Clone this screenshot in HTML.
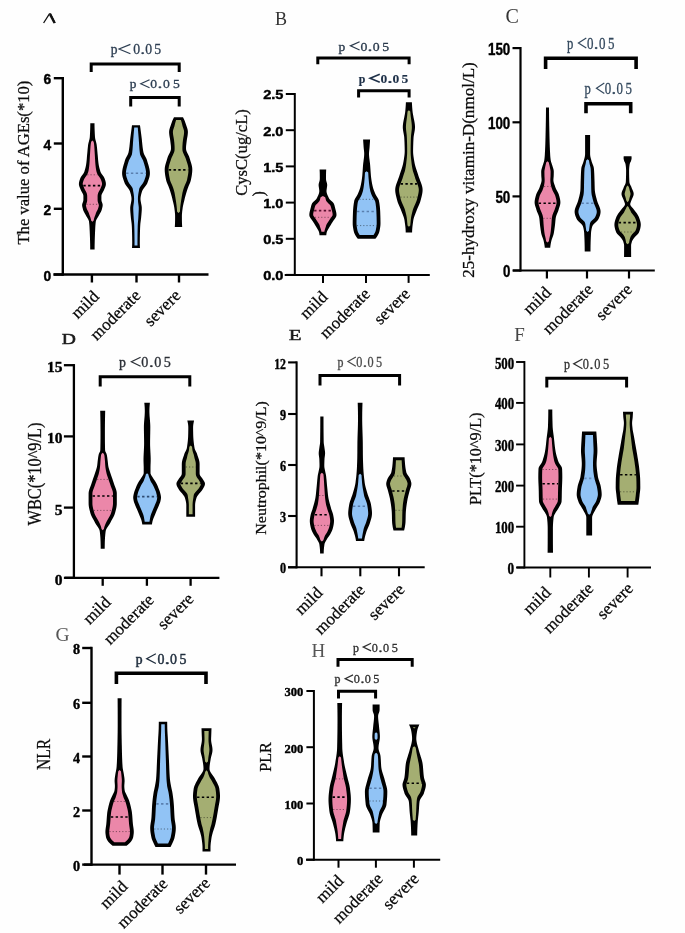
<!DOCTYPE html>
<html><head><meta charset="utf-8"><title>Violin plots</title>
<style>
html,body{margin:0;padding:0;background:#fff;}
body{width:685px;height:933px;overflow:hidden;font-family:"Liberation Serif",serif;}
svg{display:block;filter:blur(0.45px);}
</style></head><body>
<svg width="685" height="933" viewBox="0 0 685 933">
<rect width="685" height="933" fill="#fefefe"/>
<line x1="62.80" y1="77.00" x2="62.80" y2="275.70" stroke="#000" stroke-width="2.40"/>
<line x1="53.40" y1="274.50" x2="208.50" y2="274.50" stroke="#000" stroke-width="2.40"/>
<line x1="53.80" y1="78.20" x2="62.80" y2="78.20" stroke="#000" stroke-width="2.40"/>
<line x1="53.80" y1="143.50" x2="62.80" y2="143.50" stroke="#000" stroke-width="2.40"/>
<line x1="53.80" y1="208.80" x2="62.80" y2="208.80" stroke="#000" stroke-width="2.40"/>
<line x1="53.80" y1="274.50" x2="62.80" y2="274.50" stroke="#000" stroke-width="2.40"/>
<line x1="91.90" y1="274.50" x2="91.90" y2="282.50" stroke="#000" stroke-width="2.40"/>
<line x1="136.50" y1="274.50" x2="136.50" y2="282.50" stroke="#000" stroke-width="2.40"/>
<line x1="179.00" y1="274.50" x2="179.00" y2="282.50" stroke="#000" stroke-width="2.40"/>
<text x="51.20" y="84.47" font-family="Liberation Sans" font-size="13.80" font-weight="bold" fill="#000" stroke="#000" stroke-width="0.40" text-anchor="end">6</text>
<text x="51.20" y="149.77" font-family="Liberation Sans" font-size="13.80" font-weight="bold" fill="#000" stroke="#000" stroke-width="0.40" text-anchor="end">4</text>
<text x="51.20" y="215.07" font-family="Liberation Sans" font-size="13.80" font-weight="bold" fill="#000" stroke="#000" stroke-width="0.40" text-anchor="end">2</text>
<text x="51.20" y="280.77" font-family="Liberation Sans" font-size="13.80" font-weight="bold" fill="#000" stroke="#000" stroke-width="0.40" text-anchor="end">0</text>
<path d="M43.6,23 L49.4,13.8 L50.6,13.8 L55.1,23" fill="none" stroke="#111" stroke-width="1.3"/>
<path d="M50,14.2 L54.6,23" fill="none" stroke="#111" stroke-width="2.4"/>
<text transform="translate(28.60,162.60) rotate(-90) scale(1,1.000)" font-family="Liberation Serif" font-size="16.00" font-weight="normal" fill="#0a0a0a" stroke="#0a0a0a" stroke-width="0.25" text-anchor="middle" textLength="164.00" lengthAdjust="spacingAndGlyphs">The value of AGEs(*10)</text>
<path d="M91.20,72.00 L91.20,64.00 L179.20,64.00 L179.20,72.00" fill="none" stroke="#000" stroke-width="3.00" stroke-linejoin="miter"/>
<text x="110.70" y="54.40" font-family="Liberation Serif" font-size="14.55" font-weight="normal" fill="#2d3e52" stroke="#2d3e52" stroke-width="0.35" textLength="6.74" lengthAdjust="spacingAndGlyphs">p</text>
<path d="M130.41,44.40 L119.04,49.05 L130.41,53.70" fill="none" stroke="#2d3e52" stroke-width="1.20" stroke-linejoin="miter" stroke-miterlimit="10"/>
<text x="133.35" y="54.40" font-family="Liberation Serif" font-size="14.55" font-weight="normal" fill="#2d3e52" stroke="#2d3e52" stroke-width="0.30" textLength="6.89" lengthAdjust="spacingAndGlyphs">0</text>
<text x="140.31" y="54.40" font-family="Liberation Serif" font-size="14.55" font-weight="normal" fill="#2d3e52" stroke="#2d3e52" stroke-width="0.30" textLength="4.99" lengthAdjust="spacingAndGlyphs">.</text>
<text x="145.37" y="54.40" font-family="Liberation Serif" font-size="14.55" font-weight="normal" fill="#2d3e52" stroke="#2d3e52" stroke-width="0.30" textLength="6.89" lengthAdjust="spacingAndGlyphs">0</text>
<text x="154.26" y="54.40" font-family="Liberation Serif" font-size="14.55" font-weight="normal" fill="#2d3e52" stroke="#2d3e52" stroke-width="0.30" textLength="6.89" lengthAdjust="spacingAndGlyphs">5</text>
<path d="M130.70,106.50 L130.70,97.50 L179.20,97.50 L179.20,106.50" fill="none" stroke="#000" stroke-width="3.00" stroke-linejoin="miter"/>
<text x="129.80" y="88.40" font-family="Liberation Serif" font-size="12.58" font-weight="normal" fill="#2d3e52" stroke="#2d3e52" stroke-width="0.35" textLength="6.68" lengthAdjust="spacingAndGlyphs">p</text>
<path d="M149.55,79.70 L140.80,83.70 L149.55,87.70" fill="none" stroke="#2d3e52" stroke-width="1.20" stroke-linejoin="miter" stroke-miterlimit="10"/>
<text x="150.29" y="88.40" font-family="Liberation Serif" font-size="12.58" font-weight="normal" fill="#2d3e52" stroke="#2d3e52" stroke-width="0.30" textLength="6.84" lengthAdjust="spacingAndGlyphs">0</text>
<text x="157.64" y="88.40" font-family="Liberation Serif" font-size="12.58" font-weight="normal" fill="#2d3e52" stroke="#2d3e52" stroke-width="0.30" textLength="4.95" lengthAdjust="spacingAndGlyphs">.</text>
<text x="163.10" y="88.40" font-family="Liberation Serif" font-size="12.58" font-weight="normal" fill="#2d3e52" stroke="#2d3e52" stroke-width="0.30" textLength="6.84" lengthAdjust="spacingAndGlyphs">0</text>
<text x="173.01" y="88.40" font-family="Liberation Serif" font-size="12.58" font-weight="normal" fill="#2d3e52" stroke="#2d3e52" stroke-width="0.30" textLength="6.84" lengthAdjust="spacingAndGlyphs">5</text>
<path d="M94.50,123.20 L94.50,124.47 L94.52,125.75 L94.54,127.02 L94.58,128.30 L94.62,129.57 L94.67,130.85 L94.72,132.12 L94.79,133.40 L94.86,134.67 L94.93,135.95 L95.02,137.22 L95.19,138.50 L95.46,139.77 L95.79,141.05 L96.13,142.32 L96.44,143.60 L96.68,144.87 L96.85,146.15 L96.99,147.42 L97.12,148.69 L97.23,149.97 L97.35,151.24 L97.46,152.52 L97.58,153.79 L97.70,155.07 L97.82,156.34 L97.92,157.62 L98.03,158.89 L98.15,160.17 L98.28,161.44 L98.43,162.72 L98.60,163.99 L98.80,165.27 L99.05,166.54 L99.33,167.82 L99.67,169.09 L100.04,170.37 L100.47,171.64 L101.04,172.92 L101.89,174.19 L102.86,175.46 L103.76,176.74 L104.41,178.01 L104.86,179.29 L105.29,180.56 L105.63,181.84 L105.85,183.11 L105.89,184.39 L105.67,185.66 L105.25,186.94 L104.73,188.21 L104.20,189.49 L103.67,190.76 L102.98,192.04 L102.26,193.31 L101.67,194.59 L101.40,195.86 L101.40,197.14 L101.40,198.41 L101.40,199.68 L101.53,200.96 L101.95,202.23 L102.42,203.51 L102.69,204.78 L102.63,206.06 L102.39,207.33 L102.05,208.61 L101.68,209.88 L101.17,211.16 L100.53,212.43 L99.82,213.71 L99.12,214.98 L98.45,216.26 L97.69,217.53 L96.92,218.81 L96.26,220.08 L95.84,221.36 L95.66,222.63 L95.53,223.91 L95.42,225.18 L95.33,226.45 L95.26,227.73 L95.20,229.00 L95.14,230.28 L95.08,231.55 L95.03,232.83 L94.97,234.10 L94.92,235.38 L94.87,236.65 L94.82,237.93 L94.78,239.20 L94.74,240.48 L94.71,241.75 L94.68,243.03 L94.65,244.30 L94.63,245.58 L94.61,246.85 L94.60,248.13 L94.60,249.40 L90.20,249.40 L90.20,248.13 L90.19,246.85 L90.17,245.58 L90.15,244.30 L90.12,243.03 L90.09,241.75 L90.06,240.48 L90.02,239.20 L89.98,237.93 L89.93,236.65 L89.88,235.38 L89.83,234.10 L89.77,232.83 L89.72,231.55 L89.66,230.28 L89.60,229.00 L89.54,227.73 L89.47,226.45 L89.38,225.18 L89.27,223.91 L89.14,222.63 L88.96,221.36 L88.54,220.08 L87.88,218.81 L87.11,217.53 L86.35,216.26 L85.68,214.98 L84.98,213.71 L84.27,212.43 L83.63,211.16 L83.12,209.88 L82.75,208.61 L82.41,207.33 L82.17,206.06 L82.11,204.78 L82.38,203.51 L82.85,202.23 L83.27,200.96 L83.40,199.68 L83.40,198.41 L83.40,197.14 L83.40,195.86 L83.13,194.59 L82.54,193.31 L81.82,192.04 L81.13,190.76 L80.60,189.49 L80.07,188.21 L79.55,186.94 L79.13,185.66 L78.91,184.39 L78.95,183.11 L79.17,181.84 L79.51,180.56 L79.94,179.29 L80.39,178.01 L81.04,176.74 L81.94,175.46 L82.91,174.19 L83.76,172.92 L84.33,171.64 L84.76,170.37 L85.13,169.09 L85.47,167.82 L85.75,166.54 L86.00,165.27 L86.20,163.99 L86.37,162.72 L86.52,161.44 L86.65,160.17 L86.77,158.89 L86.88,157.62 L86.98,156.34 L87.10,155.07 L87.22,153.79 L87.34,152.52 L87.45,151.24 L87.57,149.97 L87.68,148.69 L87.81,147.42 L87.95,146.15 L88.12,144.87 L88.36,143.60 L88.67,142.32 L89.01,141.05 L89.34,139.77 L89.61,138.50 L89.78,137.22 L89.87,135.95 L89.94,134.67 L90.01,133.40 L90.08,132.12 L90.13,130.85 L90.18,129.57 L90.22,128.30 L90.26,127.02 L90.28,125.75 L90.30,124.47 L90.30,123.20 Z" fill="#000"/>
<path d="M92.40,125.35 L92.40,126.62 L92.40,127.89 L92.40,129.16 L92.40,130.43 L92.40,131.69 L92.40,132.96 L92.40,134.23 L92.40,135.50 L92.40,136.77 L92.40,138.04 L92.40,139.31 L92.40,140.58 L93.62,141.84 L93.88,143.11 L94.09,144.38 L94.23,145.65 L94.33,146.92 L94.42,148.19 L94.50,149.46 L94.57,150.73 L94.65,151.99 L94.72,153.26 L94.80,154.53 L94.88,155.80 L94.95,157.07 L95.02,158.34 L95.09,159.61 L95.17,160.88 L95.25,162.14 L95.35,163.41 L95.46,164.68 L95.59,165.95 L95.74,167.22 L95.91,168.49 L96.11,169.76 L96.33,171.03 L96.68,172.29 L97.14,173.56 L97.75,174.83 L98.58,176.10 L99.54,177.37 L100.47,178.64 L101.05,179.91 L101.49,181.18 L101.87,182.44 L102.09,183.71 L101.91,184.98 L101.43,186.25 L100.90,187.52 L100.40,188.79 L99.74,190.06 L99.01,191.33 L98.38,192.59 L97.92,193.86 L97.66,195.13 L97.60,196.40 L97.60,197.67 L97.60,198.94 L97.61,200.21 L97.75,201.48 L98.09,202.74 L98.56,204.01 L98.89,205.28 L98.67,206.55 L98.33,207.82 L97.93,209.09 L97.33,210.36 L96.63,211.62 L95.98,212.89 L95.60,214.16 L95.14,215.43 L94.64,216.70 L94.23,217.97 L93.91,219.24 L93.68,220.51 L92.40,221.78 L92.40,223.04 L92.40,224.31 L92.40,225.58 L92.40,226.85 L92.40,228.12 L92.40,229.39 L92.40,230.66 L92.40,231.93 L92.40,233.19 L92.40,234.46 L92.40,235.73 L92.40,237.00 L92.40,238.27 L92.40,239.54 L92.40,240.81 L92.40,242.08 L92.40,243.34 L92.40,244.61 L92.40,245.88 L92.40,247.15 L92.40,247.15 L92.40,245.88 L92.40,244.61 L92.40,243.34 L92.40,242.08 L92.40,240.81 L92.40,239.54 L92.40,238.27 L92.40,237.00 L92.40,235.73 L92.40,234.46 L92.40,233.19 L92.40,231.93 L92.40,230.66 L92.40,229.39 L92.40,228.12 L92.40,226.85 L92.40,225.58 L92.40,224.31 L92.40,223.04 L92.40,221.78 L91.12,220.51 L90.89,219.24 L90.57,217.97 L90.16,216.70 L89.66,215.43 L89.20,214.16 L88.82,212.89 L88.17,211.62 L87.47,210.36 L86.87,209.09 L86.47,207.82 L86.13,206.55 L85.91,205.28 L86.24,204.01 L86.71,202.74 L87.05,201.48 L87.19,200.21 L87.20,198.94 L87.20,197.67 L87.20,196.40 L87.14,195.13 L86.88,193.86 L86.42,192.59 L85.79,191.33 L85.06,190.06 L84.40,188.79 L83.90,187.52 L83.37,186.25 L82.89,184.98 L82.71,183.71 L82.93,182.44 L83.31,181.18 L83.75,179.91 L84.33,178.64 L85.26,177.37 L86.22,176.10 L87.05,174.83 L87.66,173.56 L88.12,172.29 L88.47,171.03 L88.69,169.76 L88.89,168.49 L89.06,167.22 L89.21,165.95 L89.34,164.68 L89.45,163.41 L89.55,162.14 L89.63,160.88 L89.71,159.61 L89.78,158.34 L89.85,157.07 L89.92,155.80 L90.00,154.53 L90.08,153.26 L90.15,151.99 L90.23,150.73 L90.30,149.46 L90.38,148.19 L90.47,146.92 L90.57,145.65 L90.71,144.38 L90.92,143.11 L91.18,141.84 L92.40,140.58 L92.40,139.31 L92.40,138.04 L92.40,136.77 L92.40,135.50 L92.40,134.23 L92.40,132.96 L92.40,131.69 L92.40,130.43 L92.40,129.16 L92.40,127.89 L92.40,126.62 L92.40,125.35 Z" fill="#eb87a9"/>
<line x1="83.32" y1="185.60" x2="101.48" y2="185.60" stroke="#000" stroke-width="1.6" stroke-dasharray="2.4 2.4"/>
<line x1="87.26" y1="174.80" x2="97.54" y2="174.80" stroke="rgba(0,0,0,0.45)" stroke-width="1" stroke-dasharray="1.2 2"/>
<line x1="86.36" y1="204.30" x2="98.44" y2="204.30" stroke="rgba(0,0,0,0.45)" stroke-width="1" stroke-dasharray="1.2 2"/>
<path d="M140.00,125.20 L140.17,126.46 L140.33,127.73 L140.50,128.99 L140.66,130.26 L140.83,131.52 L140.99,132.79 L141.16,134.05 L141.32,135.32 L141.48,136.58 L141.64,137.85 L141.79,139.11 L141.93,140.38 L142.06,141.64 L142.18,142.91 L142.31,144.17 L142.44,145.44 L142.58,146.70 L142.74,147.97 L142.92,149.23 L143.12,150.50 L143.35,151.76 L143.63,153.03 L144.11,154.29 L144.73,155.56 L145.42,156.82 L146.10,158.09 L146.67,159.35 L147.09,160.62 L147.49,161.88 L147.89,163.15 L148.28,164.41 L148.64,165.68 L148.98,166.94 L149.28,168.21 L149.53,169.47 L149.72,170.74 L149.85,172.00 L149.90,173.27 L149.85,174.53 L149.67,175.80 L149.40,177.06 L149.05,178.33 L148.64,179.59 L148.19,180.86 L147.74,182.12 L147.21,183.39 L146.46,184.65 L145.56,185.92 L144.59,187.18 L143.65,188.45 L142.81,189.71 L142.18,190.98 L141.78,192.24 L141.41,193.51 L141.08,194.77 L140.81,196.04 L140.61,197.30 L140.51,198.57 L140.53,199.83 L140.68,201.10 L140.91,202.36 L141.18,203.63 L141.44,204.89 L141.66,206.16 L141.78,207.42 L141.79,208.69 L141.76,209.95 L141.69,211.22 L141.60,212.48 L141.49,213.75 L141.38,215.01 L141.26,216.28 L141.15,217.54 L141.01,218.81 L140.85,220.07 L140.69,221.34 L140.52,222.60 L140.37,223.87 L140.26,225.13 L140.18,226.40 L140.12,227.66 L140.07,228.93 L140.02,230.19 L139.98,231.46 L139.95,232.72 L139.92,233.99 L139.90,235.25 L139.87,236.52 L139.85,237.78 L139.83,239.05 L139.82,240.31 L139.80,241.58 L139.80,242.84 L139.81,244.11 L139.86,245.37 L139.92,246.64 L140.00,247.90 L132.00,247.90 L132.08,246.64 L132.14,245.37 L132.19,244.11 L132.20,242.84 L132.20,241.58 L132.18,240.31 L132.17,239.05 L132.15,237.78 L132.13,236.52 L132.10,235.25 L132.08,233.99 L132.05,232.72 L132.02,231.46 L131.98,230.19 L131.93,228.93 L131.88,227.66 L131.82,226.40 L131.74,225.13 L131.63,223.87 L131.48,222.60 L131.31,221.34 L131.15,220.07 L130.99,218.81 L130.85,217.54 L130.74,216.28 L130.62,215.01 L130.51,213.75 L130.40,212.48 L130.31,211.22 L130.24,209.95 L130.21,208.69 L130.22,207.42 L130.34,206.16 L130.56,204.89 L130.82,203.63 L131.09,202.36 L131.32,201.10 L131.47,199.83 L131.49,198.57 L131.39,197.30 L131.19,196.04 L130.92,194.77 L130.59,193.51 L130.22,192.24 L129.82,190.98 L129.19,189.71 L128.35,188.45 L127.41,187.18 L126.44,185.92 L125.54,184.65 L124.79,183.39 L124.26,182.12 L123.81,180.86 L123.36,179.59 L122.95,178.33 L122.60,177.06 L122.33,175.80 L122.15,174.53 L122.10,173.27 L122.15,172.00 L122.28,170.74 L122.47,169.47 L122.72,168.21 L123.02,166.94 L123.36,165.68 L123.72,164.41 L124.11,163.15 L124.51,161.88 L124.91,160.62 L125.33,159.35 L125.90,158.09 L126.58,156.82 L127.27,155.56 L127.89,154.29 L128.37,153.03 L128.65,151.76 L128.88,150.50 L129.08,149.23 L129.26,147.97 L129.42,146.70 L129.56,145.44 L129.69,144.17 L129.82,142.91 L129.94,141.64 L130.07,140.38 L130.21,139.11 L130.36,137.85 L130.52,136.58 L130.68,135.32 L130.84,134.05 L131.01,132.79 L131.17,131.52 L131.34,130.26 L131.50,128.99 L131.67,127.73 L131.83,126.46 L132.00,125.20 Z" fill="#000"/>
<path d="M137.79,127.60 L137.89,128.87 L138.00,130.14 L138.11,131.40 L138.21,132.67 L138.32,133.94 L138.43,135.21 L138.53,136.47 L138.64,137.74 L138.74,139.01 L138.83,140.28 L138.92,141.55 L139.00,142.81 L139.08,144.08 L139.16,145.35 L139.25,146.62 L139.35,147.88 L139.45,149.15 L139.57,150.42 L139.71,151.69 L139.85,152.95 L140.03,154.22 L140.49,155.49 L141.08,156.76 L141.75,158.03 L142.44,159.29 L143.06,160.56 L143.49,161.83 L143.89,163.10 L144.29,164.36 L144.68,165.63 L145.04,166.90 L145.37,168.17 L145.66,169.44 L145.88,170.70 L146.03,171.97 L146.10,173.24 L146.03,174.51 L145.80,175.77 L145.47,177.04 L145.06,178.31 L144.62,179.58 L144.16,180.85 L143.57,182.11 L142.71,183.38 L141.75,184.65 L140.79,185.92 L139.92,187.18 L139.31,188.45 L139.05,189.72 L138.86,190.99 L138.63,192.25 L138.41,193.52 L138.23,194.79 L138.08,196.06 L137.98,197.33 L137.93,198.59 L137.94,199.86 L138.02,201.13 L138.14,202.40 L138.31,203.66 L138.49,204.93 L138.65,206.20 L138.76,207.47 L138.77,208.74 L138.74,210.00 L138.69,211.27 L138.62,212.54 L138.55,213.81 L138.48,215.07 L138.41,216.34 L138.33,217.61 L138.24,218.88 L138.13,220.15 L138.02,221.41 L137.91,222.68 L137.82,223.95 L137.76,225.22 L137.71,226.48 L137.68,227.75 L137.64,229.02 L137.61,230.29 L137.59,231.55 L137.57,232.82 L137.55,234.09 L137.53,235.36 L137.52,236.63 L137.50,237.89 L137.49,239.16 L137.48,240.43 L137.47,241.70 L137.47,242.96 L137.48,244.23 L137.51,245.50 L134.49,245.50 L134.52,244.23 L134.53,242.96 L134.53,241.70 L134.52,240.43 L134.51,239.16 L134.50,237.89 L134.48,236.63 L134.47,235.36 L134.45,234.09 L134.43,232.82 L134.41,231.55 L134.39,230.29 L134.36,229.02 L134.32,227.75 L134.29,226.48 L134.24,225.22 L134.18,223.95 L134.09,222.68 L133.98,221.41 L133.87,220.15 L133.76,218.88 L133.67,217.61 L133.59,216.34 L133.52,215.07 L133.45,213.81 L133.38,212.54 L133.31,211.27 L133.26,210.00 L133.23,208.74 L133.24,207.47 L133.35,206.20 L133.51,204.93 L133.69,203.66 L133.86,202.40 L133.98,201.13 L134.06,199.86 L134.07,198.59 L134.02,197.33 L133.92,196.06 L133.77,194.79 L133.59,193.52 L133.37,192.25 L133.14,190.99 L132.95,189.72 L132.69,188.45 L132.08,187.18 L131.21,185.92 L130.25,184.65 L129.29,183.38 L128.43,182.11 L127.84,180.85 L127.38,179.58 L126.94,178.31 L126.53,177.04 L126.20,175.77 L125.97,174.51 L125.90,173.24 L125.97,171.97 L126.12,170.70 L126.34,169.44 L126.63,168.17 L126.96,166.90 L127.32,165.63 L127.71,164.36 L128.11,163.10 L128.51,161.83 L128.94,160.56 L129.56,159.29 L130.25,158.03 L130.92,156.76 L131.51,155.49 L131.97,154.22 L132.15,152.95 L132.29,151.69 L132.43,150.42 L132.55,149.15 L132.65,147.88 L132.75,146.62 L132.84,145.35 L132.92,144.08 L133.00,142.81 L133.08,141.55 L133.17,140.28 L133.26,139.01 L133.36,137.74 L133.47,136.47 L133.57,135.21 L133.68,133.94 L133.79,132.67 L133.89,131.40 L134.00,130.14 L134.11,128.87 L134.21,127.60 Z" fill="#91c3f5"/>
<line x1="126.10" y1="173.30" x2="145.90" y2="173.30" stroke="#5a7fae" stroke-width="1.6" stroke-dasharray="2.4 2.4"/>
<path d="M183.00,117.30 L183.62,118.57 L184.21,119.85 L184.76,121.12 L185.27,122.40 L185.73,123.67 L186.14,124.95 L186.58,126.22 L187.01,127.50 L187.40,128.77 L187.70,130.04 L187.87,131.32 L187.89,132.59 L187.80,133.87 L187.64,135.14 L187.44,136.42 L187.21,137.69 L186.99,138.97 L186.79,140.24 L186.64,141.51 L186.49,142.79 L186.33,144.06 L186.18,145.34 L186.07,146.61 L186.01,147.89 L186.04,149.16 L186.31,150.43 L186.77,151.71 L187.36,152.98 L188.00,154.26 L188.63,155.53 L189.17,156.81 L189.58,158.08 L189.98,159.36 L190.39,160.63 L190.80,161.90 L191.19,163.18 L191.55,164.45 L191.85,165.73 L192.09,167.00 L192.24,168.28 L192.30,169.55 L192.27,170.83 L192.19,172.10 L192.06,173.37 L191.88,174.65 L191.68,175.92 L191.45,177.20 L191.21,178.47 L190.95,179.75 L190.65,181.02 L190.24,182.30 L189.74,183.57 L189.19,184.84 L188.63,186.12 L188.09,187.39 L187.61,188.67 L187.20,189.94 L186.80,191.22 L186.41,192.49 L186.04,193.77 L185.68,195.04 L185.33,196.31 L185.00,197.59 L184.68,198.86 L184.36,200.14 L184.04,201.41 L183.72,202.69 L183.43,203.96 L183.15,205.23 L182.91,206.51 L182.70,207.78 L182.53,209.06 L182.36,210.33 L182.20,211.61 L182.07,212.88 L181.96,214.16 L181.91,215.43 L181.90,216.70 L181.90,217.98 L181.91,219.25 L181.92,220.53 L181.95,221.80 L181.98,223.08 L182.03,224.35 L182.11,225.63 L182.20,226.90 L174.80,226.90 L174.89,225.63 L174.97,224.35 L175.02,223.08 L175.05,221.80 L175.08,220.53 L175.09,219.25 L175.10,217.98 L175.10,216.70 L175.09,215.43 L175.04,214.16 L174.93,212.88 L174.80,211.61 L174.64,210.33 L174.47,209.06 L174.30,207.78 L174.09,206.51 L173.85,205.23 L173.57,203.96 L173.28,202.69 L172.96,201.41 L172.64,200.14 L172.32,198.86 L172.00,197.59 L171.67,196.31 L171.32,195.04 L170.96,193.77 L170.59,192.49 L170.20,191.22 L169.80,189.94 L169.39,188.67 L168.91,187.39 L168.37,186.12 L167.81,184.84 L167.26,183.57 L166.76,182.30 L166.35,181.02 L166.05,179.75 L165.79,178.47 L165.55,177.20 L165.32,175.92 L165.12,174.65 L164.94,173.37 L164.81,172.10 L164.73,170.83 L164.70,169.55 L164.76,168.28 L164.91,167.00 L165.15,165.73 L165.45,164.45 L165.81,163.18 L166.20,161.90 L166.61,160.63 L167.02,159.36 L167.42,158.08 L167.83,156.81 L168.37,155.53 L169.00,154.26 L169.64,152.98 L170.23,151.71 L170.69,150.43 L170.96,149.16 L170.99,147.89 L170.93,146.61 L170.82,145.34 L170.67,144.06 L170.51,142.79 L170.36,141.51 L170.21,140.24 L170.01,138.97 L169.79,137.69 L169.56,136.42 L169.36,135.14 L169.20,133.87 L169.11,132.59 L169.13,131.32 L169.30,130.04 L169.60,128.77 L169.99,127.50 L170.42,126.22 L170.86,124.95 L171.27,123.67 L171.73,122.40 L172.24,121.12 L172.79,119.85 L173.38,118.57 L174.00,117.30 Z" fill="#000"/>
<path d="M180.91,119.88 L181.29,121.15 L181.65,122.43 L181.98,123.71 L182.29,124.98 L182.58,126.26 L183.01,127.54 L183.44,128.81 L183.82,130.09 L184.06,131.37 L184.08,132.65 L183.97,133.92 L183.79,135.20 L183.57,136.48 L183.34,137.75 L183.13,139.03 L182.96,140.31 L182.81,141.59 L182.66,142.86 L182.56,144.14 L182.47,145.42 L182.41,146.69 L182.38,147.97 L182.39,149.25 L182.48,150.53 L182.76,151.80 L183.23,153.08 L183.80,154.36 L184.44,155.63 L185.08,156.91 L185.63,158.19 L186.03,159.47 L186.43,160.74 L186.85,162.02 L187.26,163.30 L187.64,164.57 L187.98,165.85 L188.25,167.13 L188.44,168.41 L188.50,169.68 L188.46,170.96 L188.36,172.24 L188.21,173.51 L188.02,174.79 L187.79,176.07 L187.55,177.35 L187.30,178.62 L187.02,179.90 L186.60,181.18 L186.09,182.45 L185.53,183.73 L184.97,185.01 L184.45,186.29 L183.97,187.56 L183.56,188.84 L183.16,190.12 L182.77,191.39 L182.45,192.67 L182.23,193.95 L182.01,195.23 L181.80,196.50 L181.59,197.78 L181.39,199.06 L181.18,200.33 L180.98,201.61 L180.79,202.89 L180.61,204.17 L180.45,205.44 L180.30,206.72 L180.19,208.00 L180.08,209.27 L179.97,210.55 L179.86,211.83 L178.50,213.11 L178.50,214.38 L178.50,215.66 L178.50,216.94 L178.50,218.21 L178.50,219.49 L178.50,220.77 L178.50,222.05 L178.50,223.32 L178.50,224.60 L178.50,224.60 L178.50,223.32 L178.50,222.05 L178.50,220.77 L178.50,219.49 L178.50,218.21 L178.50,216.94 L178.50,215.66 L178.50,214.38 L178.50,213.11 L177.14,211.83 L177.03,210.55 L176.92,209.27 L176.81,208.00 L176.70,206.72 L176.55,205.44 L176.39,204.17 L176.21,202.89 L176.02,201.61 L175.82,200.33 L175.61,199.06 L175.41,197.78 L175.20,196.50 L174.99,195.23 L174.77,193.95 L174.55,192.67 L174.23,191.39 L173.84,190.12 L173.44,188.84 L173.03,187.56 L172.55,186.29 L172.03,185.01 L171.47,183.73 L170.91,182.45 L170.40,181.18 L169.98,179.90 L169.70,178.62 L169.45,177.35 L169.21,176.07 L168.98,174.79 L168.79,173.51 L168.64,172.24 L168.54,170.96 L168.50,169.68 L168.56,168.41 L168.75,167.13 L169.02,165.85 L169.36,164.57 L169.74,163.30 L170.15,162.02 L170.57,160.74 L170.97,159.47 L171.37,158.19 L171.92,156.91 L172.56,155.63 L173.20,154.36 L173.77,153.08 L174.24,151.80 L174.52,150.53 L174.61,149.25 L174.62,147.97 L174.59,146.69 L174.53,145.42 L174.44,144.14 L174.34,142.86 L174.19,141.59 L174.04,140.31 L173.87,139.03 L173.66,137.75 L173.43,136.48 L173.21,135.20 L173.03,133.92 L172.92,132.65 L172.94,131.37 L173.18,130.09 L173.56,128.81 L173.99,127.54 L174.42,126.26 L174.71,124.98 L175.02,123.71 L175.35,122.43 L175.71,121.15 L176.09,119.88 Z" fill="#a4ae72"/>
<line x1="168.71" y1="169.90" x2="188.29" y2="169.90" stroke="#000" stroke-width="1.6" stroke-dasharray="2.4 2.4"/>
<text transform="translate(99.90,297.50) rotate(-45)" font-family="Liberation Serif" font-size="17.00" fill="#050505" stroke="#050505" stroke-width="0.25" text-anchor="end">mild</text>
<text transform="translate(141.50,296.50) rotate(-45)" font-family="Liberation Serif" font-size="17.00" fill="#050505" stroke="#050505" stroke-width="0.25" text-anchor="end">moderate</text>
<text transform="translate(181.50,296.50) rotate(-45)" font-family="Liberation Serif" font-size="17.00" fill="#050505" stroke="#050505" stroke-width="0.25" text-anchor="end">severe</text>
<line x1="294.80" y1="93.00" x2="294.80" y2="275.90" stroke="#000" stroke-width="2.00"/>
<line x1="284.70" y1="274.90" x2="429.80" y2="274.90" stroke="#000" stroke-width="2.00"/>
<line x1="285.80" y1="94.00" x2="294.80" y2="94.00" stroke="#000" stroke-width="2.00"/>
<line x1="285.80" y1="130.20" x2="294.80" y2="130.20" stroke="#000" stroke-width="2.00"/>
<line x1="285.80" y1="166.40" x2="294.80" y2="166.40" stroke="#000" stroke-width="2.00"/>
<line x1="285.80" y1="202.60" x2="294.80" y2="202.60" stroke="#000" stroke-width="2.00"/>
<line x1="285.80" y1="238.80" x2="294.80" y2="238.80" stroke="#000" stroke-width="2.00"/>
<line x1="285.80" y1="274.90" x2="294.80" y2="274.90" stroke="#000" stroke-width="2.00"/>
<line x1="323.00" y1="274.90" x2="323.00" y2="282.90" stroke="#000" stroke-width="2.00"/>
<line x1="366.00" y1="274.90" x2="366.00" y2="282.90" stroke="#000" stroke-width="2.00"/>
<line x1="408.60" y1="274.90" x2="408.60" y2="282.90" stroke="#000" stroke-width="2.00"/>
<text x="263.20" y="99.33" font-family="Liberation Sans" font-size="12.30" font-weight="bold" fill="#000" stroke="#000" stroke-width="0.40" textLength="20.30" lengthAdjust="spacingAndGlyphs">2.5</text>
<text x="263.20" y="135.53" font-family="Liberation Sans" font-size="12.30" font-weight="bold" fill="#000" stroke="#000" stroke-width="0.40" textLength="20.30" lengthAdjust="spacingAndGlyphs">2.0</text>
<text x="263.20" y="171.73" font-family="Liberation Sans" font-size="12.30" font-weight="bold" fill="#000" stroke="#000" stroke-width="0.40" textLength="20.30" lengthAdjust="spacingAndGlyphs">1.5</text>
<text x="263.20" y="207.93" font-family="Liberation Sans" font-size="12.30" font-weight="bold" fill="#000" stroke="#000" stroke-width="0.40" textLength="20.30" lengthAdjust="spacingAndGlyphs">1.0</text>
<text x="263.20" y="244.13" font-family="Liberation Sans" font-size="12.30" font-weight="bold" fill="#000" stroke="#000" stroke-width="0.40" textLength="20.30" lengthAdjust="spacingAndGlyphs">0.5</text>
<text x="263.20" y="280.23" font-family="Liberation Sans" font-size="12.30" font-weight="bold" fill="#000" stroke="#000" stroke-width="0.40" textLength="20.30" lengthAdjust="spacingAndGlyphs">0.0</text>
<text transform="translate(275.00,24.60) scale(0.950,1.000)" font-family="Liberation Serif" font-size="19.00" font-weight="normal" fill="#333" stroke="#333" stroke-width="0.00">B</text>
<text transform="translate(246.50,152.50) rotate(-90) scale(1,1.000)" font-family="Liberation Serif" font-size="16.00" font-weight="normal" fill="#0a0a0a" stroke="#0a0a0a" stroke-width="0.25" text-anchor="middle" textLength="86.50" lengthAdjust="spacingAndGlyphs">CysC(ug/cL)</text>
<text transform="translate(263.80,193.80) rotate(-90) scale(1,1.000)" font-family="Liberation Serif" font-size="16.00" font-weight="normal" fill="#0a0a0a" stroke="#0a0a0a" stroke-width="0.25" text-anchor="middle">)</text>
<path d="M317.80,64.20 L317.80,58.00 L409.10,58.00 L409.10,64.20" fill="none" stroke="#000" stroke-width="3.00" stroke-linejoin="miter"/>
<text x="338.60" y="50.70" font-family="Liberation Serif" font-size="13.03" font-weight="normal" fill="#2a3a4c" stroke="#2a3a4c" stroke-width="0.35" textLength="6.74" lengthAdjust="spacingAndGlyphs">p</text>
<path d="M359.61,41.70 L350.43,45.85 L359.61,50.00" fill="none" stroke="#2a3a4c" stroke-width="1.20" stroke-linejoin="miter" stroke-miterlimit="10"/>
<text x="360.40" y="50.70" font-family="Liberation Serif" font-size="13.03" font-weight="normal" fill="#2a3a4c" stroke="#2a3a4c" stroke-width="0.30" textLength="6.89" lengthAdjust="spacingAndGlyphs">0</text>
<text x="367.55" y="50.70" font-family="Liberation Serif" font-size="13.03" font-weight="normal" fill="#2a3a4c" stroke="#2a3a4c" stroke-width="0.30" textLength="4.99" lengthAdjust="spacingAndGlyphs">.</text>
<text x="372.80" y="50.70" font-family="Liberation Serif" font-size="13.03" font-weight="normal" fill="#2a3a4c" stroke="#2a3a4c" stroke-width="0.30" textLength="6.89" lengthAdjust="spacingAndGlyphs">0</text>
<text x="382.16" y="50.70" font-family="Liberation Serif" font-size="13.03" font-weight="normal" fill="#2a3a4c" stroke="#2a3a4c" stroke-width="0.30" textLength="6.89" lengthAdjust="spacingAndGlyphs">5</text>
<path d="M358.60,97.40 L358.60,90.80 L409.10,90.80 L409.10,97.40" fill="none" stroke="#000" stroke-width="3.00" stroke-linejoin="miter"/>
<text x="358.70" y="82.90" font-family="Liberation Serif" font-size="12.58" font-weight="bold" fill="#1e3048" stroke="#1e3048" stroke-width="0.20" textLength="6.62" lengthAdjust="spacingAndGlyphs">p</text>
<path d="M379.76,74.20 L370.09,78.20 L379.76,82.20" fill="none" stroke="#1e3048" stroke-width="1.60" stroke-linejoin="miter" stroke-miterlimit="10"/>
<text x="380.45" y="82.90" font-family="Liberation Serif" font-size="12.58" font-weight="bold" fill="#1e3048" stroke="#1e3048" stroke-width="0.10" textLength="6.77" lengthAdjust="spacingAndGlyphs">0</text>
<text x="387.40" y="82.90" font-family="Liberation Serif" font-size="12.58" font-weight="bold" fill="#1e3048" stroke="#1e3048" stroke-width="0.10" textLength="4.90" lengthAdjust="spacingAndGlyphs">.</text>
<text x="392.47" y="82.90" font-family="Liberation Serif" font-size="12.58" font-weight="bold" fill="#1e3048" stroke="#1e3048" stroke-width="0.10" textLength="6.77" lengthAdjust="spacingAndGlyphs">0</text>
<text x="401.47" y="82.90" font-family="Liberation Serif" font-size="12.58" font-weight="bold" fill="#1e3048" stroke="#1e3048" stroke-width="0.10" textLength="6.77" lengthAdjust="spacingAndGlyphs">5</text>
<path d="M326.20,169.60 L326.13,170.89 L326.08,172.17 L326.04,173.46 L326.02,174.75 L326.01,176.03 L326.00,177.32 L326.00,178.60 L326.07,179.89 L326.36,181.18 L326.74,182.46 L327.07,183.75 L327.20,185.04 L327.11,186.32 L326.92,187.61 L326.70,188.89 L326.54,190.18 L326.51,191.47 L326.70,192.75 L327.06,194.04 L327.56,195.33 L328.16,196.61 L328.83,197.90 L329.59,199.18 L330.88,200.47 L332.34,201.76 L333.50,203.04 L334.10,204.33 L334.53,205.62 L334.88,206.90 L335.20,208.19 L335.52,209.47 L335.85,210.76 L336.15,212.05 L336.38,213.33 L336.49,214.62 L336.38,215.91 L335.85,217.19 L335.05,218.48 L334.12,219.76 L333.21,221.05 L332.42,222.34 L331.60,223.62 L330.76,224.91 L329.95,226.20 L329.21,227.48 L328.48,228.77 L327.74,230.05 L327.08,231.34 L326.62,232.63 L326.40,233.91 L326.30,235.20 L319.50,235.20 L319.40,233.91 L319.18,232.63 L318.72,231.34 L318.06,230.05 L317.32,228.77 L316.59,227.48 L315.85,226.20 L315.04,224.91 L314.20,223.62 L313.38,222.34 L312.59,221.05 L311.68,219.76 L310.75,218.48 L309.95,217.19 L309.42,215.91 L309.31,214.62 L309.42,213.33 L309.65,212.05 L309.95,210.76 L310.28,209.47 L310.60,208.19 L310.92,206.90 L311.27,205.62 L311.70,204.33 L312.30,203.04 L313.46,201.76 L314.92,200.47 L316.21,199.18 L316.97,197.90 L317.64,196.61 L318.24,195.33 L318.74,194.04 L319.10,192.75 L319.29,191.47 L319.26,190.18 L319.10,188.89 L318.88,187.61 L318.69,186.32 L318.60,185.04 L318.73,183.75 L319.06,182.46 L319.44,181.18 L319.73,179.89 L319.80,178.60 L319.80,177.32 L319.79,176.03 L319.78,174.75 L319.76,173.46 L319.72,172.17 L319.67,170.89 L319.60,169.60 Z" fill="#000"/>
<path d="M322.90,172.95 L322.90,174.23 L322.90,175.51 L322.90,176.78 L322.90,178.06 L322.90,179.34 L322.90,180.62 L322.90,181.90 L322.90,183.18 L322.90,184.45 L322.90,185.73 L322.90,187.01 L322.90,188.29 L322.90,189.57 L322.90,190.85 L322.90,192.12 L322.90,193.40 L322.90,194.68 L322.90,195.96 L325.19,197.24 L325.56,198.52 L325.83,199.79 L326.27,201.07 L327.34,202.35 L328.72,203.63 L330.13,204.91 L330.73,206.18 L331.10,207.46 L331.42,208.74 L331.74,210.02 L332.07,211.30 L332.38,212.58 L332.62,213.85 L332.63,215.13 L331.86,216.41 L330.93,217.69 L330.03,218.97 L329.24,220.25 L328.44,221.52 L327.61,222.80 L326.79,224.08 L326.21,225.36 L325.81,226.64 L325.36,227.92 L324.95,229.19 L324.61,230.47 L324.37,231.75 L321.43,231.75 L321.19,230.47 L320.85,229.19 L320.44,227.92 L319.99,226.64 L319.59,225.36 L319.01,224.08 L318.19,222.80 L317.36,221.52 L316.56,220.25 L315.77,218.97 L314.87,217.69 L313.94,216.41 L313.17,215.13 L313.18,213.85 L313.42,212.58 L313.73,211.30 L314.06,210.02 L314.38,208.74 L314.70,207.46 L315.07,206.18 L315.67,204.91 L317.08,203.63 L318.46,202.35 L319.53,201.07 L319.97,199.79 L320.24,198.52 L320.61,197.24 L322.90,195.96 L322.90,194.68 L322.90,193.40 L322.90,192.12 L322.90,190.85 L322.90,189.57 L322.90,188.29 L322.90,187.01 L322.90,185.73 L322.90,184.45 L322.90,183.18 L322.90,181.90 L322.90,180.62 L322.90,179.34 L322.90,178.06 L322.90,176.78 L322.90,175.51 L322.90,174.23 L322.90,172.95 Z" fill="#eb87a9"/>
<line x1="314.11" y1="210.60" x2="331.69" y2="210.60" stroke="#5a1030" stroke-width="1.6" stroke-dasharray="2.4 2.4"/>
<line x1="314.79" y1="217.30" x2="331.01" y2="217.30" stroke="rgba(0,0,0,0.45)" stroke-width="1" stroke-dasharray="1.2 2"/>
<path d="M370.10,139.50 L370.02,140.77 L369.94,142.05 L369.85,143.32 L369.76,144.59 L369.67,145.87 L369.57,147.14 L369.45,148.41 L369.31,149.68 L369.17,150.96 L369.06,152.23 L369.00,153.50 L369.02,154.78 L369.09,156.05 L369.20,157.32 L369.35,158.60 L369.52,159.87 L369.70,161.14 L369.87,162.42 L370.02,163.69 L370.14,164.96 L370.24,166.23 L370.33,167.51 L370.42,168.78 L370.50,170.05 L370.59,171.33 L370.68,172.60 L370.78,173.87 L370.89,175.15 L371.01,176.42 L371.16,177.69 L371.32,178.97 L371.50,180.24 L371.70,181.51 L371.92,182.78 L372.16,184.06 L372.42,185.33 L372.72,186.60 L373.08,187.88 L373.50,189.15 L373.96,190.42 L374.45,191.70 L374.97,192.97 L375.51,194.24 L376.17,195.52 L376.95,196.79 L377.74,198.06 L378.43,199.33 L378.91,200.61 L379.16,201.88 L379.38,203.15 L379.56,204.43 L379.73,205.70 L379.87,206.97 L379.98,208.25 L380.08,209.52 L380.16,210.79 L380.22,212.07 L380.27,213.34 L380.31,214.61 L380.36,215.88 L380.40,217.16 L380.43,218.43 L380.46,219.70 L380.48,220.98 L380.50,222.25 L380.50,223.52 L380.46,224.80 L380.35,226.07 L380.19,227.34 L379.98,228.62 L379.72,229.89 L379.45,231.16 L379.12,232.43 L378.62,233.71 L377.97,234.98 L377.24,236.25 L376.41,237.53 L375.40,238.80 L357.80,238.80 L356.79,237.53 L355.96,236.25 L355.23,234.98 L354.58,233.71 L354.08,232.43 L353.75,231.16 L353.48,229.89 L353.22,228.62 L353.01,227.34 L352.85,226.07 L352.74,224.80 L352.70,223.52 L352.70,222.25 L352.72,220.98 L352.74,219.70 L352.77,218.43 L352.80,217.16 L352.84,215.88 L352.89,214.61 L352.93,213.34 L352.98,212.07 L353.04,210.79 L353.12,209.52 L353.22,208.25 L353.33,206.97 L353.47,205.70 L353.64,204.43 L353.82,203.15 L354.04,201.88 L354.29,200.61 L354.77,199.33 L355.46,198.06 L356.25,196.79 L357.03,195.52 L357.69,194.24 L358.23,192.97 L358.75,191.70 L359.24,190.42 L359.70,189.15 L360.12,187.88 L360.48,186.60 L360.78,185.33 L361.04,184.06 L361.28,182.78 L361.50,181.51 L361.70,180.24 L361.88,178.97 L362.04,177.69 L362.19,176.42 L362.31,175.15 L362.42,173.87 L362.52,172.60 L362.61,171.33 L362.70,170.05 L362.78,168.78 L362.87,167.51 L362.96,166.23 L363.06,164.96 L363.18,163.69 L363.33,162.42 L363.50,161.14 L363.68,159.87 L363.85,158.60 L364.00,157.32 L364.11,156.05 L364.18,154.78 L364.20,153.50 L364.14,152.23 L364.03,150.96 L363.89,149.68 L363.75,148.41 L363.63,147.14 L363.53,145.87 L363.44,144.59 L363.35,143.32 L363.26,142.05 L363.18,140.77 L363.10,139.50 Z" fill="#000"/>
<path d="M366.60,143.05 L366.60,144.33 L366.60,145.60 L366.60,146.88 L366.60,148.16 L366.60,149.44 L366.60,150.71 L366.60,151.99 L366.60,153.27 L366.60,154.54 L366.60,155.82 L366.60,157.10 L366.60,158.38 L366.60,159.65 L366.60,160.93 L366.60,162.21 L366.60,163.48 L366.60,164.76 L366.60,166.04 L366.60,167.31 L366.60,168.59 L366.60,169.87 L366.60,171.15 L368.24,172.42 L368.30,173.70 L368.37,174.98 L368.44,176.25 L368.53,177.53 L368.63,178.81 L368.74,180.09 L368.86,181.36 L368.99,182.64 L369.14,183.92 L369.30,185.19 L369.47,186.47 L369.65,187.75 L369.88,189.03 L370.13,190.30 L370.41,191.58 L370.83,192.86 L371.34,194.13 L371.87,195.41 L372.48,196.69 L373.21,197.96 L374.01,199.24 L374.77,200.52 L375.28,201.80 L375.51,203.07 L375.72,204.35 L375.89,205.63 L376.04,206.90 L376.17,208.18 L376.27,209.46 L376.35,210.74 L376.41,212.01 L376.46,213.29 L376.51,214.57 L376.56,215.84 L376.60,217.12 L376.63,218.40 L376.66,219.68 L376.68,220.95 L376.70,222.23 L376.70,223.51 L376.65,224.78 L376.53,226.06 L376.34,227.34 L376.11,228.61 L375.84,229.89 L375.54,231.17 L375.01,232.45 L374.32,233.72 L373.55,235.00 L359.65,235.00 L358.88,233.72 L358.19,232.45 L357.66,231.17 L357.36,229.89 L357.09,228.61 L356.86,227.34 L356.67,226.06 L356.55,224.78 L356.50,223.51 L356.50,222.23 L356.52,220.95 L356.54,219.68 L356.57,218.40 L356.60,217.12 L356.64,215.84 L356.69,214.57 L356.74,213.29 L356.79,212.01 L356.85,210.74 L356.93,209.46 L357.03,208.18 L357.16,206.90 L357.31,205.63 L357.48,204.35 L357.69,203.07 L357.92,201.80 L358.43,200.52 L359.19,199.24 L359.99,197.96 L360.72,196.69 L361.33,195.41 L361.86,194.13 L362.37,192.86 L362.79,191.58 L363.07,190.30 L363.32,189.03 L363.55,187.75 L363.73,186.47 L363.90,185.19 L364.06,183.92 L364.21,182.64 L364.34,181.36 L364.46,180.09 L364.57,178.81 L364.67,177.53 L364.76,176.25 L364.83,174.98 L364.90,173.70 L364.96,172.42 L366.60,171.15 L366.60,169.87 L366.60,168.59 L366.60,167.31 L366.60,166.04 L366.60,164.76 L366.60,163.48 L366.60,162.21 L366.60,160.93 L366.60,159.65 L366.60,158.38 L366.60,157.10 L366.60,155.82 L366.60,154.54 L366.60,153.27 L366.60,151.99 L366.60,150.71 L366.60,149.44 L366.60,148.16 L366.60,146.88 L366.60,145.60 L366.60,144.33 L366.60,143.05 Z" fill="#91c3f5"/>
<line x1="357.01" y1="211.50" x2="376.19" y2="211.50" stroke="#5a7fae" stroke-width="1.6" stroke-dasharray="2.4 2.4"/>
<line x1="359.36" y1="199.30" x2="373.84" y2="199.30" stroke="rgba(0,0,0,0.45)" stroke-width="1" stroke-dasharray="1.2 2"/>
<line x1="356.82" y1="225.60" x2="376.38" y2="225.60" stroke="rgba(0,0,0,0.45)" stroke-width="1" stroke-dasharray="1.2 2"/>
<path d="M411.90,102.20 L411.95,103.47 L412.02,104.73 L412.10,106.00 L412.19,107.26 L412.29,108.53 L412.39,109.79 L412.51,111.06 L412.65,112.32 L412.84,113.59 L413.06,114.85 L413.31,116.12 L413.57,117.38 L413.84,118.65 L414.10,119.91 L414.35,121.18 L414.57,122.44 L414.76,123.71 L414.90,124.97 L414.98,126.24 L415.00,127.50 L414.93,128.77 L414.79,130.03 L414.59,131.30 L414.37,132.56 L414.13,133.83 L413.90,135.09 L413.70,136.36 L413.56,137.62 L413.48,138.89 L413.41,140.15 L413.35,141.42 L413.30,142.68 L413.25,143.95 L413.21,145.21 L413.17,146.48 L413.14,147.74 L413.12,149.01 L413.10,150.27 L413.10,151.54 L413.14,152.80 L413.22,154.07 L413.35,155.33 L413.51,156.60 L413.70,157.86 L413.91,159.13 L414.13,160.39 L414.35,161.66 L414.58,162.92 L414.84,164.19 L415.16,165.45 L415.51,166.72 L415.89,167.98 L416.30,169.25 L416.72,170.51 L417.14,171.78 L417.56,173.04 L417.97,174.31 L418.35,175.57 L418.76,176.84 L419.22,178.10 L419.71,179.37 L420.21,180.63 L420.70,181.90 L421.17,183.16 L421.61,184.43 L421.98,185.69 L422.28,186.96 L422.49,188.22 L422.59,189.49 L422.58,190.75 L422.48,192.02 L422.30,193.28 L422.07,194.55 L421.80,195.81 L421.50,197.08 L421.18,198.34 L420.87,199.61 L420.52,200.87 L420.09,202.14 L419.60,203.40 L419.07,204.67 L418.52,205.93 L417.97,207.20 L417.42,208.46 L416.90,209.73 L416.43,210.99 L415.95,212.26 L415.46,213.52 L414.96,214.79 L414.49,216.05 L414.06,217.32 L413.69,218.58 L413.40,219.85 L413.19,221.11 L413.00,222.38 L412.82,223.64 L412.65,224.91 L412.49,226.17 L412.36,227.44 L412.25,228.70 L412.17,229.97 L412.12,231.23 L412.10,232.50 L405.70,232.50 L405.68,231.23 L405.63,229.97 L405.55,228.70 L405.44,227.44 L405.31,226.17 L405.15,224.91 L404.98,223.64 L404.80,222.38 L404.61,221.11 L404.40,219.85 L404.11,218.58 L403.74,217.32 L403.31,216.05 L402.84,214.79 L402.34,213.52 L401.85,212.26 L401.37,210.99 L400.90,209.73 L400.38,208.46 L399.83,207.20 L399.28,205.93 L398.73,204.67 L398.20,203.40 L397.71,202.14 L397.28,200.87 L396.93,199.61 L396.62,198.34 L396.30,197.08 L396.00,195.81 L395.73,194.55 L395.50,193.28 L395.32,192.02 L395.22,190.75 L395.21,189.49 L395.31,188.22 L395.52,186.96 L395.82,185.69 L396.19,184.43 L396.63,183.16 L397.10,181.90 L397.59,180.63 L398.09,179.37 L398.58,178.10 L399.04,176.84 L399.45,175.57 L399.83,174.31 L400.24,173.04 L400.66,171.78 L401.08,170.51 L401.50,169.25 L401.91,167.98 L402.29,166.72 L402.64,165.45 L402.96,164.19 L403.22,162.92 L403.45,161.66 L403.67,160.39 L403.89,159.13 L404.10,157.86 L404.29,156.60 L404.45,155.33 L404.58,154.07 L404.66,152.80 L404.70,151.54 L404.70,150.27 L404.68,149.01 L404.66,147.74 L404.63,146.48 L404.59,145.21 L404.55,143.95 L404.50,142.68 L404.45,141.42 L404.39,140.15 L404.32,138.89 L404.24,137.62 L404.10,136.36 L403.90,135.09 L403.67,133.83 L403.43,132.56 L403.21,131.30 L403.01,130.03 L402.87,128.77 L402.80,127.50 L402.82,126.24 L402.90,124.97 L403.04,123.71 L403.23,122.44 L403.45,121.18 L403.70,119.91 L403.96,118.65 L404.23,117.38 L404.49,116.12 L404.74,114.85 L404.96,113.59 L405.15,112.32 L405.29,111.06 L405.41,109.79 L405.51,108.53 L405.61,107.26 L405.70,106.00 L405.78,104.73 L405.85,103.47 L405.90,102.20 Z" fill="#000"/>
<path d="M408.90,105.25 L408.90,106.52 L408.90,107.78 L408.90,109.05 L408.90,110.31 L410.25,111.58 L410.36,112.84 L410.48,114.11 L410.62,115.37 L410.78,116.64 L410.95,117.90 L411.12,119.17 L411.29,120.43 L411.46,121.70 L411.60,122.96 L411.73,124.23 L411.82,125.49 L411.86,126.76 L411.85,128.03 L411.77,129.29 L411.64,130.56 L411.49,131.82 L411.34,133.09 L411.19,134.35 L411.06,135.62 L410.96,136.88 L410.90,138.15 L410.86,139.41 L410.82,140.68 L410.78,141.94 L410.75,143.21 L410.71,144.47 L410.69,145.74 L410.67,147.01 L410.65,148.27 L410.64,149.54 L410.63,150.80 L410.64,152.07 L410.67,153.33 L410.73,154.60 L410.82,155.86 L410.92,157.13 L411.04,158.39 L411.17,159.66 L411.32,160.92 L411.46,162.19 L411.60,163.45 L411.76,164.72 L411.95,165.98 L412.16,167.25 L412.39,168.52 L412.64,169.78 L412.89,171.05 L413.31,172.31 L413.74,173.58 L414.15,174.84 L414.55,176.11 L414.94,177.37 L415.37,178.64 L415.84,179.90 L416.34,181.17 L416.84,182.43 L417.32,183.70 L417.78,184.96 L418.19,186.23 L418.51,187.49 L418.73,188.76 L418.80,190.03 L418.73,191.29 L418.57,192.56 L418.34,193.82 L418.07,195.09 L417.76,196.35 L417.45,197.62 L417.14,198.88 L416.76,200.15 L416.30,201.41 L415.79,202.68 L415.25,203.94 L414.69,205.21 L414.14,206.47 L413.61,207.74 L413.11,209.01 L412.72,210.27 L412.41,211.54 L412.10,212.80 L411.79,214.07 L411.51,215.33 L411.26,216.60 L411.04,217.86 L410.86,219.13 L410.73,220.39 L410.61,221.66 L410.49,222.92 L410.38,224.19 L410.26,225.45 L408.90,226.72 L408.90,227.98 L408.90,229.25 L408.90,229.25 L408.90,227.98 L408.90,226.72 L407.54,225.45 L407.42,224.19 L407.31,222.92 L407.19,221.66 L407.07,220.39 L406.94,219.13 L406.76,217.86 L406.54,216.60 L406.29,215.33 L406.01,214.07 L405.70,212.80 L405.39,211.54 L405.08,210.27 L404.69,209.01 L404.19,207.74 L403.66,206.47 L403.11,205.21 L402.55,203.94 L402.01,202.68 L401.50,201.41 L401.04,200.15 L400.66,198.88 L400.35,197.62 L400.04,196.35 L399.73,195.09 L399.46,193.82 L399.23,192.56 L399.07,191.29 L399.00,190.03 L399.07,188.76 L399.29,187.49 L399.61,186.23 L400.02,184.96 L400.48,183.70 L400.96,182.43 L401.46,181.17 L401.96,179.90 L402.43,178.64 L402.86,177.37 L403.25,176.11 L403.65,174.84 L404.06,173.58 L404.49,172.31 L404.91,171.05 L405.16,169.78 L405.41,168.52 L405.64,167.25 L405.85,165.98 L406.04,164.72 L406.20,163.45 L406.34,162.19 L406.48,160.92 L406.63,159.66 L406.76,158.39 L406.88,157.13 L406.98,155.86 L407.07,154.60 L407.13,153.33 L407.16,152.07 L407.17,150.80 L407.16,149.54 L407.15,148.27 L407.13,147.01 L407.11,145.74 L407.09,144.47 L407.05,143.21 L407.02,141.94 L406.98,140.68 L406.94,139.41 L406.90,138.15 L406.84,136.88 L406.74,135.62 L406.61,134.35 L406.46,133.09 L406.31,131.82 L406.16,130.56 L406.03,129.29 L405.95,128.03 L405.94,126.76 L405.98,125.49 L406.07,124.23 L406.20,122.96 L406.34,121.70 L406.51,120.43 L406.68,119.17 L406.85,117.90 L407.02,116.64 L407.18,115.37 L407.32,114.11 L407.44,112.84 L407.55,111.58 L408.90,110.31 L408.90,109.05 L408.90,107.78 L408.90,106.52 L408.90,105.25 Z" fill="#a4ae72"/>
<line x1="400.61" y1="183.90" x2="417.19" y2="183.90" stroke="#000" stroke-width="1.6" stroke-dasharray="2.4 2.4"/>
<line x1="400.42" y1="197.10" x2="417.38" y2="197.10" stroke="rgba(0,0,0,0.45)" stroke-width="1" stroke-dasharray="1.2 2"/>
<text transform="translate(328.50,297.90) rotate(-45)" font-family="Liberation Serif" font-size="17.00" fill="#050505" stroke="#050505" stroke-width="0.25" text-anchor="end">mild</text>
<text transform="translate(371.00,294.90) rotate(-45)" font-family="Liberation Serif" font-size="17.00" fill="#050505" stroke="#050505" stroke-width="0.25" text-anchor="end">moderate</text>
<text transform="translate(411.10,294.90) rotate(-45)" font-family="Liberation Serif" font-size="17.00" fill="#050505" stroke="#050505" stroke-width="0.25" text-anchor="end">severe</text>
<line x1="520.50" y1="47.00" x2="520.50" y2="271.60" stroke="#000" stroke-width="2.20"/>
<line x1="513.00" y1="270.50" x2="654.80" y2="270.50" stroke="#000" stroke-width="2.20"/>
<line x1="512.50" y1="48.10" x2="520.50" y2="48.10" stroke="#000" stroke-width="2.20"/>
<line x1="512.50" y1="122.30" x2="520.50" y2="122.30" stroke="#000" stroke-width="2.20"/>
<line x1="512.50" y1="196.40" x2="520.50" y2="196.40" stroke="#000" stroke-width="2.20"/>
<line x1="512.50" y1="270.50" x2="520.50" y2="270.50" stroke="#000" stroke-width="2.20"/>
<line x1="546.90" y1="270.50" x2="546.90" y2="278.50" stroke="#000" stroke-width="2.20"/>
<line x1="587.00" y1="270.50" x2="587.00" y2="278.50" stroke="#000" stroke-width="2.20"/>
<line x1="629.00" y1="270.50" x2="629.00" y2="278.50" stroke="#000" stroke-width="2.20"/>
<text x="488.00" y="54.69" font-family="Liberation Sans" font-size="15.80" font-weight="bold" fill="#000" stroke="#000" stroke-width="0.40" textLength="22.30" lengthAdjust="spacingAndGlyphs">150</text>
<text x="488.00" y="128.89" font-family="Liberation Sans" font-size="15.80" font-weight="bold" fill="#000" stroke="#000" stroke-width="0.40" textLength="22.30" lengthAdjust="spacingAndGlyphs">100</text>
<text x="495.40" y="202.99" font-family="Liberation Sans" font-size="15.80" font-weight="bold" fill="#000" stroke="#000" stroke-width="0.40" textLength="14.90" lengthAdjust="spacingAndGlyphs">50</text>
<text x="502.90" y="277.09" font-family="Liberation Sans" font-size="15.80" font-weight="bold" fill="#000" stroke="#000" stroke-width="0.40" textLength="7.40" lengthAdjust="spacingAndGlyphs">0</text>
<text transform="translate(505.60,23.00) scale(1.000,1.000)" font-family="Liberation Serif" font-size="20.00" font-weight="normal" fill="#333" stroke="#333" stroke-width="0.00">C</text>
<text transform="translate(474.00,170.00) rotate(-90) scale(1,1.000)" font-family="Liberation Serif" font-size="16.00" font-weight="normal" fill="#0a0a0a" stroke="#0a0a0a" stroke-width="0.25" text-anchor="middle" textLength="215.50" lengthAdjust="spacingAndGlyphs">25-hydroxy vitamin-D(nmol/L)</text>
<path d="M545.60,69.00 L545.60,58.20 L636.10,58.20 L636.10,69.00" fill="none" stroke="#000" stroke-width="3.60" stroke-linejoin="miter"/>
<text x="567.00" y="48.80" font-family="Liberation Serif" font-size="15.91" font-weight="normal" fill="#34495e" stroke="#34495e" stroke-width="0.35" textLength="6.33" lengthAdjust="spacingAndGlyphs">p</text>
<path d="M586.30,37.90 L578.41,43.00 L586.30,48.10" fill="none" stroke="#34495e" stroke-width="1.20" stroke-linejoin="miter" stroke-miterlimit="10"/>
<text x="587.07" y="48.80" font-family="Liberation Serif" font-size="15.91" font-weight="normal" fill="#34495e" stroke="#34495e" stroke-width="0.30" textLength="6.48" lengthAdjust="spacingAndGlyphs">0</text>
<text x="593.88" y="48.80" font-family="Liberation Serif" font-size="15.91" font-weight="normal" fill="#34495e" stroke="#34495e" stroke-width="0.30" textLength="4.69" lengthAdjust="spacingAndGlyphs">.</text>
<text x="598.91" y="48.80" font-family="Liberation Serif" font-size="15.91" font-weight="normal" fill="#34495e" stroke="#34495e" stroke-width="0.30" textLength="6.48" lengthAdjust="spacingAndGlyphs">0</text>
<text x="607.94" y="48.80" font-family="Liberation Serif" font-size="15.91" font-weight="normal" fill="#34495e" stroke="#34495e" stroke-width="0.30" textLength="6.48" lengthAdjust="spacingAndGlyphs">5</text>
<path d="M586.00,113.20 L586.00,103.80 L630.70,103.80 L630.70,113.20" fill="none" stroke="#000" stroke-width="3.60" stroke-linejoin="miter"/>
<text x="584.60" y="94.20" font-family="Liberation Serif" font-size="16.52" font-weight="normal" fill="#34495e" stroke="#34495e" stroke-width="0.35" textLength="6.32" lengthAdjust="spacingAndGlyphs">p</text>
<path d="M604.32,82.90 L596.45,88.20 L604.32,93.50" fill="none" stroke="#34495e" stroke-width="1.20" stroke-linejoin="miter" stroke-miterlimit="10"/>
<text x="604.67" y="94.20" font-family="Liberation Serif" font-size="16.52" font-weight="normal" fill="#34495e" stroke="#34495e" stroke-width="0.30" textLength="6.46" lengthAdjust="spacingAndGlyphs">0</text>
<text x="611.46" y="94.20" font-family="Liberation Serif" font-size="16.52" font-weight="normal" fill="#34495e" stroke="#34495e" stroke-width="0.30" textLength="4.68" lengthAdjust="spacingAndGlyphs">.</text>
<text x="616.47" y="94.20" font-family="Liberation Serif" font-size="16.52" font-weight="normal" fill="#34495e" stroke="#34495e" stroke-width="0.30" textLength="6.46" lengthAdjust="spacingAndGlyphs">0</text>
<text x="625.45" y="94.20" font-family="Liberation Serif" font-size="16.52" font-weight="normal" fill="#34495e" stroke="#34495e" stroke-width="0.30" textLength="6.46" lengthAdjust="spacingAndGlyphs">5</text>
<path d="M549.00,107.50 L549.01,108.76 L549.02,110.03 L549.03,111.29 L549.04,112.56 L549.05,113.82 L549.07,115.08 L549.08,116.35 L549.10,117.61 L549.12,118.88 L549.14,120.14 L549.16,121.40 L549.19,122.67 L549.21,123.93 L549.23,125.20 L549.26,126.46 L549.29,127.72 L549.31,128.99 L549.34,130.25 L549.37,131.52 L549.40,132.78 L549.42,134.04 L549.45,135.31 L549.48,136.57 L549.51,137.84 L549.55,139.10 L549.58,140.36 L549.62,141.63 L549.66,142.89 L549.70,144.15 L549.75,145.42 L549.79,146.68 L549.85,147.95 L549.90,149.21 L549.96,150.47 L550.02,151.74 L550.09,153.00 L550.16,154.27 L550.23,155.53 L550.33,156.79 L550.45,158.06 L550.60,159.32 L550.78,160.59 L551.06,161.85 L551.49,163.11 L551.96,164.38 L552.40,165.64 L552.77,166.91 L553.17,168.17 L553.53,169.43 L553.76,170.70 L553.80,171.96 L553.78,173.23 L553.75,174.49 L553.71,175.75 L553.63,177.02 L553.50,178.28 L553.41,179.55 L553.44,180.81 L553.65,182.07 L553.99,183.34 L554.42,184.60 L554.89,185.87 L555.37,187.13 L555.85,188.39 L556.47,189.66 L557.15,190.92 L557.83,192.19 L558.44,193.45 L558.92,194.71 L559.26,195.98 L559.59,197.24 L559.90,198.51 L560.15,199.77 L560.32,201.03 L560.40,202.30 L560.33,203.56 L560.11,204.83 L559.78,206.09 L559.37,207.35 L558.94,208.62 L558.54,209.88 L558.11,211.15 L557.60,212.41 L557.06,213.67 L556.54,214.94 L556.11,216.20 L555.81,217.46 L555.62,218.73 L555.48,219.99 L555.36,221.26 L555.25,222.52 L555.14,223.78 L554.99,225.05 L554.84,226.31 L554.67,227.58 L554.50,228.84 L554.32,230.10 L554.12,231.37 L553.89,232.63 L553.63,233.90 L553.28,235.16 L552.85,236.42 L552.38,237.69 L551.92,238.95 L551.52,240.22 L551.22,241.48 L550.96,242.74 L550.72,244.01 L550.51,245.27 L550.34,246.54 L550.20,247.80 L544.80,247.80 L544.66,246.54 L544.49,245.27 L544.28,244.01 L544.04,242.74 L543.78,241.48 L543.48,240.22 L543.08,238.95 L542.62,237.69 L542.15,236.42 L541.72,235.16 L541.37,233.90 L541.11,232.63 L540.88,231.37 L540.68,230.10 L540.50,228.84 L540.33,227.58 L540.16,226.31 L540.01,225.05 L539.86,223.78 L539.75,222.52 L539.64,221.26 L539.52,219.99 L539.38,218.73 L539.19,217.46 L538.89,216.20 L538.46,214.94 L537.94,213.67 L537.40,212.41 L536.89,211.15 L536.46,209.88 L536.06,208.62 L535.63,207.35 L535.22,206.09 L534.89,204.83 L534.67,203.56 L534.60,202.30 L534.68,201.03 L534.85,199.77 L535.10,198.51 L535.41,197.24 L535.74,195.98 L536.08,194.71 L536.56,193.45 L537.17,192.19 L537.85,190.92 L538.53,189.66 L539.15,188.39 L539.63,187.13 L540.11,185.87 L540.58,184.60 L541.01,183.34 L541.35,182.07 L541.56,180.81 L541.59,179.55 L541.50,178.28 L541.37,177.02 L541.29,175.75 L541.25,174.49 L541.22,173.23 L541.20,171.96 L541.24,170.70 L541.47,169.43 L541.83,168.17 L542.23,166.91 L542.60,165.64 L543.04,164.38 L543.51,163.11 L543.94,161.85 L544.22,160.59 L544.40,159.32 L544.55,158.06 L544.67,156.79 L544.77,155.53 L544.84,154.27 L544.91,153.00 L544.98,151.74 L545.04,150.47 L545.10,149.21 L545.15,147.95 L545.21,146.68 L545.25,145.42 L545.30,144.15 L545.34,142.89 L545.38,141.63 L545.42,140.36 L545.45,139.10 L545.49,137.84 L545.52,136.57 L545.55,135.31 L545.58,134.04 L545.60,132.78 L545.63,131.52 L545.66,130.25 L545.69,128.99 L545.71,127.72 L545.74,126.46 L545.77,125.20 L545.79,123.93 L545.81,122.67 L545.84,121.40 L545.86,120.14 L545.88,118.88 L545.90,117.61 L545.92,116.35 L545.93,115.08 L545.95,113.82 L545.96,112.56 L545.97,111.29 L545.98,110.03 L545.99,108.76 L546.00,107.50 Z" fill="#000"/>
<path d="M547.50,109.05 L547.50,110.32 L547.50,111.59 L547.50,112.86 L547.50,114.13 L547.50,115.41 L547.50,116.68 L547.50,117.95 L547.50,119.22 L547.50,120.49 L547.50,121.76 L547.50,123.03 L547.50,124.30 L547.50,125.57 L547.50,126.84 L547.50,128.12 L547.50,129.39 L547.50,130.66 L547.50,131.93 L547.50,133.20 L547.50,134.47 L547.50,135.74 L547.50,137.01 L547.50,138.28 L547.50,139.55 L547.50,140.83 L547.50,142.10 L547.50,143.37 L547.50,144.64 L547.50,145.91 L547.50,147.18 L547.50,148.45 L547.50,149.72 L547.50,150.99 L547.50,152.26 L547.50,153.54 L547.50,154.81 L547.50,156.08 L547.50,157.35 L547.50,158.62 L547.50,159.89 L547.50,161.16 L548.83,162.43 L549.07,163.70 L549.37,164.98 L549.68,166.25 L549.91,167.52 L550.17,168.79 L550.43,170.06 L550.59,171.33 L550.59,172.60 L550.57,173.87 L550.55,175.14 L550.51,176.41 L550.43,177.69 L550.36,178.96 L550.34,180.23 L550.39,181.50 L550.51,182.77 L550.70,184.04 L550.94,185.31 L551.23,186.58 L551.59,187.85 L552.05,189.12 L552.59,190.40 L553.23,191.67 L553.92,192.94 L554.60,194.21 L555.17,195.48 L555.54,196.75 L555.87,198.02 L556.18,199.29 L556.43,200.56 L556.58,201.84 L556.56,203.11 L556.31,204.38 L555.94,205.65 L555.51,206.92 L555.08,208.19 L554.68,209.46 L554.18,210.73 L553.64,212.00 L553.11,213.27 L552.65,214.55 L552.27,215.82 L552.02,217.09 L551.84,218.36 L551.70,219.63 L551.62,220.90 L551.54,222.17 L551.47,223.44 L551.37,224.71 L551.27,225.98 L551.16,227.26 L551.05,228.53 L550.92,229.80 L550.79,231.07 L550.63,232.34 L550.44,233.61 L550.16,234.88 L549.85,236.15 L549.56,237.42 L549.29,238.69 L549.07,239.97 L548.90,241.24 L547.50,242.51 L547.50,243.78 L547.50,245.05 L547.50,245.05 L547.50,243.78 L547.50,242.51 L546.10,241.24 L545.93,239.97 L545.71,238.69 L545.44,237.42 L545.15,236.15 L544.84,234.88 L544.56,233.61 L544.37,232.34 L544.21,231.07 L544.08,229.80 L543.95,228.53 L543.84,227.26 L543.73,225.98 L543.63,224.71 L543.53,223.44 L543.46,222.17 L543.38,220.90 L543.30,219.63 L543.16,218.36 L542.98,217.09 L542.73,215.82 L542.35,214.55 L541.89,213.27 L541.36,212.00 L540.82,210.73 L540.32,209.46 L539.92,208.19 L539.49,206.92 L539.06,205.65 L538.69,204.38 L538.44,203.11 L538.42,201.84 L538.57,200.56 L538.82,199.29 L539.13,198.02 L539.46,196.75 L539.83,195.48 L540.40,194.21 L541.08,192.94 L541.77,191.67 L542.41,190.40 L542.95,189.12 L543.41,187.85 L543.77,186.58 L544.06,185.31 L544.30,184.04 L544.49,182.77 L544.61,181.50 L544.66,180.23 L544.64,178.96 L544.57,177.69 L544.49,176.41 L544.45,175.14 L544.43,173.87 L544.41,172.60 L544.41,171.33 L544.57,170.06 L544.83,168.79 L545.09,167.52 L545.32,166.25 L545.63,164.98 L545.93,163.70 L546.17,162.43 L547.50,161.16 L547.50,159.89 L547.50,158.62 L547.50,157.35 L547.50,156.08 L547.50,154.81 L547.50,153.54 L547.50,152.26 L547.50,150.99 L547.50,149.72 L547.50,148.45 L547.50,147.18 L547.50,145.91 L547.50,144.64 L547.50,143.37 L547.50,142.10 L547.50,140.83 L547.50,139.55 L547.50,138.28 L547.50,137.01 L547.50,135.74 L547.50,134.47 L547.50,133.20 L547.50,131.93 L547.50,130.66 L547.50,129.39 L547.50,128.12 L547.50,126.84 L547.50,125.57 L547.50,124.30 L547.50,123.03 L547.50,121.76 L547.50,120.49 L547.50,119.22 L547.50,117.95 L547.50,116.68 L547.50,115.41 L547.50,114.13 L547.50,112.86 L547.50,111.59 L547.50,110.32 L547.50,109.05 Z" fill="#eb87a9"/>
<line x1="538.67" y1="203.30" x2="556.33" y2="203.30" stroke="#000" stroke-width="1.6" stroke-dasharray="2.4 2.4"/>
<line x1="544.01" y1="186.40" x2="550.99" y2="186.40" stroke="rgba(0,0,0,0.45)" stroke-width="1" stroke-dasharray="1.2 2"/>
<line x1="543.35" y1="218.30" x2="551.65" y2="218.30" stroke="rgba(0,0,0,0.45)" stroke-width="1" stroke-dasharray="1.2 2"/>
<path d="M590.10,135.10 L590.10,136.37 L590.10,137.63 L590.10,138.90 L590.10,140.17 L590.10,141.43 L590.10,142.70 L590.10,143.96 L590.10,145.23 L590.10,146.50 L590.10,147.76 L590.10,149.03 L590.10,150.30 L590.10,151.56 L590.10,152.83 L590.10,154.09 L590.19,155.36 L590.40,156.63 L590.70,157.89 L591.04,159.16 L591.40,160.43 L591.74,161.69 L592.17,162.96 L592.66,164.22 L593.16,165.49 L593.58,166.76 L593.85,168.02 L593.98,169.29 L594.08,170.56 L594.16,171.82 L594.23,173.09 L594.29,174.36 L594.34,175.62 L594.39,176.89 L594.43,178.15 L594.48,179.42 L594.52,180.69 L594.56,181.95 L594.59,183.22 L594.62,184.49 L594.65,185.75 L594.68,187.02 L594.72,188.28 L594.78,189.55 L594.86,190.82 L595.02,192.08 L595.24,193.35 L595.51,194.62 L595.83,195.88 L596.16,197.15 L596.50,198.42 L596.84,199.68 L597.18,200.95 L597.60,202.21 L598.09,203.48 L598.62,204.75 L599.15,206.01 L599.64,207.28 L600.07,208.55 L600.39,209.81 L600.57,211.08 L600.58,212.34 L600.42,213.61 L600.10,214.88 L599.68,216.14 L599.18,217.41 L598.64,218.68 L597.94,219.94 L596.81,221.21 L595.47,222.47 L594.12,223.74 L592.99,225.01 L592.31,226.27 L591.95,227.54 L591.65,228.81 L591.40,230.07 L591.20,231.34 L591.06,232.61 L590.98,233.87 L590.92,235.14 L590.86,236.40 L590.80,237.67 L590.75,238.94 L590.70,240.20 L590.66,241.47 L590.62,242.74 L590.59,244.00 L590.56,245.27 L590.54,246.53 L590.52,247.80 L590.51,249.07 L590.50,250.33 L590.50,251.60 L584.70,251.60 L584.70,250.33 L584.69,249.07 L584.68,247.80 L584.66,246.53 L584.64,245.27 L584.61,244.00 L584.58,242.74 L584.54,241.47 L584.50,240.20 L584.45,238.94 L584.40,237.67 L584.34,236.40 L584.28,235.14 L584.22,233.87 L584.14,232.61 L584.00,231.34 L583.80,230.07 L583.55,228.81 L583.25,227.54 L582.89,226.27 L582.21,225.01 L581.08,223.74 L579.73,222.47 L578.39,221.21 L577.26,219.94 L576.56,218.68 L576.02,217.41 L575.52,216.14 L575.10,214.88 L574.78,213.61 L574.62,212.34 L574.63,211.08 L574.81,209.81 L575.13,208.55 L575.56,207.28 L576.05,206.01 L576.58,204.75 L577.11,203.48 L577.60,202.21 L578.02,200.95 L578.36,199.68 L578.70,198.42 L579.04,197.15 L579.37,195.88 L579.69,194.62 L579.96,193.35 L580.18,192.08 L580.34,190.82 L580.42,189.55 L580.48,188.28 L580.52,187.02 L580.55,185.75 L580.58,184.49 L580.61,183.22 L580.64,181.95 L580.68,180.69 L580.72,179.42 L580.77,178.15 L580.81,176.89 L580.86,175.62 L580.91,174.36 L580.97,173.09 L581.04,171.82 L581.12,170.56 L581.22,169.29 L581.35,168.02 L581.62,166.76 L582.04,165.49 L582.54,164.22 L583.03,162.96 L583.46,161.69 L583.80,160.43 L584.16,159.16 L584.50,157.89 L584.80,156.63 L585.01,155.36 L585.10,154.09 L585.10,152.83 L585.10,151.56 L585.10,150.30 L585.10,149.03 L585.10,147.76 L585.10,146.50 L585.10,145.23 L585.10,143.96 L585.10,142.70 L585.10,141.43 L585.10,140.17 L585.10,138.90 L585.10,137.63 L585.10,136.37 L585.10,135.10 Z" fill="#000"/>
<path d="M587.60,137.65 L587.60,138.93 L587.60,140.20 L587.60,141.48 L587.60,142.75 L587.60,144.03 L587.60,145.31 L587.60,146.58 L587.60,147.86 L587.60,149.13 L587.60,150.41 L587.60,151.68 L587.60,152.96 L587.60,154.24 L587.60,155.51 L587.60,156.79 L587.60,158.06 L587.60,159.34 L589.01,160.62 L589.23,161.89 L589.45,163.17 L589.74,164.44 L590.06,165.72 L590.39,166.99 L590.65,168.27 L590.75,169.55 L590.81,170.82 L590.87,172.10 L590.92,173.37 L590.96,174.65 L590.99,175.93 L591.02,177.20 L591.05,178.48 L591.08,179.75 L591.11,181.03 L591.13,182.31 L591.15,183.58 L591.17,184.86 L591.19,186.13 L591.21,187.41 L591.24,188.68 L591.28,189.96 L591.33,191.24 L591.42,192.51 L591.55,193.79 L591.72,195.06 L592.02,196.34 L592.35,197.62 L592.69,198.89 L593.04,200.17 L593.37,201.44 L593.75,202.72 L594.21,203.99 L594.73,205.27 L595.26,206.55 L595.78,207.82 L596.25,209.10 L596.62,210.37 L596.80,211.65 L596.68,212.93 L596.34,214.20 L595.87,215.48 L595.33,216.75 L594.60,218.03 L593.30,219.31 L591.92,220.58 L590.67,221.86 L590.03,223.13 L589.78,224.41 L589.63,225.68 L589.44,226.96 L589.26,228.24 L589.10,229.51 L588.96,230.79 L587.60,232.06 L587.60,233.34 L587.60,234.62 L587.60,235.89 L587.60,237.17 L587.60,238.44 L587.60,239.72 L587.60,240.99 L587.60,242.27 L587.60,243.55 L587.60,244.82 L587.60,246.10 L587.60,247.37 L587.60,248.65 L587.60,248.65 L587.60,247.37 L587.60,246.10 L587.60,244.82 L587.60,243.55 L587.60,242.27 L587.60,240.99 L587.60,239.72 L587.60,238.44 L587.60,237.17 L587.60,235.89 L587.60,234.62 L587.60,233.34 L587.60,232.06 L586.24,230.79 L586.10,229.51 L585.94,228.24 L585.76,226.96 L585.57,225.68 L585.42,224.41 L585.17,223.13 L584.53,221.86 L583.28,220.58 L581.90,219.31 L580.60,218.03 L579.87,216.75 L579.33,215.48 L578.86,214.20 L578.52,212.93 L578.40,211.65 L578.58,210.37 L578.95,209.10 L579.42,207.82 L579.94,206.55 L580.47,205.27 L580.99,203.99 L581.45,202.72 L581.83,201.44 L582.16,200.17 L582.51,198.89 L582.85,197.62 L583.18,196.34 L583.48,195.06 L583.65,193.79 L583.78,192.51 L583.87,191.24 L583.92,189.96 L583.96,188.68 L583.99,187.41 L584.01,186.13 L584.03,184.86 L584.05,183.58 L584.07,182.31 L584.09,181.03 L584.12,179.75 L584.15,178.48 L584.18,177.20 L584.21,175.93 L584.24,174.65 L584.28,173.37 L584.33,172.10 L584.39,170.82 L584.45,169.55 L584.55,168.27 L584.81,166.99 L585.14,165.72 L585.46,164.44 L585.75,163.17 L585.97,161.89 L586.19,160.62 L587.60,159.34 L587.60,158.06 L587.60,156.79 L587.60,155.51 L587.60,154.24 L587.60,152.96 L587.60,151.68 L587.60,150.41 L587.60,149.13 L587.60,147.86 L587.60,146.58 L587.60,145.31 L587.60,144.03 L587.60,142.75 L587.60,141.48 L587.60,140.20 L587.60,138.93 L587.60,137.65 Z" fill="#91c3f5"/>
<line x1="581.47" y1="203.20" x2="593.73" y2="203.20" stroke="#5a7fae" stroke-width="1.6" stroke-dasharray="2.4 2.4"/>
<path d="M631.50,156.30 L631.59,157.57 L631.58,158.85 L631.29,160.12 L630.84,161.39 L630.12,162.67 L629.72,163.94 L629.52,165.21 L629.35,166.49 L629.23,167.76 L629.14,169.03 L629.10,170.31 L629.10,171.58 L629.11,172.85 L629.12,174.13 L629.15,175.40 L629.17,176.67 L629.21,177.95 L629.26,179.22 L629.31,180.49 L629.37,181.77 L629.52,183.04 L629.99,184.32 L630.64,185.59 L631.28,186.86 L631.79,188.14 L632.36,189.41 L632.92,190.68 L633.38,191.96 L633.66,193.23 L633.66,194.50 L633.38,195.78 L632.89,197.05 L632.32,198.32 L631.76,199.60 L631.28,200.87 L630.73,202.14 L630.29,203.42 L630.26,204.69 L630.89,205.96 L631.95,207.24 L633.09,208.51 L634.04,209.78 L634.99,211.06 L635.98,212.33 L636.94,213.60 L637.82,214.88 L638.54,216.15 L639.05,217.42 L639.51,218.70 L639.94,219.97 L640.30,221.24 L640.59,222.52 L640.76,223.79 L640.79,225.06 L640.69,226.34 L640.47,227.61 L640.16,228.88 L639.77,230.16 L639.31,231.43 L638.81,232.71 L637.91,233.98 L636.64,235.25 L635.33,236.53 L634.26,237.80 L633.34,239.07 L632.53,240.35 L631.96,241.62 L631.54,242.89 L631.21,244.17 L631.10,245.44 L631.10,246.71 L631.10,247.99 L631.10,249.26 L631.10,250.53 L631.11,251.81 L631.12,253.08 L631.12,254.35 L631.14,255.63 L631.15,256.90 L624.05,256.90 L624.06,255.63 L624.08,254.35 L624.08,253.08 L624.09,251.81 L624.10,250.53 L624.10,249.26 L624.10,247.99 L624.10,246.71 L624.10,245.44 L623.99,244.17 L623.66,242.89 L623.24,241.62 L622.67,240.35 L621.86,239.07 L620.94,237.80 L619.87,236.53 L618.56,235.25 L617.29,233.98 L616.39,232.71 L615.89,231.43 L615.43,230.16 L615.04,228.88 L614.73,227.61 L614.51,226.34 L614.41,225.06 L614.44,223.79 L614.61,222.52 L614.90,221.24 L615.26,219.97 L615.69,218.70 L616.15,217.42 L616.66,216.15 L617.38,214.88 L618.26,213.60 L619.22,212.33 L620.21,211.06 L621.16,209.78 L622.11,208.51 L623.25,207.24 L624.31,205.96 L624.94,204.69 L624.91,203.42 L624.47,202.14 L623.92,200.87 L623.44,199.60 L622.88,198.32 L622.31,197.05 L621.82,195.78 L621.54,194.50 L621.54,193.23 L621.82,191.96 L622.28,190.68 L622.84,189.41 L623.41,188.14 L623.92,186.86 L624.56,185.59 L625.21,184.32 L625.68,183.04 L625.83,181.77 L625.89,180.49 L625.94,179.22 L625.99,177.95 L626.03,176.67 L626.05,175.40 L626.08,174.13 L626.09,172.85 L626.10,171.58 L626.10,170.31 L626.06,169.03 L625.97,167.76 L625.85,166.49 L625.68,165.21 L625.48,163.94 L625.08,162.67 L624.36,161.39 L623.91,160.12 L623.62,158.85 L623.61,157.57 L623.70,156.30 Z" fill="#000"/>
<path d="M627.60,158.67 L627.60,159.94 L627.60,161.22 L627.60,162.50 L627.60,163.78 L627.60,165.06 L627.60,166.34 L627.60,167.62 L627.60,168.90 L627.60,170.17 L627.60,171.45 L627.60,172.73 L627.60,174.01 L627.60,175.29 L627.60,176.57 L627.60,177.85 L627.60,179.13 L627.60,180.41 L627.60,181.68 L627.60,182.96 L627.60,184.24 L627.60,185.52 L628.68,186.80 L629.13,188.08 L629.43,189.36 L629.78,190.64 L630.16,191.92 L630.49,193.19 L630.50,194.47 L630.16,195.75 L629.77,197.03 L629.42,198.31 L629.15,199.59 L628.78,200.87 L627.60,202.15 L627.60,203.42 L627.60,204.70 L627.60,205.98 L628.72,207.26 L629.19,208.54 L629.89,209.82 L630.56,211.10 L631.23,212.38 L632.20,213.66 L633.19,214.93 L634.14,216.21 L634.95,217.49 L635.50,218.77 L635.96,220.05 L636.38,221.33 L636.73,222.61 L636.95,223.89 L636.99,225.17 L636.83,226.44 L636.54,227.72 L636.15,229.00 L635.69,230.28 L634.97,231.56 L633.67,232.84 L632.37,234.12 L631.30,235.40 L630.56,236.67 L630.13,237.95 L629.76,239.23 L629.49,240.51 L629.26,241.79 L629.04,243.07 L627.60,244.35 L627.60,245.63 L627.60,246.91 L627.60,248.18 L627.60,249.46 L627.60,250.74 L627.60,252.02 L627.60,253.30 L627.60,253.30 L627.60,252.02 L627.60,250.74 L627.60,249.46 L627.60,248.18 L627.60,246.91 L627.60,245.63 L627.60,244.35 L626.16,243.07 L625.94,241.79 L625.71,240.51 L625.44,239.23 L625.07,237.95 L624.64,236.67 L623.90,235.40 L622.83,234.12 L621.53,232.84 L620.23,231.56 L619.51,230.28 L619.05,229.00 L618.66,227.72 L618.37,226.44 L618.21,225.17 L618.25,223.89 L618.47,222.61 L618.82,221.33 L619.24,220.05 L619.70,218.77 L620.25,217.49 L621.06,216.21 L622.01,214.93 L623.00,213.66 L623.97,212.38 L624.64,211.10 L625.31,209.82 L626.01,208.54 L626.48,207.26 L627.60,205.98 L627.60,204.70 L627.60,203.42 L627.60,202.15 L626.42,200.87 L626.05,199.59 L625.78,198.31 L625.43,197.03 L625.04,195.75 L624.70,194.47 L624.71,193.19 L625.04,191.92 L625.42,190.64 L625.77,189.36 L626.07,188.08 L626.52,186.80 L627.60,185.52 L627.60,184.24 L627.60,182.96 L627.60,181.68 L627.60,180.41 L627.60,179.13 L627.60,177.85 L627.60,176.57 L627.60,175.29 L627.60,174.01 L627.60,172.73 L627.60,171.45 L627.60,170.17 L627.60,168.90 L627.60,167.62 L627.60,166.34 L627.60,165.06 L627.60,163.78 L627.60,162.50 L627.60,161.22 L627.60,159.94 L627.60,158.67 Z" fill="#a4ae72"/>
<line x1="618.67" y1="222.60" x2="636.53" y2="222.60" stroke="#000" stroke-width="1.6" stroke-dasharray="2.4 2.4"/>
<line x1="620.88" y1="232.00" x2="634.32" y2="232.00" stroke="rgba(0,0,0,0.45)" stroke-width="1" stroke-dasharray="1.2 2"/>
<text transform="translate(551.90,293.50) rotate(-45)" font-family="Liberation Serif" font-size="17.00" fill="#050505" stroke="#050505" stroke-width="0.25" text-anchor="end">mild</text>
<text transform="translate(594.00,290.50) rotate(-45)" font-family="Liberation Serif" font-size="17.00" fill="#050505" stroke="#050505" stroke-width="0.25" text-anchor="end">moderate</text>
<text transform="translate(633.00,290.50) rotate(-45)" font-family="Liberation Serif" font-size="17.00" fill="#050505" stroke="#050505" stroke-width="0.25" text-anchor="end">severe</text>
<line x1="73.90" y1="364.05" x2="73.90" y2="578.95" stroke="#000" stroke-width="2.30"/>
<line x1="65.00" y1="577.80" x2="219.40" y2="577.80" stroke="#000" stroke-width="2.30"/>
<line x1="63.90" y1="365.20" x2="73.90" y2="365.20" stroke="#000" stroke-width="2.30"/>
<line x1="63.90" y1="436.40" x2="73.90" y2="436.40" stroke="#000" stroke-width="2.30"/>
<line x1="63.90" y1="507.60" x2="73.90" y2="507.60" stroke="#000" stroke-width="2.30"/>
<line x1="63.90" y1="577.80" x2="73.90" y2="577.80" stroke="#000" stroke-width="2.30"/>
<line x1="102.70" y1="577.80" x2="102.70" y2="585.80" stroke="#000" stroke-width="2.30"/>
<line x1="146.90" y1="577.80" x2="146.90" y2="585.80" stroke="#000" stroke-width="2.30"/>
<line x1="190.60" y1="577.80" x2="190.60" y2="585.80" stroke="#000" stroke-width="2.30"/>
<text x="62.40" y="372.18" font-family="Liberation Serif" font-size="15.50" font-weight="bold" fill="#000" stroke="#000" stroke-width="0.40" text-anchor="end">15</text>
<text x="62.40" y="443.38" font-family="Liberation Serif" font-size="15.50" font-weight="bold" fill="#000" stroke="#000" stroke-width="0.40" text-anchor="end">10</text>
<text x="62.40" y="514.58" font-family="Liberation Serif" font-size="15.50" font-weight="bold" fill="#000" stroke="#000" stroke-width="0.40" text-anchor="end">5</text>
<text x="62.40" y="584.78" font-family="Liberation Serif" font-size="15.50" font-weight="bold" fill="#000" stroke="#000" stroke-width="0.40" text-anchor="end">0</text>
<text transform="translate(61.80,343.90) scale(1.400,1.000)" font-family="Liberation Serif" font-size="14.00" font-weight="normal" fill="#1a1a1a" stroke="#1a1a1a" stroke-width="0.50">D</text>
<text transform="translate(40.50,474.00) rotate(-90) scale(1,1.200)" font-family="Liberation Serif" font-size="16.40" font-weight="normal" fill="#0a0a0a" stroke="#0a0a0a" stroke-width="0.25" text-anchor="middle" textLength="103.00" lengthAdjust="spacingAndGlyphs">WBC(*10^9/L)</text>
<path d="M100.20,386.60 L100.20,376.70 L189.80,376.70 L189.80,386.60" fill="none" stroke="#000" stroke-width="3.00" stroke-linejoin="miter"/>
<text x="119.10" y="366.90" font-family="Liberation Serif" font-size="13.94" font-weight="normal" fill="#2b2f36" stroke="#2b2f36" stroke-width="0.35" textLength="6.93" lengthAdjust="spacingAndGlyphs">p</text>
<path d="M140.61,357.30 L131.39,361.75 L140.61,366.20" fill="none" stroke="#2b2f36" stroke-width="1.20" stroke-linejoin="miter" stroke-miterlimit="10"/>
<text x="141.31" y="366.90" font-family="Liberation Serif" font-size="13.94" font-weight="normal" fill="#2b2f36" stroke="#2b2f36" stroke-width="0.30" textLength="7.08" lengthAdjust="spacingAndGlyphs">0</text>
<text x="148.71" y="366.90" font-family="Liberation Serif" font-size="13.94" font-weight="normal" fill="#2b2f36" stroke="#2b2f36" stroke-width="0.30" textLength="5.13" lengthAdjust="spacingAndGlyphs">.</text>
<text x="154.15" y="366.90" font-family="Liberation Serif" font-size="13.94" font-weight="normal" fill="#2b2f36" stroke="#2b2f36" stroke-width="0.30" textLength="7.08" lengthAdjust="spacingAndGlyphs">0</text>
<text x="163.88" y="366.90" font-family="Liberation Serif" font-size="13.94" font-weight="normal" fill="#2b2f36" stroke="#2b2f36" stroke-width="0.30" textLength="7.08" lengthAdjust="spacingAndGlyphs">5</text>
<path d="M105.20,410.80 L105.17,412.07 L105.13,413.33 L105.11,414.60 L105.08,415.86 L105.05,417.13 L105.03,418.39 L105.01,419.66 L104.99,420.92 L104.97,422.19 L104.96,423.45 L104.94,424.72 L104.93,425.98 L104.92,427.25 L104.91,428.51 L104.91,429.78 L104.90,431.04 L104.90,432.31 L104.90,433.57 L104.90,434.84 L104.90,436.10 L104.91,437.37 L104.91,438.63 L104.92,439.90 L104.93,441.16 L104.94,442.43 L104.96,443.69 L104.98,444.96 L105.00,446.22 L105.03,447.49 L105.05,448.75 L105.09,450.02 L105.26,451.28 L105.89,452.55 L106.51,453.81 L106.82,455.08 L107.07,456.34 L107.27,457.61 L107.45,458.88 L107.62,460.14 L107.77,461.41 L107.90,462.67 L108.03,463.94 L108.18,465.20 L108.38,466.47 L108.67,467.73 L109.02,469.00 L109.42,470.26 L109.84,471.53 L110.27,472.79 L110.68,474.06 L111.10,475.32 L111.54,476.59 L111.98,477.85 L112.44,479.12 L112.89,480.38 L113.33,481.65 L113.75,482.91 L114.15,484.18 L114.60,485.44 L115.08,486.71 L115.56,487.97 L116.00,489.24 L116.37,490.50 L116.65,491.77 L116.79,493.03 L116.80,494.30 L116.80,495.56 L116.80,496.83 L116.80,498.09 L116.80,499.36 L116.80,500.62 L116.80,501.89 L116.80,503.16 L116.77,504.42 L116.66,505.69 L116.48,506.95 L116.25,508.22 L115.96,509.48 L115.65,510.75 L115.32,512.01 L114.98,513.28 L114.57,514.54 L114.05,515.81 L113.44,517.07 L112.77,518.34 L112.06,519.60 L111.33,520.87 L110.62,522.13 L109.94,523.40 L109.16,524.66 L108.29,525.93 L107.43,527.19 L106.65,528.46 L106.04,529.72 L105.70,530.99 L105.53,532.25 L105.39,533.52 L105.26,534.78 L105.15,536.05 L105.05,537.31 L104.97,538.58 L104.91,539.84 L104.85,541.11 L104.81,542.37 L104.78,543.64 L104.75,544.90 L104.72,546.17 L104.71,547.43 L104.70,548.70 L100.70,548.70 L100.69,547.43 L100.68,546.17 L100.65,544.90 L100.62,543.64 L100.59,542.37 L100.55,541.11 L100.49,539.84 L100.43,538.58 L100.35,537.31 L100.25,536.05 L100.14,534.78 L100.01,533.52 L99.87,532.25 L99.70,530.99 L99.36,529.72 L98.75,528.46 L97.97,527.19 L97.11,525.93 L96.24,524.66 L95.46,523.40 L94.78,522.13 L94.07,520.87 L93.34,519.60 L92.63,518.34 L91.96,517.07 L91.35,515.81 L90.83,514.54 L90.42,513.28 L90.08,512.01 L89.75,510.75 L89.44,509.48 L89.15,508.22 L88.92,506.95 L88.74,505.69 L88.63,504.42 L88.60,503.16 L88.60,501.89 L88.60,500.62 L88.60,499.36 L88.60,498.09 L88.60,496.83 L88.60,495.56 L88.60,494.30 L88.61,493.03 L88.75,491.77 L89.03,490.50 L89.40,489.24 L89.84,487.97 L90.32,486.71 L90.80,485.44 L91.25,484.18 L91.65,482.91 L92.07,481.65 L92.51,480.38 L92.96,479.12 L93.42,477.85 L93.86,476.59 L94.30,475.32 L94.72,474.06 L95.13,472.79 L95.56,471.53 L95.98,470.26 L96.38,469.00 L96.73,467.73 L97.02,466.47 L97.22,465.20 L97.37,463.94 L97.50,462.67 L97.63,461.41 L97.78,460.14 L97.95,458.88 L98.13,457.61 L98.33,456.34 L98.58,455.08 L98.89,453.81 L99.51,452.55 L100.14,451.28 L100.31,450.02 L100.35,448.75 L100.37,447.49 L100.40,446.22 L100.42,444.96 L100.44,443.69 L100.46,442.43 L100.47,441.16 L100.48,439.90 L100.49,438.63 L100.49,437.37 L100.50,436.10 L100.50,434.84 L100.50,433.57 L100.50,432.31 L100.50,431.04 L100.49,429.78 L100.49,428.51 L100.48,427.25 L100.47,425.98 L100.46,424.72 L100.44,423.45 L100.43,422.19 L100.41,420.92 L100.39,419.66 L100.37,418.39 L100.35,417.13 L100.32,415.86 L100.29,414.60 L100.27,413.33 L100.23,412.07 L100.20,410.80 Z" fill="#000"/>
<path d="M102.70,413.35 L102.70,414.62 L102.70,415.89 L102.70,417.16 L102.70,418.43 L102.70,419.70 L102.70,420.97 L102.70,422.24 L102.70,423.51 L102.70,424.78 L102.70,426.05 L102.70,427.31 L102.70,428.58 L102.70,429.85 L102.70,431.12 L102.70,432.39 L102.70,433.66 L102.70,434.93 L102.70,436.20 L102.70,437.47 L102.70,438.74 L102.70,440.01 L102.70,441.28 L102.70,442.55 L102.70,443.82 L102.70,445.09 L102.70,446.36 L102.70,447.63 L102.70,448.90 L102.70,450.17 L102.70,451.44 L102.70,452.71 L103.99,453.97 L104.35,455.24 L104.52,456.51 L104.66,457.78 L104.78,459.05 L104.89,460.32 L104.99,461.59 L105.08,462.86 L105.16,464.13 L105.26,465.40 L105.37,466.67 L105.52,467.94 L105.71,469.21 L105.94,470.48 L106.20,471.75 L106.47,473.02 L106.76,474.29 L107.17,475.56 L107.60,476.83 L108.04,478.10 L108.49,479.37 L108.94,480.63 L109.39,481.90 L109.83,483.17 L110.25,484.44 L110.66,485.71 L111.12,486.98 L111.60,488.25 L112.08,489.52 L112.51,490.79 L112.84,492.06 L113.00,493.33 L113.00,494.60 L113.00,495.87 L113.00,497.14 L113.00,498.41 L113.00,499.68 L113.00,500.95 L113.00,502.22 L113.00,503.49 L112.94,504.76 L112.78,506.03 L112.56,507.29 L112.28,508.56 L111.96,509.83 L111.63,511.10 L111.29,512.37 L110.84,513.64 L110.27,514.91 L109.62,516.18 L108.91,517.45 L108.18,518.72 L107.47,519.99 L106.78,521.26 L106.14,522.53 L105.57,523.80 L105.04,525.07 L104.58,526.34 L104.20,527.61 L103.90,528.88 L102.70,530.15 L102.70,531.42 L102.70,532.69 L102.70,533.95 L102.70,535.22 L102.70,536.49 L102.70,537.76 L102.70,539.03 L102.70,540.30 L102.70,541.57 L102.70,542.84 L102.70,544.11 L102.70,545.38 L102.70,546.65 L102.70,546.65 L102.70,545.38 L102.70,544.11 L102.70,542.84 L102.70,541.57 L102.70,540.30 L102.70,539.03 L102.70,537.76 L102.70,536.49 L102.70,535.22 L102.70,533.95 L102.70,532.69 L102.70,531.42 L102.70,530.15 L101.50,528.88 L101.20,527.61 L100.82,526.34 L100.36,525.07 L99.83,523.80 L99.26,522.53 L98.62,521.26 L97.93,519.99 L97.22,518.72 L96.49,517.45 L95.78,516.18 L95.13,514.91 L94.56,513.64 L94.11,512.37 L93.77,511.10 L93.44,509.83 L93.12,508.56 L92.84,507.29 L92.62,506.03 L92.46,504.76 L92.40,503.49 L92.40,502.22 L92.40,500.95 L92.40,499.68 L92.40,498.41 L92.40,497.14 L92.40,495.87 L92.40,494.60 L92.40,493.33 L92.56,492.06 L92.89,490.79 L93.32,489.52 L93.80,488.25 L94.28,486.98 L94.74,485.71 L95.15,484.44 L95.57,483.17 L96.01,481.90 L96.46,480.63 L96.91,479.37 L97.36,478.10 L97.80,476.83 L98.23,475.56 L98.64,474.29 L98.93,473.02 L99.20,471.75 L99.46,470.48 L99.69,469.21 L99.88,467.94 L100.03,466.67 L100.14,465.40 L100.24,464.13 L100.32,462.86 L100.41,461.59 L100.51,460.32 L100.62,459.05 L100.74,457.78 L100.88,456.51 L101.05,455.24 L101.41,453.97 L102.70,452.71 L102.70,451.44 L102.70,450.17 L102.70,448.90 L102.70,447.63 L102.70,446.36 L102.70,445.09 L102.70,443.82 L102.70,442.55 L102.70,441.28 L102.70,440.01 L102.70,438.74 L102.70,437.47 L102.70,436.20 L102.70,434.93 L102.70,433.66 L102.70,432.39 L102.70,431.12 L102.70,429.85 L102.70,428.58 L102.70,427.31 L102.70,426.05 L102.70,424.78 L102.70,423.51 L102.70,422.24 L102.70,420.97 L102.70,419.70 L102.70,418.43 L102.70,417.16 L102.70,415.89 L102.70,414.62 L102.70,413.35 Z" fill="#eb87a9"/>
<line x1="92.60" y1="496.00" x2="112.80" y2="496.00" stroke="#000" stroke-width="1.6" stroke-dasharray="2.4 2.4"/>
<line x1="97.10" y1="479.40" x2="108.30" y2="479.40" stroke="rgba(0,0,0,0.45)" stroke-width="1" stroke-dasharray="1.2 2"/>
<line x1="93.79" y1="510.40" x2="111.61" y2="510.40" stroke="rgba(0,0,0,0.45)" stroke-width="1" stroke-dasharray="1.2 2"/>
<path d="M149.90,402.70 L149.78,403.97 L149.67,405.24 L149.57,406.50 L149.49,407.77 L149.44,409.04 L149.40,410.31 L149.40,411.57 L149.43,412.84 L149.49,414.11 L149.56,415.38 L149.65,416.64 L149.76,417.91 L149.86,419.18 L149.97,420.45 L150.07,421.72 L150.15,422.98 L150.23,424.25 L150.28,425.52 L150.30,426.79 L150.30,428.05 L150.29,429.32 L150.28,430.59 L150.26,431.86 L150.24,433.12 L150.21,434.39 L150.19,435.66 L150.17,436.93 L150.15,438.20 L150.13,439.46 L150.11,440.73 L150.10,442.00 L150.10,443.27 L150.11,444.53 L150.14,445.80 L150.18,447.07 L150.23,448.34 L150.30,449.61 L150.36,450.87 L150.43,452.14 L150.50,453.41 L150.56,454.68 L150.61,455.94 L150.66,457.21 L150.69,458.48 L150.70,459.75 L150.69,461.01 L150.66,462.28 L150.62,463.55 L150.57,464.82 L150.53,466.09 L150.50,467.35 L150.50,468.62 L150.50,469.89 L150.50,471.16 L150.50,472.42 L150.59,473.69 L151.11,474.96 L151.90,476.23 L152.72,477.49 L153.48,478.76 L154.33,480.03 L155.18,481.30 L155.94,482.57 L156.60,483.83 L157.21,485.10 L157.78,486.37 L158.32,487.64 L158.84,488.90 L159.35,490.17 L159.80,491.44 L160.15,492.71 L160.47,493.97 L160.75,495.24 L160.95,496.51 L161.00,497.78 L160.88,499.05 L160.65,500.31 L160.38,501.58 L159.99,502.85 L159.45,504.12 L158.91,505.38 L158.37,506.65 L157.81,507.92 L157.25,509.19 L156.71,510.46 L156.19,511.72 L155.68,512.99 L155.18,514.26 L154.67,515.53 L154.13,516.79 L153.59,518.06 L153.11,519.33 L152.73,520.60 L152.40,521.86 L152.12,523.13 L151.90,524.40 L142.30,524.40 L142.08,523.13 L141.80,521.86 L141.47,520.60 L141.09,519.33 L140.61,518.06 L140.07,516.79 L139.53,515.53 L139.02,514.26 L138.52,512.99 L138.01,511.72 L137.49,510.46 L136.95,509.19 L136.39,507.92 L135.83,506.65 L135.29,505.38 L134.75,504.12 L134.21,502.85 L133.82,501.58 L133.55,500.31 L133.32,499.05 L133.20,497.78 L133.25,496.51 L133.45,495.24 L133.73,493.97 L134.05,492.71 L134.40,491.44 L134.85,490.17 L135.36,488.90 L135.88,487.64 L136.42,486.37 L136.99,485.10 L137.60,483.83 L138.26,482.57 L139.02,481.30 L139.87,480.03 L140.72,478.76 L141.48,477.49 L142.30,476.23 L143.09,474.96 L143.61,473.69 L143.70,472.42 L143.70,471.16 L143.70,469.89 L143.70,468.62 L143.70,467.35 L143.67,466.09 L143.63,464.82 L143.58,463.55 L143.54,462.28 L143.51,461.01 L143.50,459.75 L143.51,458.48 L143.54,457.21 L143.59,455.94 L143.64,454.68 L143.70,453.41 L143.77,452.14 L143.84,450.87 L143.90,449.61 L143.97,448.34 L144.02,447.07 L144.06,445.80 L144.09,444.53 L144.10,443.27 L144.10,442.00 L144.09,440.73 L144.07,439.46 L144.05,438.20 L144.03,436.93 L144.01,435.66 L143.99,434.39 L143.96,433.12 L143.94,431.86 L143.92,430.59 L143.91,429.32 L143.90,428.05 L143.90,426.79 L143.92,425.52 L143.97,424.25 L144.05,422.98 L144.13,421.72 L144.23,420.45 L144.34,419.18 L144.44,417.91 L144.55,416.64 L144.64,415.38 L144.71,414.11 L144.77,412.84 L144.80,411.57 L144.80,410.31 L144.76,409.04 L144.71,407.77 L144.63,406.50 L144.53,405.24 L144.42,403.97 L144.30,402.70 Z" fill="#000"/>
<path d="M147.10,405.55 L147.10,406.83 L147.10,408.10 L147.10,409.38 L147.10,410.66 L147.10,411.93 L147.10,413.21 L147.10,414.49 L147.10,415.76 L147.10,417.04 L147.10,418.32 L147.10,419.59 L147.10,420.87 L147.10,422.15 L147.10,423.42 L147.10,424.70 L147.10,425.98 L147.10,427.25 L147.10,428.53 L147.10,429.81 L147.10,431.08 L147.10,432.36 L147.10,433.64 L147.10,434.91 L147.10,436.19 L147.10,437.46 L147.10,438.74 L147.10,440.02 L147.10,441.29 L147.10,442.57 L147.10,443.85 L147.10,445.12 L147.10,446.40 L147.10,447.68 L147.10,448.95 L147.10,450.23 L147.10,451.51 L147.10,452.78 L147.10,454.06 L147.10,455.34 L147.10,456.61 L147.10,457.89 L147.10,459.17 L147.10,460.44 L147.10,461.72 L147.10,463.00 L147.10,464.27 L147.10,465.55 L147.10,466.83 L147.10,468.10 L147.10,469.38 L147.10,470.66 L147.10,471.93 L147.10,473.21 L148.40,474.49 L148.63,475.76 L149.01,477.04 L149.52,478.32 L149.98,479.59 L150.41,480.87 L151.17,482.15 L152.03,483.42 L152.77,484.70 L153.42,485.98 L154.01,487.25 L154.57,488.53 L155.10,489.81 L155.63,491.08 L156.10,492.36 L156.47,493.63 L156.78,494.91 L157.06,496.19 L157.20,497.46 L157.08,498.74 L156.84,500.02 L156.51,501.29 L155.98,502.57 L155.43,503.85 L154.89,505.12 L154.33,506.40 L153.76,507.68 L153.22,508.95 L152.70,510.23 L152.19,511.51 L151.68,512.78 L151.16,514.06 L150.75,515.34 L150.42,516.61 L150.12,517.89 L149.89,519.17 L149.68,520.44 L149.49,521.72 L144.71,521.72 L144.52,520.44 L144.31,519.17 L144.08,517.89 L143.78,516.61 L143.45,515.34 L143.04,514.06 L142.52,512.78 L142.01,511.51 L141.50,510.23 L140.98,508.95 L140.44,507.68 L139.87,506.40 L139.31,505.12 L138.77,503.85 L138.22,502.57 L137.69,501.29 L137.36,500.02 L137.12,498.74 L137.00,497.46 L137.14,496.19 L137.42,494.91 L137.73,493.63 L138.10,492.36 L138.57,491.08 L139.10,489.81 L139.63,488.53 L140.19,487.25 L140.78,485.98 L141.43,484.70 L142.17,483.42 L143.03,482.15 L143.79,480.87 L144.22,479.59 L144.68,478.32 L145.19,477.04 L145.57,475.76 L145.80,474.49 L147.10,473.21 L147.10,471.93 L147.10,470.66 L147.10,469.38 L147.10,468.10 L147.10,466.83 L147.10,465.55 L147.10,464.27 L147.10,463.00 L147.10,461.72 L147.10,460.44 L147.10,459.17 L147.10,457.89 L147.10,456.61 L147.10,455.34 L147.10,454.06 L147.10,452.78 L147.10,451.51 L147.10,450.23 L147.10,448.95 L147.10,447.68 L147.10,446.40 L147.10,445.12 L147.10,443.85 L147.10,442.57 L147.10,441.29 L147.10,440.02 L147.10,438.74 L147.10,437.46 L147.10,436.19 L147.10,434.91 L147.10,433.64 L147.10,432.36 L147.10,431.08 L147.10,429.81 L147.10,428.53 L147.10,427.25 L147.10,425.98 L147.10,424.70 L147.10,423.42 L147.10,422.15 L147.10,420.87 L147.10,419.59 L147.10,418.32 L147.10,417.04 L147.10,415.76 L147.10,414.49 L147.10,413.21 L147.10,411.93 L147.10,410.66 L147.10,409.38 L147.10,408.10 L147.10,406.83 L147.10,405.55 Z" fill="#91c3f5"/>
<line x1="137.29" y1="496.60" x2="156.91" y2="496.60" stroke="#2d4a70" stroke-width="1.6" stroke-dasharray="2.4 2.4"/>
<path d="M194.10,420.50 L193.82,421.78 L193.56,423.07 L193.34,424.35 L193.18,425.63 L193.10,426.91 L193.10,428.20 L193.11,429.48 L193.13,430.76 L193.15,432.04 L193.18,433.33 L193.21,434.61 L193.25,435.89 L193.31,437.17 L193.39,438.46 L193.49,439.74 L193.60,441.02 L193.74,442.31 L193.89,443.59 L194.07,444.87 L194.26,446.15 L194.47,447.44 L194.72,448.72 L195.19,450.00 L195.81,451.28 L196.46,452.57 L197.01,453.85 L197.44,455.13 L197.89,456.41 L198.32,457.70 L198.73,458.98 L199.08,460.26 L199.36,461.55 L199.54,462.83 L199.60,464.11 L199.60,465.39 L199.60,466.68 L199.60,467.96 L199.60,469.24 L199.60,470.52 L199.60,471.81 L199.60,473.09 L199.67,474.37 L200.27,475.65 L201.22,476.94 L202.21,478.22 L202.99,479.50 L203.81,480.79 L204.56,482.07 L204.98,483.35 L204.90,484.63 L204.48,485.92 L203.86,487.20 L203.13,488.48 L202.41,489.76 L201.53,491.05 L200.44,492.33 L199.27,493.61 L198.15,494.89 L197.22,496.18 L196.61,497.46 L196.23,498.74 L195.88,500.03 L195.58,501.31 L195.34,502.59 L195.17,503.87 L195.10,505.16 L195.10,506.44 L195.10,507.72 L195.10,509.00 L195.10,510.29 L195.10,511.57 L195.10,512.85 L195.10,514.13 L195.10,515.42 L195.10,516.70 L186.30,516.70 L186.30,515.42 L186.30,514.13 L186.30,512.85 L186.30,511.57 L186.30,510.29 L186.30,509.00 L186.30,507.72 L186.30,506.44 L186.30,505.16 L186.23,503.87 L186.06,502.59 L185.82,501.31 L185.52,500.03 L185.17,498.74 L184.79,497.46 L184.18,496.18 L183.25,494.89 L182.13,493.61 L180.96,492.33 L179.87,491.05 L178.99,489.76 L178.27,488.48 L177.54,487.20 L176.92,485.92 L176.50,484.63 L176.42,483.35 L176.84,482.07 L177.59,480.79 L178.41,479.50 L179.19,478.22 L180.18,476.94 L181.13,475.65 L181.73,474.37 L181.80,473.09 L181.80,471.81 L181.80,470.52 L181.80,469.24 L181.80,467.96 L181.80,466.68 L181.80,465.39 L181.80,464.11 L181.86,462.83 L182.04,461.55 L182.32,460.26 L182.67,458.98 L183.08,457.70 L183.51,456.41 L183.96,455.13 L184.39,453.85 L184.94,452.57 L185.59,451.28 L186.21,450.00 L186.68,448.72 L186.93,447.44 L187.14,446.15 L187.33,444.87 L187.51,443.59 L187.66,442.31 L187.80,441.02 L187.91,439.74 L188.01,438.46 L188.09,437.17 L188.15,435.89 L188.19,434.61 L188.22,433.33 L188.25,432.04 L188.27,430.76 L188.29,429.48 L188.30,428.20 L188.30,426.91 L188.22,425.63 L188.06,424.35 L187.84,423.07 L187.58,421.78 L187.30,420.50 Z" fill="#000"/>
<path d="M190.70,423.95 L190.70,425.22 L190.70,426.49 L190.70,427.76 L190.70,429.03 L190.70,430.30 L190.70,431.57 L190.70,432.84 L190.70,434.11 L190.70,435.39 L190.70,436.66 L190.70,437.93 L190.70,439.20 L190.70,440.47 L190.70,441.74 L190.70,443.01 L190.70,444.28 L190.70,445.55 L192.03,446.82 L192.19,448.09 L192.32,449.36 L192.55,450.63 L192.88,451.90 L193.28,453.17 L193.72,454.44 L194.02,455.71 L194.29,456.98 L194.57,458.26 L194.92,459.53 L195.30,460.80 L195.60,462.07 L195.77,463.34 L195.80,464.61 L195.80,465.88 L195.80,467.15 L195.80,468.42 L195.80,469.69 L195.80,470.96 L195.80,472.23 L195.80,473.50 L195.88,474.77 L196.22,476.04 L196.83,477.31 L197.69,478.58 L198.69,479.85 L199.53,481.13 L200.33,482.40 L201.11,483.67 L200.75,484.94 L200.05,486.21 L199.33,487.48 L198.51,488.75 L197.40,490.02 L196.24,491.29 L195.16,492.56 L194.22,493.83 L193.76,495.10 L193.56,496.37 L193.38,497.64 L193.16,498.91 L192.96,500.18 L192.80,501.45 L192.68,502.72 L192.59,504.00 L192.56,505.27 L192.56,506.54 L192.56,507.81 L192.56,509.08 L192.56,510.35 L192.56,511.62 L192.56,512.89 L192.56,514.16 L188.84,514.16 L188.84,512.89 L188.84,511.62 L188.84,510.35 L188.84,509.08 L188.84,507.81 L188.84,506.54 L188.84,505.27 L188.81,504.00 L188.72,502.72 L188.60,501.45 L188.44,500.18 L188.24,498.91 L188.02,497.64 L187.84,496.37 L187.64,495.10 L187.18,493.83 L186.24,492.56 L185.16,491.29 L184.00,490.02 L182.89,488.75 L182.07,487.48 L181.35,486.21 L180.65,484.94 L180.29,483.67 L181.07,482.40 L181.87,481.13 L182.71,479.85 L183.71,478.58 L184.57,477.31 L185.18,476.04 L185.52,474.77 L185.60,473.50 L185.60,472.23 L185.60,470.96 L185.60,469.69 L185.60,468.42 L185.60,467.15 L185.60,465.88 L185.60,464.61 L185.63,463.34 L185.80,462.07 L186.10,460.80 L186.48,459.53 L186.83,458.26 L187.11,456.98 L187.38,455.71 L187.68,454.44 L188.12,453.17 L188.52,451.90 L188.85,450.63 L189.08,449.36 L189.21,448.09 L189.37,446.82 L190.70,445.55 L190.70,444.28 L190.70,443.01 L190.70,441.74 L190.70,440.47 L190.70,439.20 L190.70,437.93 L190.70,436.66 L190.70,435.39 L190.70,434.11 L190.70,432.84 L190.70,431.57 L190.70,430.30 L190.70,429.03 L190.70,427.76 L190.70,426.49 L190.70,425.22 L190.70,423.95 Z" fill="#a4ae72"/>
<line x1="180.65" y1="483.40" x2="200.75" y2="483.40" stroke="#000" stroke-width="1.6" stroke-dasharray="2.4 2.4"/>
<line x1="185.80" y1="467.00" x2="195.60" y2="467.00" stroke="rgba(0,0,0,0.45)" stroke-width="1" stroke-dasharray="1.2 2"/>
<text transform="translate(111.70,603.30) rotate(-45)" font-family="Liberation Serif" font-size="17.00" fill="#050505" stroke="#050505" stroke-width="0.25" text-anchor="end">mild</text>
<text transform="translate(154.90,600.80) rotate(-45)" font-family="Liberation Serif" font-size="17.00" fill="#050505" stroke="#050505" stroke-width="0.25" text-anchor="end">moderate</text>
<text transform="translate(194.60,599.80) rotate(-45)" font-family="Liberation Serif" font-size="17.00" fill="#050505" stroke="#050505" stroke-width="0.25" text-anchor="end">severe</text>
<line x1="296.60" y1="361.35" x2="296.60" y2="568.35" stroke="#000" stroke-width="2.10"/>
<line x1="288.00" y1="567.30" x2="424.70" y2="567.30" stroke="#000" stroke-width="2.10"/>
<line x1="288.10" y1="362.40" x2="296.60" y2="362.40" stroke="#000" stroke-width="2.10"/>
<line x1="288.10" y1="414.00" x2="296.60" y2="414.00" stroke="#000" stroke-width="2.10"/>
<line x1="288.10" y1="465.00" x2="296.60" y2="465.00" stroke="#000" stroke-width="2.10"/>
<line x1="288.10" y1="516.00" x2="296.60" y2="516.00" stroke="#000" stroke-width="2.10"/>
<line x1="288.10" y1="567.30" x2="296.60" y2="567.30" stroke="#000" stroke-width="2.10"/>
<line x1="321.50" y1="567.30" x2="321.50" y2="576.30" stroke="#000" stroke-width="2.10"/>
<line x1="360.30" y1="567.30" x2="360.30" y2="576.30" stroke="#000" stroke-width="2.10"/>
<line x1="399.00" y1="567.30" x2="399.00" y2="576.30" stroke="#000" stroke-width="2.10"/>
<text x="274.20" y="368.56" font-family="Liberation Serif" font-size="14.60" font-weight="bold" fill="#000" stroke="#000" stroke-width="0.40" textLength="11.80" lengthAdjust="spacingAndGlyphs">12</text>
<text x="279.90" y="420.16" font-family="Liberation Serif" font-size="14.60" font-weight="bold" fill="#000" stroke="#000" stroke-width="0.40" textLength="6.10" lengthAdjust="spacingAndGlyphs">9</text>
<text x="279.90" y="471.16" font-family="Liberation Serif" font-size="14.60" font-weight="bold" fill="#000" stroke="#000" stroke-width="0.40" textLength="6.10" lengthAdjust="spacingAndGlyphs">6</text>
<text x="279.90" y="522.16" font-family="Liberation Serif" font-size="14.60" font-weight="bold" fill="#000" stroke="#000" stroke-width="0.40" textLength="6.10" lengthAdjust="spacingAndGlyphs">3</text>
<text x="279.90" y="573.46" font-family="Liberation Serif" font-size="14.60" font-weight="bold" fill="#000" stroke="#000" stroke-width="0.40" textLength="6.10" lengthAdjust="spacingAndGlyphs">0</text>
<text transform="translate(288.80,340.00) scale(1.500,1.000)" font-family="Liberation Serif" font-size="14.00" font-weight="normal" fill="#1a1a1a" stroke="#1a1a1a" stroke-width="0.40">E</text>
<text transform="translate(266.30,467.90) rotate(-90) scale(1,1.000)" font-family="Liberation Serif" font-size="15.20" font-weight="normal" fill="#0a0a0a" stroke="#0a0a0a" stroke-width="0.25" text-anchor="middle" textLength="133.60" lengthAdjust="spacingAndGlyphs">Neutrophil(*10^9/L)</text>
<path d="M320.00,385.50 L320.00,375.60 L399.60,375.60 L399.60,385.50" fill="none" stroke="#000" stroke-width="3.00" stroke-linejoin="miter"/>
<text x="337.40" y="366.90" font-family="Liberation Serif" font-size="14.55" font-weight="normal" fill="#4a4a4a" stroke="#4a4a4a" stroke-width="0.35" textLength="5.98" lengthAdjust="spacingAndGlyphs">p</text>
<path d="M355.87,356.90 L347.96,361.55 L355.87,366.20" fill="none" stroke="#4a4a4a" stroke-width="1.20" stroke-linejoin="miter" stroke-miterlimit="10"/>
<text x="356.23" y="366.90" font-family="Liberation Serif" font-size="14.55" font-weight="normal" fill="#4a4a4a" stroke="#4a4a4a" stroke-width="0.30" textLength="6.12" lengthAdjust="spacingAndGlyphs">0</text>
<text x="362.69" y="366.90" font-family="Liberation Serif" font-size="14.55" font-weight="normal" fill="#4a4a4a" stroke="#4a4a4a" stroke-width="0.30" textLength="4.43" lengthAdjust="spacingAndGlyphs">.</text>
<text x="367.47" y="366.90" font-family="Liberation Serif" font-size="14.55" font-weight="normal" fill="#4a4a4a" stroke="#4a4a4a" stroke-width="0.30" textLength="6.12" lengthAdjust="spacingAndGlyphs">0</text>
<text x="376.07" y="366.90" font-family="Liberation Serif" font-size="14.55" font-weight="normal" fill="#4a4a4a" stroke="#4a4a4a" stroke-width="0.30" textLength="6.12" lengthAdjust="spacingAndGlyphs">5</text>
<path d="M323.50,416.40 L323.50,417.67 L323.50,418.94 L323.50,420.21 L323.51,421.48 L323.51,422.75 L323.51,424.02 L323.52,425.29 L323.53,426.56 L323.53,427.83 L323.54,429.10 L323.55,430.37 L323.56,431.64 L323.57,432.91 L323.59,434.19 L323.60,435.46 L323.62,436.73 L323.63,438.00 L323.65,439.27 L323.67,440.54 L323.69,441.81 L323.75,443.08 L323.91,444.35 L324.12,445.62 L324.34,446.89 L324.52,448.16 L324.70,449.43 L324.88,450.70 L325.03,451.97 L325.10,453.24 L325.05,454.51 L324.89,455.78 L324.71,457.05 L324.55,458.32 L324.47,459.59 L324.42,460.86 L324.37,462.13 L324.33,463.40 L324.31,464.67 L324.30,465.94 L324.38,467.21 L324.59,468.49 L324.85,469.76 L325.10,471.03 L325.36,472.30 L325.64,473.57 L325.91,474.84 L326.11,476.11 L326.27,477.38 L326.41,478.65 L326.54,479.92 L326.65,481.19 L326.76,482.46 L326.87,483.73 L326.98,485.00 L327.11,486.27 L327.23,487.54 L327.36,488.81 L327.48,490.08 L327.60,491.35 L327.73,492.62 L327.87,493.89 L328.02,495.16 L328.19,496.43 L328.38,497.70 L328.61,498.97 L328.88,500.24 L329.18,501.51 L329.51,502.79 L329.85,504.06 L330.21,505.33 L330.57,506.60 L330.93,507.87 L331.32,509.14 L331.77,510.41 L332.23,511.68 L332.66,512.95 L333.03,514.22 L333.29,515.49 L333.53,516.76 L333.74,518.03 L333.91,519.30 L333.99,520.57 L333.98,521.84 L333.86,523.11 L333.67,524.38 L333.43,525.65 L333.15,526.92 L332.85,528.19 L332.47,529.46 L331.98,530.73 L331.40,532.00 L330.77,533.27 L330.10,534.54 L329.28,535.81 L328.36,537.09 L327.44,538.36 L326.61,539.63 L325.88,540.90 L325.17,542.17 L324.63,543.44 L324.39,544.71 L324.22,545.98 L324.06,547.25 L323.94,548.52 L323.83,549.79 L323.76,551.06 L323.72,552.33 L323.70,553.60 L320.10,553.60 L320.08,552.33 L320.04,551.06 L319.97,549.79 L319.86,548.52 L319.74,547.25 L319.58,545.98 L319.41,544.71 L319.17,543.44 L318.63,542.17 L317.92,540.90 L317.19,539.63 L316.36,538.36 L315.44,537.09 L314.52,535.81 L313.70,534.54 L313.03,533.27 L312.40,532.00 L311.82,530.73 L311.33,529.46 L310.95,528.19 L310.65,526.92 L310.37,525.65 L310.13,524.38 L309.94,523.11 L309.82,521.84 L309.81,520.57 L309.89,519.30 L310.06,518.03 L310.27,516.76 L310.51,515.49 L310.77,514.22 L311.14,512.95 L311.57,511.68 L312.03,510.41 L312.48,509.14 L312.87,507.87 L313.23,506.60 L313.59,505.33 L313.95,504.06 L314.29,502.79 L314.62,501.51 L314.92,500.24 L315.19,498.97 L315.42,497.70 L315.61,496.43 L315.78,495.16 L315.93,493.89 L316.07,492.62 L316.20,491.35 L316.32,490.08 L316.44,488.81 L316.57,487.54 L316.69,486.27 L316.82,485.00 L316.93,483.73 L317.04,482.46 L317.15,481.19 L317.26,479.92 L317.39,478.65 L317.53,477.38 L317.69,476.11 L317.89,474.84 L318.16,473.57 L318.44,472.30 L318.70,471.03 L318.95,469.76 L319.21,468.49 L319.42,467.21 L319.50,465.94 L319.49,464.67 L319.47,463.40 L319.43,462.13 L319.38,460.86 L319.33,459.59 L319.25,458.32 L319.09,457.05 L318.91,455.78 L318.75,454.51 L318.70,453.24 L318.77,451.97 L318.92,450.70 L319.10,449.43 L319.28,448.16 L319.46,446.89 L319.68,445.62 L319.89,444.35 L320.05,443.08 L320.11,441.81 L320.13,440.54 L320.15,439.27 L320.17,438.00 L320.18,436.73 L320.20,435.46 L320.21,434.19 L320.23,432.91 L320.24,431.64 L320.25,430.37 L320.26,429.10 L320.27,427.83 L320.27,426.56 L320.28,425.29 L320.29,424.02 L320.29,422.75 L320.29,421.48 L320.30,420.21 L320.30,418.94 L320.30,417.67 L320.30,416.40 Z" fill="#000"/>
<path d="M321.90,418.05 L321.90,419.32 L321.90,420.60 L321.90,421.87 L321.90,423.14 L321.90,424.42 L321.90,425.69 L321.90,426.96 L321.90,428.24 L321.90,429.51 L321.90,430.78 L321.90,432.06 L321.90,433.33 L321.90,434.60 L321.90,435.88 L321.90,437.15 L321.90,438.42 L321.90,439.70 L321.90,440.97 L321.90,442.24 L321.90,443.52 L321.90,444.79 L321.90,446.06 L321.90,447.34 L321.90,448.61 L321.90,449.88 L321.90,451.16 L321.90,452.43 L321.90,453.70 L321.90,454.98 L321.90,456.25 L321.90,457.52 L321.90,458.80 L321.90,460.07 L321.90,461.34 L321.90,462.62 L321.90,463.89 L321.90,465.16 L321.90,466.44 L321.90,467.71 L321.90,468.98 L321.90,470.26 L321.90,471.53 L321.90,472.80 L323.35,474.08 L323.53,475.35 L323.66,476.62 L323.77,477.90 L323.86,479.17 L323.93,480.44 L324.01,481.72 L324.08,482.99 L324.15,484.26 L324.22,485.54 L324.31,486.81 L324.39,488.08 L324.47,489.36 L324.55,490.63 L324.63,491.90 L324.71,493.18 L324.80,494.45 L324.90,495.72 L325.01,497.00 L325.13,498.27 L325.27,499.54 L325.44,500.82 L325.62,502.09 L325.82,503.36 L326.07,504.64 L326.43,505.91 L326.79,507.18 L327.15,508.46 L327.52,509.73 L327.94,511.00 L328.40,512.28 L328.86,513.55 L329.26,514.82 L329.54,516.10 L329.78,517.37 L329.99,518.64 L330.15,519.92 L330.20,521.19 L330.11,522.46 L329.93,523.74 L329.68,525.01 L329.40,526.28 L329.09,527.56 L328.65,528.83 L328.10,530.10 L327.47,531.38 L326.81,532.65 L325.97,533.92 L325.12,535.20 L324.59,536.47 L324.14,537.74 L323.76,539.02 L323.32,540.29 L321.90,541.56 L321.90,542.84 L321.90,544.11 L321.90,545.38 L321.90,546.66 L321.90,547.93 L321.90,549.20 L321.90,550.48 L321.90,551.75 L321.90,551.75 L321.90,550.48 L321.90,549.20 L321.90,547.93 L321.90,546.66 L321.90,545.38 L321.90,544.11 L321.90,542.84 L321.90,541.56 L320.48,540.29 L320.04,539.02 L319.66,537.74 L319.21,536.47 L318.68,535.20 L317.83,533.92 L316.99,532.65 L316.33,531.38 L315.70,530.10 L315.15,528.83 L314.71,527.56 L314.40,526.28 L314.12,525.01 L313.87,523.74 L313.69,522.46 L313.60,521.19 L313.65,519.92 L313.81,518.64 L314.02,517.37 L314.26,516.10 L314.54,514.82 L314.94,513.55 L315.40,512.28 L315.86,511.00 L316.28,509.73 L316.65,508.46 L317.01,507.18 L317.37,505.91 L317.73,504.64 L317.98,503.36 L318.18,502.09 L318.36,500.82 L318.53,499.54 L318.67,498.27 L318.79,497.00 L318.90,495.72 L319.00,494.45 L319.09,493.18 L319.17,491.90 L319.25,490.63 L319.33,489.36 L319.41,488.08 L319.49,486.81 L319.58,485.54 L319.65,484.26 L319.72,482.99 L319.79,481.72 L319.87,480.44 L319.94,479.17 L320.03,477.90 L320.14,476.62 L320.27,475.35 L320.45,474.08 L321.90,472.80 L321.90,471.53 L321.90,470.26 L321.90,468.98 L321.90,467.71 L321.90,466.44 L321.90,465.16 L321.90,463.89 L321.90,462.62 L321.90,461.34 L321.90,460.07 L321.90,458.80 L321.90,457.52 L321.90,456.25 L321.90,454.98 L321.90,453.70 L321.90,452.43 L321.90,451.16 L321.90,449.88 L321.90,448.61 L321.90,447.34 L321.90,446.06 L321.90,444.79 L321.90,443.52 L321.90,442.24 L321.90,440.97 L321.90,439.70 L321.90,438.42 L321.90,437.15 L321.90,435.88 L321.90,434.60 L321.90,433.33 L321.90,432.06 L321.90,430.78 L321.90,429.51 L321.90,428.24 L321.90,426.96 L321.90,425.69 L321.90,424.42 L321.90,423.14 L321.90,421.87 L321.90,420.60 L321.90,419.32 L321.90,418.05 Z" fill="#eb87a9"/>
<line x1="314.75" y1="514.80" x2="329.05" y2="514.80" stroke="#000" stroke-width="1.6" stroke-dasharray="2.4 2.4"/>
<line x1="319.12" y1="495.50" x2="324.68" y2="495.50" stroke="rgba(0,0,0,0.45)" stroke-width="1" stroke-dasharray="1.2 2"/>
<line x1="314.40" y1="525.40" x2="329.40" y2="525.40" stroke="rgba(0,0,0,0.45)" stroke-width="1" stroke-dasharray="1.2 2"/>
<path d="M362.50,402.70 L362.46,403.97 L362.42,405.24 L362.38,406.51 L362.34,407.78 L362.31,409.04 L362.29,410.31 L362.26,411.58 L362.24,412.85 L362.23,414.12 L362.22,415.39 L362.21,416.66 L362.20,417.93 L362.20,419.19 L362.20,420.46 L362.22,421.73 L362.24,423.00 L362.26,424.27 L362.29,425.54 L362.33,426.81 L362.36,428.08 L362.40,429.34 L362.45,430.61 L362.49,431.88 L362.54,433.15 L362.58,434.42 L362.62,435.69 L362.66,436.96 L362.70,438.23 L362.73,439.50 L362.76,440.76 L362.78,442.03 L362.80,443.30 L362.81,444.57 L362.82,445.84 L362.83,447.11 L362.84,448.38 L362.85,449.65 L362.86,450.91 L362.86,452.18 L362.87,453.45 L362.89,454.72 L362.90,455.99 L362.92,457.26 L362.95,458.53 L362.98,459.80 L363.02,461.07 L363.06,462.33 L363.11,463.60 L363.16,464.87 L363.21,466.14 L363.27,467.41 L363.33,468.68 L363.41,469.95 L363.49,471.22 L363.59,472.48 L363.69,473.75 L363.80,475.02 L363.93,476.29 L364.06,477.56 L364.21,478.83 L364.37,480.10 L364.53,481.37 L364.70,482.63 L364.91,483.90 L365.16,485.17 L365.45,486.44 L365.77,487.71 L366.11,488.98 L366.47,490.25 L366.83,491.52 L367.20,492.79 L367.56,494.05 L367.98,495.32 L368.44,496.59 L368.93,497.86 L369.41,499.13 L369.88,500.40 L370.31,501.67 L370.67,502.94 L370.95,504.20 L371.16,505.47 L371.36,506.74 L371.55,508.01 L371.71,509.28 L371.85,510.55 L371.95,511.82 L372.00,513.09 L371.98,514.36 L371.85,515.62 L371.62,516.89 L371.32,518.16 L370.97,519.43 L370.59,520.70 L370.21,521.97 L369.84,523.24 L369.40,524.51 L368.90,525.77 L368.36,527.04 L367.81,528.31 L367.27,529.58 L366.77,530.85 L366.33,532.12 L365.92,533.39 L365.53,534.66 L365.18,535.92 L364.87,537.19 L364.61,538.46 L364.38,539.73 L364.20,541.00 L356.00,541.00 L355.82,539.73 L355.59,538.46 L355.33,537.19 L355.02,535.92 L354.67,534.66 L354.28,533.39 L353.87,532.12 L353.43,530.85 L352.93,529.58 L352.39,528.31 L351.84,527.04 L351.30,525.77 L350.80,524.51 L350.36,523.24 L349.99,521.97 L349.61,520.70 L349.23,519.43 L348.88,518.16 L348.58,516.89 L348.35,515.62 L348.22,514.36 L348.20,513.09 L348.25,511.82 L348.35,510.55 L348.49,509.28 L348.65,508.01 L348.84,506.74 L349.04,505.47 L349.25,504.20 L349.53,502.94 L349.89,501.67 L350.32,500.40 L350.79,499.13 L351.27,497.86 L351.76,496.59 L352.22,495.32 L352.64,494.05 L353.00,492.79 L353.37,491.52 L353.73,490.25 L354.09,488.98 L354.43,487.71 L354.75,486.44 L355.04,485.17 L355.29,483.90 L355.50,482.63 L355.67,481.37 L355.83,480.10 L355.99,478.83 L356.14,477.56 L356.27,476.29 L356.40,475.02 L356.51,473.75 L356.61,472.48 L356.71,471.22 L356.79,469.95 L356.87,468.68 L356.93,467.41 L356.99,466.14 L357.04,464.87 L357.09,463.60 L357.14,462.33 L357.18,461.07 L357.22,459.80 L357.25,458.53 L357.28,457.26 L357.30,455.99 L357.31,454.72 L357.33,453.45 L357.34,452.18 L357.34,450.91 L357.35,449.65 L357.36,448.38 L357.37,447.11 L357.38,445.84 L357.39,444.57 L357.40,443.30 L357.42,442.03 L357.44,440.76 L357.47,439.50 L357.50,438.23 L357.54,436.96 L357.58,435.69 L357.62,434.42 L357.66,433.15 L357.71,431.88 L357.75,430.61 L357.80,429.34 L357.84,428.08 L357.87,426.81 L357.91,425.54 L357.94,424.27 L357.96,423.00 L357.98,421.73 L358.00,420.46 L358.00,419.19 L358.00,417.93 L357.99,416.66 L357.98,415.39 L357.97,414.12 L357.96,412.85 L357.94,411.58 L357.91,410.31 L357.89,409.04 L357.86,407.78 L357.82,406.51 L357.78,405.24 L357.74,403.97 L357.70,402.70 Z" fill="#000"/>
<path d="M360.10,405.15 L360.10,406.42 L360.10,407.69 L360.10,408.96 L360.10,410.23 L360.10,411.50 L360.10,412.77 L360.10,414.04 L360.10,415.31 L360.10,416.59 L360.10,417.86 L360.10,419.13 L360.10,420.40 L360.10,421.67 L360.10,422.94 L360.10,424.21 L360.10,425.48 L360.10,426.75 L360.10,428.02 L360.10,429.29 L360.10,430.56 L360.10,431.83 L360.10,433.10 L360.10,434.37 L360.10,435.64 L360.10,436.92 L360.10,438.19 L360.10,439.46 L360.10,440.73 L360.10,442.00 L360.10,443.27 L360.10,444.54 L360.10,445.81 L360.10,447.08 L360.10,448.35 L360.10,449.62 L360.10,450.89 L360.10,452.16 L360.10,453.43 L360.10,454.70 L360.10,455.97 L360.10,457.25 L360.10,458.52 L360.10,459.79 L360.10,461.06 L360.10,462.33 L360.10,463.60 L360.10,464.87 L360.10,466.14 L360.10,467.41 L360.10,468.68 L360.10,469.95 L360.10,471.22 L360.10,472.49 L360.10,473.76 L361.50,475.03 L361.58,476.30 L361.66,477.58 L361.76,478.85 L361.86,480.12 L361.96,481.39 L362.07,482.66 L362.19,483.93 L362.34,485.20 L362.51,486.47 L362.69,487.74 L362.90,489.01 L363.12,490.28 L363.35,491.55 L363.58,492.82 L363.81,494.09 L364.03,495.36 L364.41,496.63 L364.88,497.91 L365.36,499.18 L365.85,500.45 L366.32,501.72 L366.74,502.99 L367.08,504.26 L367.32,505.53 L367.52,506.80 L367.72,508.07 L367.89,509.34 L368.04,510.61 L368.14,511.88 L368.20,513.15 L368.16,514.42 L367.98,515.69 L367.70,516.96 L367.36,518.24 L366.98,519.51 L366.60,520.78 L366.23,522.05 L365.79,523.32 L365.28,524.59 L364.74,525.86 L364.18,527.13 L363.78,528.40 L363.48,529.67 L363.22,530.94 L362.97,532.21 L362.73,533.48 L362.50,534.75 L362.30,536.02 L362.13,537.29 L361.97,538.57 L358.23,538.57 L358.07,537.29 L357.90,536.02 L357.70,534.75 L357.47,533.48 L357.23,532.21 L356.98,530.94 L356.72,529.67 L356.42,528.40 L356.02,527.13 L355.46,525.86 L354.92,524.59 L354.41,523.32 L353.97,522.05 L353.60,520.78 L353.22,519.51 L352.84,518.24 L352.50,516.96 L352.22,515.69 L352.04,514.42 L352.00,513.15 L352.06,511.88 L352.16,510.61 L352.31,509.34 L352.48,508.07 L352.68,506.80 L352.88,505.53 L353.12,504.26 L353.46,502.99 L353.88,501.72 L354.35,500.45 L354.84,499.18 L355.32,497.91 L355.79,496.63 L356.17,495.36 L356.39,494.09 L356.62,492.82 L356.85,491.55 L357.08,490.28 L357.30,489.01 L357.51,487.74 L357.69,486.47 L357.86,485.20 L358.01,483.93 L358.13,482.66 L358.24,481.39 L358.34,480.12 L358.44,478.85 L358.54,477.58 L358.62,476.30 L358.70,475.03 L360.10,473.76 L360.10,472.49 L360.10,471.22 L360.10,469.95 L360.10,468.68 L360.10,467.41 L360.10,466.14 L360.10,464.87 L360.10,463.60 L360.10,462.33 L360.10,461.06 L360.10,459.79 L360.10,458.52 L360.10,457.25 L360.10,455.97 L360.10,454.70 L360.10,453.43 L360.10,452.16 L360.10,450.89 L360.10,449.62 L360.10,448.35 L360.10,447.08 L360.10,445.81 L360.10,444.54 L360.10,443.27 L360.10,442.00 L360.10,440.73 L360.10,439.46 L360.10,438.19 L360.10,436.92 L360.10,435.64 L360.10,434.37 L360.10,433.10 L360.10,431.83 L360.10,430.56 L360.10,429.29 L360.10,428.02 L360.10,426.75 L360.10,425.48 L360.10,424.21 L360.10,422.94 L360.10,421.67 L360.10,420.40 L360.10,419.13 L360.10,417.86 L360.10,416.59 L360.10,415.31 L360.10,414.04 L360.10,412.77 L360.10,411.50 L360.10,410.23 L360.10,408.96 L360.10,407.69 L360.10,406.42 L360.10,405.15 Z" fill="#91c3f5"/>
<line x1="352.97" y1="506.20" x2="367.23" y2="506.20" stroke="#5a7fae" stroke-width="1.6" stroke-dasharray="2.4 2.4"/>
<path d="M404.60,457.20 L404.65,458.49 L404.71,459.77 L404.80,461.06 L404.91,462.34 L405.02,463.63 L405.14,464.92 L405.28,466.20 L405.43,467.49 L405.62,468.77 L405.84,470.06 L406.10,471.35 L406.43,472.63 L407.04,473.92 L407.87,475.20 L408.76,476.49 L409.57,477.78 L410.16,479.06 L410.64,480.35 L411.07,481.63 L411.35,482.92 L411.38,484.21 L411.21,485.49 L410.89,486.78 L410.48,488.06 L410.05,489.35 L409.63,490.64 L409.30,491.92 L408.98,493.21 L408.65,494.49 L408.33,495.78 L408.02,497.06 L407.73,498.35 L407.46,499.64 L407.23,500.92 L407.02,502.21 L406.82,503.49 L406.63,504.78 L406.45,506.07 L406.28,507.35 L406.13,508.64 L406.00,509.92 L405.89,511.21 L405.81,512.50 L405.75,513.78 L405.71,515.07 L405.68,516.35 L405.65,517.64 L405.62,518.93 L405.59,520.21 L405.54,521.50 L405.47,522.78 L405.34,524.07 L405.16,525.36 L404.94,526.64 L404.68,527.93 L404.40,529.21 L404.10,530.50 L393.50,530.50 L393.20,529.21 L392.92,527.93 L392.66,526.64 L392.44,525.36 L392.26,524.07 L392.13,522.78 L392.06,521.50 L392.01,520.21 L391.98,518.93 L391.95,517.64 L391.92,516.35 L391.89,515.07 L391.85,513.78 L391.79,512.50 L391.71,511.21 L391.60,509.92 L391.47,508.64 L391.32,507.35 L391.15,506.07 L390.97,504.78 L390.78,503.49 L390.58,502.21 L390.37,500.92 L390.14,499.64 L389.87,498.35 L389.58,497.06 L389.27,495.78 L388.95,494.49 L388.62,493.21 L388.30,491.92 L387.97,490.64 L387.55,489.35 L387.12,488.06 L386.71,486.78 L386.39,485.49 L386.22,484.21 L386.25,482.92 L386.53,481.63 L386.96,480.35 L387.44,479.06 L388.03,477.78 L388.84,476.49 L389.73,475.20 L390.56,473.92 L391.17,472.63 L391.50,471.35 L391.76,470.06 L391.98,468.77 L392.17,467.49 L392.32,466.20 L392.46,464.92 L392.58,463.63 L392.69,462.34 L392.80,461.06 L392.89,459.77 L392.95,458.49 L393.00,457.20 Z" fill="#000"/>
<path d="M401.66,460.23 L401.72,461.53 L401.78,462.82 L401.86,464.12 L401.94,465.42 L402.03,466.71 L402.13,468.01 L402.24,469.31 L402.38,470.60 L402.54,471.90 L402.68,473.19 L403.08,474.49 L403.73,475.79 L404.55,477.08 L405.45,478.38 L406.28,479.68 L406.82,480.97 L407.29,482.27 L407.59,483.57 L407.46,484.86 L407.11,486.16 L406.68,487.46 L406.24,488.75 L405.85,490.05 L405.53,491.34 L405.20,492.64 L404.87,493.94 L404.55,495.23 L404.24,496.53 L403.95,497.83 L403.69,499.12 L403.46,500.42 L403.25,501.72 L403.05,503.01 L402.90,504.31 L402.78,505.61 L402.67,506.90 L402.58,508.20 L402.49,509.49 L402.42,510.79 L402.37,512.09 L402.33,513.38 L402.30,514.68 L402.28,515.98 L402.26,517.27 L402.24,518.57 L402.22,519.87 L402.19,521.16 L402.14,522.46 L402.06,523.76 L401.93,525.05 L401.77,526.35 L401.60,527.64 L396.00,527.64 L395.83,526.35 L395.67,525.05 L395.54,523.76 L395.46,522.46 L395.41,521.16 L395.38,519.87 L395.36,518.57 L395.34,517.27 L395.32,515.98 L395.30,514.68 L395.27,513.38 L395.23,512.09 L395.18,510.79 L395.11,509.49 L395.02,508.20 L394.93,506.90 L394.82,505.61 L394.70,504.31 L394.55,503.01 L394.35,501.72 L394.14,500.42 L393.91,499.12 L393.65,497.83 L393.36,496.53 L393.05,495.23 L392.73,493.94 L392.40,492.64 L392.07,491.34 L391.75,490.05 L391.36,488.75 L390.92,487.46 L390.49,486.16 L390.14,484.86 L390.01,483.57 L390.31,482.27 L390.78,480.97 L391.32,479.68 L392.15,478.38 L393.05,477.08 L393.87,475.79 L394.52,474.49 L394.92,473.19 L395.06,471.90 L395.22,470.60 L395.36,469.31 L395.47,468.01 L395.57,466.71 L395.66,465.42 L395.74,464.12 L395.82,462.82 L395.88,461.53 L395.94,460.23 Z" fill="#a4ae72"/>
<line x1="392.19" y1="491.00" x2="405.41" y2="491.00" stroke="#000" stroke-width="1.6" stroke-dasharray="2.4 2.4"/>
<line x1="395.35" y1="510.30" x2="402.25" y2="510.30" stroke="rgba(0,0,0,0.45)" stroke-width="1" stroke-dasharray="1.2 2"/>
<line x1="393.94" y1="476.00" x2="403.66" y2="476.00" stroke="rgba(0,0,0,0.45)" stroke-width="1" stroke-dasharray="1.2 2"/>
<text transform="translate(323.50,593.80) rotate(-45)" font-family="Liberation Serif" font-size="17.00" fill="#050505" stroke="#050505" stroke-width="0.25" text-anchor="end">mild</text>
<text transform="translate(365.80,590.80) rotate(-45)" font-family="Liberation Serif" font-size="17.00" fill="#050505" stroke="#050505" stroke-width="0.25" text-anchor="end">moderate</text>
<text transform="translate(405.50,590.30) rotate(-45)" font-family="Liberation Serif" font-size="17.00" fill="#050505" stroke="#050505" stroke-width="0.25" text-anchor="end">severe</text>
<line x1="524.40" y1="361.05" x2="524.40" y2="568.45" stroke="#000" stroke-width="1.90"/>
<line x1="516.70" y1="567.50" x2="651.00" y2="567.50" stroke="#000" stroke-width="1.90"/>
<line x1="516.10" y1="362.00" x2="524.40" y2="362.00" stroke="#000" stroke-width="1.90"/>
<line x1="516.10" y1="402.90" x2="524.40" y2="402.90" stroke="#000" stroke-width="1.90"/>
<line x1="516.10" y1="444.40" x2="524.40" y2="444.40" stroke="#000" stroke-width="1.90"/>
<line x1="516.10" y1="485.60" x2="524.40" y2="485.60" stroke="#000" stroke-width="1.90"/>
<line x1="516.10" y1="526.70" x2="524.40" y2="526.70" stroke="#000" stroke-width="1.90"/>
<line x1="516.10" y1="567.50" x2="524.40" y2="567.50" stroke="#000" stroke-width="1.90"/>
<line x1="550.30" y1="567.50" x2="550.30" y2="577.50" stroke="#000" stroke-width="1.90"/>
<line x1="588.90" y1="567.50" x2="588.90" y2="577.50" stroke="#000" stroke-width="1.90"/>
<line x1="627.60" y1="567.50" x2="627.60" y2="577.50" stroke="#000" stroke-width="1.90"/>
<text x="494.90" y="368.59" font-family="Liberation Serif" font-size="15.80" font-weight="bold" fill="#000" stroke="#000" stroke-width="0.40" textLength="19.30" lengthAdjust="spacingAndGlyphs">500</text>
<text x="494.90" y="409.49" font-family="Liberation Serif" font-size="15.80" font-weight="bold" fill="#000" stroke="#000" stroke-width="0.40" textLength="19.30" lengthAdjust="spacingAndGlyphs">400</text>
<text x="494.90" y="450.99" font-family="Liberation Serif" font-size="15.80" font-weight="bold" fill="#000" stroke="#000" stroke-width="0.40" textLength="19.30" lengthAdjust="spacingAndGlyphs">300</text>
<text x="494.90" y="492.19" font-family="Liberation Serif" font-size="15.80" font-weight="bold" fill="#000" stroke="#000" stroke-width="0.40" textLength="19.30" lengthAdjust="spacingAndGlyphs">200</text>
<text x="494.90" y="533.29" font-family="Liberation Serif" font-size="15.80" font-weight="bold" fill="#000" stroke="#000" stroke-width="0.40" textLength="19.30" lengthAdjust="spacingAndGlyphs">100</text>
<text x="507.60" y="574.09" font-family="Liberation Serif" font-size="15.80" font-weight="bold" fill="#000" stroke="#000" stroke-width="0.40" textLength="6.60" lengthAdjust="spacingAndGlyphs">0</text>
<text transform="translate(514.20,340.90) scale(1.000,1.000)" font-family="Liberation Serif" font-size="19.00" font-weight="normal" fill="#444" stroke="#444" stroke-width="0.00">F</text>
<text transform="translate(481.00,458.80) rotate(-90) scale(1,1.000)" font-family="Liberation Serif" font-size="16.00" font-weight="normal" fill="#0a0a0a" stroke="#0a0a0a" stroke-width="0.25" text-anchor="middle" textLength="92.60" lengthAdjust="spacingAndGlyphs">PLT(*10^9/L)</text>
<path d="M546.80,387.60 L546.80,378.30 L626.60,378.30 L626.60,387.60" fill="none" stroke="#000" stroke-width="3.00" stroke-linejoin="miter"/>
<text x="564.00" y="369.40" font-family="Liberation Serif" font-size="15.15" font-weight="normal" fill="#303030" stroke="#303030" stroke-width="0.35" textLength="6.03" lengthAdjust="spacingAndGlyphs">p</text>
<path d="M582.46,359.00 L573.66,363.85 L582.46,368.70" fill="none" stroke="#303030" stroke-width="1.20" stroke-linejoin="miter" stroke-miterlimit="10"/>
<text x="582.77" y="369.40" font-family="Liberation Serif" font-size="15.15" font-weight="normal" fill="#303030" stroke="#303030" stroke-width="0.30" textLength="6.17" lengthAdjust="spacingAndGlyphs">0</text>
<text x="589.35" y="369.40" font-family="Liberation Serif" font-size="15.15" font-weight="normal" fill="#303030" stroke="#303030" stroke-width="0.30" textLength="4.47" lengthAdjust="spacingAndGlyphs">.</text>
<text x="594.22" y="369.40" font-family="Liberation Serif" font-size="15.15" font-weight="normal" fill="#303030" stroke="#303030" stroke-width="0.30" textLength="6.17" lengthAdjust="spacingAndGlyphs">0</text>
<text x="603.02" y="369.40" font-family="Liberation Serif" font-size="15.15" font-weight="normal" fill="#303030" stroke="#303030" stroke-width="0.30" textLength="6.17" lengthAdjust="spacingAndGlyphs">5</text>
<path d="M552.30,409.40 L552.30,410.67 L552.31,411.94 L552.32,413.20 L552.33,414.47 L552.35,415.74 L552.37,417.01 L552.40,418.28 L552.43,419.55 L552.46,420.81 L552.49,422.08 L552.53,423.35 L552.57,424.62 L552.61,425.89 L552.67,427.15 L552.77,428.42 L552.89,429.69 L553.04,430.96 L553.19,432.23 L553.36,433.49 L553.53,434.76 L553.70,436.03 L553.85,437.30 L554.00,438.57 L554.14,439.84 L554.27,441.10 L554.41,442.37 L554.54,443.64 L554.68,444.91 L554.83,446.18 L554.99,447.44 L555.16,448.71 L555.35,449.98 L555.56,451.25 L555.79,452.52 L556.06,453.78 L556.36,455.05 L556.70,456.32 L557.07,457.59 L557.47,458.86 L557.89,460.13 L558.35,461.39 L558.90,462.66 L559.69,463.93 L560.58,465.20 L561.39,466.47 L561.95,467.73 L562.12,469.00 L562.17,470.27 L562.21,471.54 L562.25,472.81 L562.27,474.08 L562.29,475.34 L562.30,476.61 L562.30,477.88 L562.28,479.15 L562.25,480.42 L562.21,481.68 L562.16,482.95 L562.10,484.22 L562.04,485.49 L561.99,486.76 L561.94,488.02 L561.90,489.29 L561.87,490.56 L561.84,491.83 L561.82,493.10 L561.80,494.37 L561.78,495.63 L561.75,496.90 L561.72,498.17 L561.68,499.44 L561.63,500.71 L561.52,501.97 L561.14,503.24 L560.56,504.51 L559.85,505.78 L559.12,507.05 L558.44,508.32 L557.71,509.58 L556.85,510.85 L555.96,512.12 L555.12,513.39 L554.40,514.66 L553.89,515.92 L553.65,517.19 L553.50,518.46 L553.37,519.73 L553.25,521.00 L553.15,522.26 L553.07,523.53 L553.00,524.80 L552.95,526.07 L552.91,527.34 L552.90,528.61 L552.90,529.87 L552.90,531.14 L552.90,532.41 L552.90,533.68 L552.90,534.95 L552.90,536.21 L552.90,537.48 L552.91,538.75 L552.91,540.02 L552.91,541.29 L552.92,542.55 L552.92,543.82 L552.93,545.09 L552.94,546.36 L552.95,547.63 L552.96,548.90 L552.97,550.16 L552.98,551.43 L553.00,552.70 L547.60,552.70 L547.62,551.43 L547.63,550.16 L547.64,548.90 L547.65,547.63 L547.66,546.36 L547.67,545.09 L547.68,543.82 L547.68,542.55 L547.69,541.29 L547.69,540.02 L547.69,538.75 L547.70,537.48 L547.70,536.21 L547.70,534.95 L547.70,533.68 L547.70,532.41 L547.70,531.14 L547.70,529.87 L547.70,528.61 L547.69,527.34 L547.65,526.07 L547.60,524.80 L547.53,523.53 L547.45,522.26 L547.35,521.00 L547.23,519.73 L547.10,518.46 L546.95,517.19 L546.71,515.92 L546.20,514.66 L545.48,513.39 L544.64,512.12 L543.75,510.85 L542.89,509.58 L542.16,508.32 L541.48,507.05 L540.75,505.78 L540.04,504.51 L539.46,503.24 L539.08,501.97 L538.97,500.71 L538.92,499.44 L538.88,498.17 L538.85,496.90 L538.82,495.63 L538.80,494.37 L538.78,493.10 L538.76,491.83 L538.73,490.56 L538.70,489.29 L538.66,488.02 L538.61,486.76 L538.56,485.49 L538.50,484.22 L538.44,482.95 L538.39,481.68 L538.35,480.42 L538.32,479.15 L538.30,477.88 L538.30,476.61 L538.31,475.34 L538.33,474.08 L538.35,472.81 L538.39,471.54 L538.43,470.27 L538.48,469.00 L538.65,467.73 L539.21,466.47 L540.02,465.20 L540.91,463.93 L541.70,462.66 L542.25,461.39 L542.71,460.13 L543.13,458.86 L543.53,457.59 L543.90,456.32 L544.24,455.05 L544.54,453.78 L544.81,452.52 L545.04,451.25 L545.25,449.98 L545.44,448.71 L545.61,447.44 L545.77,446.18 L545.92,444.91 L546.06,443.64 L546.19,442.37 L546.33,441.10 L546.46,439.84 L546.60,438.57 L546.75,437.30 L546.90,436.03 L547.07,434.76 L547.24,433.49 L547.41,432.23 L547.56,430.96 L547.71,429.69 L547.83,428.42 L547.93,427.15 L547.99,425.89 L548.03,424.62 L548.07,423.35 L548.11,422.08 L548.14,420.81 L548.17,419.55 L548.20,418.28 L548.23,417.01 L548.25,415.74 L548.27,414.47 L548.28,413.20 L548.29,411.94 L548.30,410.67 L548.30,409.40 Z" fill="#000"/>
<path d="M550.30,411.45 L550.30,412.72 L550.30,413.99 L550.30,415.26 L550.30,416.53 L550.30,417.80 L550.30,419.07 L550.30,420.34 L550.30,421.62 L550.30,422.89 L550.30,424.16 L550.30,425.43 L550.30,426.70 L550.30,427.97 L550.30,429.24 L550.30,430.51 L550.30,431.78 L550.30,433.05 L550.30,434.32 L550.30,435.59 L550.30,436.86 L551.64,438.13 L551.75,439.40 L551.84,440.67 L551.93,441.95 L552.01,443.22 L552.10,444.49 L552.20,445.76 L552.29,447.03 L552.40,448.30 L552.51,449.57 L552.63,450.84 L552.77,452.11 L552.92,453.38 L553.09,454.65 L553.28,455.92 L553.49,457.19 L553.72,458.46 L553.96,459.73 L554.21,461.01 L554.63,462.28 L555.11,463.55 L555.75,464.82 L556.57,466.09 L557.45,467.36 L558.23,468.63 L558.36,469.90 L558.40,471.17 L558.44,472.44 L558.47,473.71 L558.49,474.98 L558.50,476.25 L558.50,477.52 L558.49,478.79 L558.46,480.06 L558.42,481.34 L558.37,482.61 L558.32,483.88 L558.26,485.15 L558.20,486.42 L558.15,487.69 L558.11,488.96 L558.08,490.23 L558.05,491.50 L558.03,492.77 L558.01,494.04 L557.98,495.31 L557.96,496.58 L557.93,497.85 L557.89,499.12 L557.84,500.39 L557.68,501.67 L557.10,502.94 L556.37,504.21 L555.64,505.48 L554.97,506.75 L554.19,508.02 L553.48,509.29 L552.95,510.56 L552.49,511.83 L552.11,513.10 L551.81,514.37 L551.58,515.64 L550.30,516.91 L550.30,518.18 L550.30,519.45 L550.30,520.73 L550.30,522.00 L550.30,523.27 L550.30,524.54 L550.30,525.81 L550.30,527.08 L550.30,528.35 L550.30,529.62 L550.30,530.89 L550.30,532.16 L550.30,533.43 L550.30,534.70 L550.30,535.97 L550.30,537.24 L550.30,538.51 L550.30,539.78 L550.30,541.06 L550.30,542.33 L550.30,543.60 L550.30,544.87 L550.30,546.14 L550.30,547.41 L550.30,548.68 L550.30,549.95 L550.30,549.95 L550.30,548.68 L550.30,547.41 L550.30,546.14 L550.30,544.87 L550.30,543.60 L550.30,542.33 L550.30,541.06 L550.30,539.78 L550.30,538.51 L550.30,537.24 L550.30,535.97 L550.30,534.70 L550.30,533.43 L550.30,532.16 L550.30,530.89 L550.30,529.62 L550.30,528.35 L550.30,527.08 L550.30,525.81 L550.30,524.54 L550.30,523.27 L550.30,522.00 L550.30,520.73 L550.30,519.45 L550.30,518.18 L550.30,516.91 L549.02,515.64 L548.79,514.37 L548.49,513.10 L548.11,511.83 L547.65,510.56 L547.12,509.29 L546.41,508.02 L545.63,506.75 L544.96,505.48 L544.23,504.21 L543.50,502.94 L542.92,501.67 L542.76,500.39 L542.71,499.12 L542.67,497.85 L542.64,496.58 L542.62,495.31 L542.59,494.04 L542.57,492.77 L542.55,491.50 L542.52,490.23 L542.49,488.96 L542.45,487.69 L542.40,486.42 L542.34,485.15 L542.28,483.88 L542.23,482.61 L542.18,481.34 L542.14,480.06 L542.11,478.79 L542.10,477.52 L542.10,476.25 L542.11,474.98 L542.13,473.71 L542.16,472.44 L542.20,471.17 L542.24,469.90 L542.37,468.63 L543.15,467.36 L544.03,466.09 L544.85,464.82 L545.49,463.55 L545.97,462.28 L546.39,461.01 L546.64,459.73 L546.88,458.46 L547.11,457.19 L547.32,455.92 L547.51,454.65 L547.68,453.38 L547.83,452.11 L547.97,450.84 L548.09,449.57 L548.20,448.30 L548.31,447.03 L548.40,445.76 L548.50,444.49 L548.59,443.22 L548.67,441.95 L548.76,440.67 L548.85,439.40 L548.96,438.13 L550.30,436.86 L550.30,435.59 L550.30,434.32 L550.30,433.05 L550.30,431.78 L550.30,430.51 L550.30,429.24 L550.30,427.97 L550.30,426.70 L550.30,425.43 L550.30,424.16 L550.30,422.89 L550.30,421.62 L550.30,420.34 L550.30,419.07 L550.30,417.80 L550.30,416.53 L550.30,415.26 L550.30,413.99 L550.30,412.72 L550.30,411.45 Z" fill="#eb87a9"/>
<line x1="542.48" y1="483.70" x2="558.12" y2="483.70" stroke="#000" stroke-width="1.6" stroke-dasharray="2.4 2.4"/>
<line x1="542.48" y1="469.50" x2="558.12" y2="469.50" stroke="rgba(0,0,0,0.45)" stroke-width="1" stroke-dasharray="1.2 2"/>
<line x1="542.91" y1="499.10" x2="557.69" y2="499.10" stroke="rgba(0,0,0,0.45)" stroke-width="1" stroke-dasharray="1.2 2"/>
<path d="M596.30,431.40 L596.39,432.67 L596.49,433.94 L596.57,435.21 L596.66,436.48 L596.74,437.75 L596.82,439.02 L596.89,440.30 L596.97,441.57 L597.05,442.84 L597.13,444.11 L597.21,445.38 L597.28,446.65 L597.34,447.92 L597.38,449.19 L597.40,450.46 L597.39,451.73 L597.33,453.00 L597.25,454.27 L597.15,455.54 L597.03,456.81 L596.91,458.09 L596.80,459.36 L596.71,460.63 L596.64,461.90 L596.60,463.17 L596.61,464.44 L596.65,465.71 L596.72,466.98 L596.83,468.25 L596.95,469.52 L597.10,470.79 L597.27,472.06 L597.44,473.33 L597.63,474.60 L597.82,475.88 L598.03,477.15 L598.34,478.42 L598.71,479.69 L599.14,480.96 L599.57,482.23 L599.99,483.50 L600.37,484.77 L600.68,486.04 L600.90,487.31 L601.11,488.58 L601.30,489.85 L601.47,491.12 L601.61,492.40 L601.68,493.67 L601.69,494.94 L601.56,496.21 L601.31,497.48 L600.97,498.75 L600.56,500.02 L600.12,501.29 L599.67,502.56 L599.06,503.83 L598.30,505.10 L597.47,506.37 L596.62,507.64 L595.83,508.91 L595.16,510.19 L594.48,511.46 L593.77,512.73 L593.11,514.00 L592.56,515.27 L592.20,516.54 L592.10,517.81 L592.10,519.08 L592.10,520.35 L592.10,521.62 L592.10,522.89 L592.10,524.16 L592.10,525.43 L592.10,526.70 L592.10,527.98 L592.10,529.25 L592.10,530.52 L592.10,531.79 L592.10,533.06 L592.10,534.33 L592.10,535.60 L586.30,535.60 L586.30,534.33 L586.30,533.06 L586.30,531.79 L586.30,530.52 L586.30,529.25 L586.30,527.98 L586.30,526.70 L586.30,525.43 L586.30,524.16 L586.30,522.89 L586.30,521.62 L586.30,520.35 L586.30,519.08 L586.30,517.81 L586.20,516.54 L585.84,515.27 L585.29,514.00 L584.63,512.73 L583.92,511.46 L583.24,510.19 L582.57,508.91 L581.78,507.64 L580.93,506.37 L580.10,505.10 L579.34,503.83 L578.73,502.56 L578.28,501.29 L577.84,500.02 L577.43,498.75 L577.09,497.48 L576.84,496.21 L576.71,494.94 L576.72,493.67 L576.79,492.40 L576.93,491.12 L577.10,489.85 L577.29,488.58 L577.50,487.31 L577.72,486.04 L578.03,484.77 L578.41,483.50 L578.83,482.23 L579.26,480.96 L579.69,479.69 L580.06,478.42 L580.37,477.15 L580.58,475.88 L580.77,474.60 L580.96,473.33 L581.13,472.06 L581.30,470.79 L581.45,469.52 L581.57,468.25 L581.68,466.98 L581.75,465.71 L581.79,464.44 L581.80,463.17 L581.76,461.90 L581.69,460.63 L581.60,459.36 L581.49,458.09 L581.37,456.81 L581.25,455.54 L581.15,454.27 L581.07,453.00 L581.01,451.73 L581.00,450.46 L581.02,449.19 L581.06,447.92 L581.12,446.65 L581.19,445.38 L581.27,444.11 L581.35,442.84 L581.43,441.57 L581.51,440.30 L581.58,439.02 L581.66,437.75 L581.74,436.48 L581.83,435.21 L581.91,433.94 L582.01,432.67 L582.10,431.40 Z" fill="#000"/>
<path d="M592.97,434.88 L593.03,436.15 L593.08,437.42 L593.13,438.69 L593.18,439.96 L593.23,441.23 L593.28,442.50 L593.34,443.77 L593.39,445.04 L593.46,446.31 L593.53,447.58 L593.57,448.85 L593.60,450.12 L593.59,451.39 L593.55,452.66 L593.47,453.93 L593.37,455.20 L593.30,456.47 L593.22,457.74 L593.15,459.01 L593.09,460.28 L593.04,461.55 L593.02,462.82 L593.01,464.09 L593.03,465.36 L593.07,466.63 L593.12,467.90 L593.20,469.17 L593.28,470.44 L593.39,471.71 L593.56,472.98 L593.74,474.24 L593.92,475.51 L594.12,476.78 L594.34,478.05 L594.65,479.32 L595.02,480.59 L595.43,481.86 L595.86,483.13 L596.29,484.40 L596.68,485.67 L596.98,486.94 L597.20,488.21 L597.40,489.48 L597.59,490.75 L597.75,492.02 L597.86,493.29 L597.90,494.56 L597.78,495.83 L597.49,497.10 L597.11,498.37 L596.67,499.64 L596.23,500.91 L595.63,502.18 L594.85,503.45 L594.00,504.72 L593.17,505.99 L592.53,507.26 L592.19,508.53 L591.80,509.80 L591.35,511.07 L590.95,512.34 L590.61,513.60 L589.20,514.87 L589.20,516.14 L589.20,517.41 L589.20,518.68 L589.20,519.95 L589.20,521.22 L589.20,522.49 L589.20,523.76 L589.20,525.03 L589.20,526.30 L589.20,527.57 L589.20,528.84 L589.20,530.11 L589.20,531.38 L589.20,532.65 L589.20,532.65 L589.20,531.38 L589.20,530.11 L589.20,528.84 L589.20,527.57 L589.20,526.30 L589.20,525.03 L589.20,523.76 L589.20,522.49 L589.20,521.22 L589.20,519.95 L589.20,518.68 L589.20,517.41 L589.20,516.14 L589.20,514.87 L587.79,513.60 L587.45,512.34 L587.05,511.07 L586.60,509.80 L586.21,508.53 L585.87,507.26 L585.23,505.99 L584.40,504.72 L583.55,503.45 L582.77,502.18 L582.17,500.91 L581.73,499.64 L581.29,498.37 L580.91,497.10 L580.62,495.83 L580.50,494.56 L580.54,493.29 L580.65,492.02 L580.81,490.75 L581.00,489.48 L581.20,488.21 L581.42,486.94 L581.72,485.67 L582.11,484.40 L582.54,483.13 L582.97,481.86 L583.38,480.59 L583.75,479.32 L584.06,478.05 L584.28,476.78 L584.48,475.51 L584.66,474.24 L584.84,472.98 L585.01,471.71 L585.12,470.44 L585.20,469.17 L585.28,467.90 L585.33,466.63 L585.37,465.36 L585.39,464.09 L585.38,462.82 L585.36,461.55 L585.31,460.28 L585.25,459.01 L585.18,457.74 L585.10,456.47 L585.03,455.20 L584.93,453.93 L584.85,452.66 L584.81,451.39 L584.80,450.12 L584.83,448.85 L584.87,447.58 L584.94,446.31 L585.01,445.04 L585.06,443.77 L585.12,442.50 L585.17,441.23 L585.22,439.96 L585.27,438.69 L585.32,437.42 L585.37,436.15 L585.43,434.88 Z" fill="#91c3f5"/>
<line x1="584.17" y1="478.40" x2="594.23" y2="478.40" stroke="#6a8fbe" stroke-width="1.6" stroke-dasharray="2.4 2.4"/>
<path d="M633.00,411.80 L632.94,413.07 L632.88,414.35 L632.80,415.62 L632.71,416.90 L632.59,418.17 L632.42,419.44 L632.26,420.72 L632.13,421.99 L632.10,423.27 L632.15,424.54 L632.25,425.81 L632.38,427.09 L632.53,428.36 L632.68,429.64 L632.89,430.91 L633.14,432.18 L633.40,433.46 L633.65,434.73 L633.88,436.01 L634.11,437.28 L634.33,438.55 L634.56,439.83 L634.78,441.10 L635.00,442.38 L635.23,443.65 L635.45,444.92 L635.68,446.20 L635.90,447.47 L636.13,448.75 L636.35,450.02 L636.57,451.29 L636.79,452.57 L637.01,453.84 L637.23,455.12 L637.45,456.39 L637.67,457.66 L637.88,458.94 L638.08,460.21 L638.27,461.48 L638.46,462.76 L638.65,464.03 L638.83,465.31 L639.00,466.58 L639.16,467.85 L639.31,469.13 L639.44,470.40 L639.57,471.68 L639.70,472.95 L639.83,474.22 L639.94,475.50 L640.04,476.77 L640.12,478.05 L640.18,479.32 L640.21,480.59 L640.24,481.87 L640.26,483.14 L640.28,484.42 L640.29,485.69 L640.30,486.96 L640.29,488.24 L640.22,489.51 L640.11,490.79 L639.96,492.06 L639.80,493.33 L639.64,494.61 L639.50,495.88 L639.35,497.16 L639.20,498.43 L639.03,499.70 L638.86,500.98 L638.68,502.25 L638.49,503.53 L638.30,504.80 L617.70,504.80 L617.51,503.53 L617.32,502.25 L617.14,500.98 L616.97,499.70 L616.80,498.43 L616.65,497.16 L616.50,495.88 L616.36,494.61 L616.20,493.33 L616.04,492.06 L615.89,490.79 L615.78,489.51 L615.71,488.24 L615.70,486.96 L615.71,485.69 L615.72,484.42 L615.74,483.14 L615.76,481.87 L615.79,480.59 L615.82,479.32 L615.88,478.05 L615.96,476.77 L616.06,475.50 L616.17,474.22 L616.30,472.95 L616.43,471.68 L616.56,470.40 L616.69,469.13 L616.84,467.85 L617.00,466.58 L617.17,465.31 L617.35,464.03 L617.54,462.76 L617.73,461.48 L617.92,460.21 L618.12,458.94 L618.33,457.66 L618.55,456.39 L618.77,455.12 L618.99,453.84 L619.21,452.57 L619.43,451.29 L619.65,450.02 L619.87,448.75 L620.10,447.47 L620.32,446.20 L620.55,444.92 L620.77,443.65 L621.00,442.38 L621.22,441.10 L621.44,439.83 L621.67,438.55 L621.89,437.28 L622.12,436.01 L622.35,434.73 L622.60,433.46 L622.86,432.18 L623.11,430.91 L623.32,429.64 L623.47,428.36 L623.62,427.09 L623.75,425.81 L623.85,424.54 L623.90,423.27 L623.87,421.99 L623.74,420.72 L623.58,419.44 L623.41,418.17 L623.29,416.90 L623.20,415.62 L623.12,414.35 L623.06,413.07 L623.00,411.80 Z" fill="#000"/>
<path d="M630.16,414.55 L630.10,415.82 L630.04,417.09 L629.95,418.36 L629.84,419.64 L629.74,420.91 L629.68,422.18 L629.67,423.45 L629.70,424.72 L629.76,425.99 L629.84,427.26 L629.94,428.53 L630.03,429.81 L630.15,431.08 L630.31,432.35 L630.47,433.62 L630.64,434.89 L630.79,436.16 L630.94,437.43 L631.08,438.71 L631.23,439.98 L631.37,441.25 L631.52,442.52 L631.66,443.79 L631.80,445.06 L631.95,446.33 L632.09,447.60 L632.29,448.88 L632.52,450.15 L632.74,451.42 L632.96,452.69 L633.18,453.96 L633.40,455.23 L633.62,456.50 L633.83,457.77 L634.05,459.05 L634.25,460.32 L634.45,461.59 L634.64,462.86 L634.82,464.13 L635.01,465.40 L635.18,466.67 L635.35,467.95 L635.50,469.22 L635.63,470.49 L635.76,471.76 L635.89,473.03 L636.02,474.30 L636.13,475.57 L636.24,476.84 L636.32,478.12 L636.38,479.39 L636.41,480.66 L636.44,481.93 L636.46,483.20 L636.48,484.47 L636.49,485.74 L636.50,487.02 L636.49,488.29 L636.41,489.56 L636.28,490.83 L636.13,492.10 L635.97,493.37 L635.82,494.64 L635.67,495.91 L635.52,497.19 L635.36,498.46 L635.20,499.73 L635.02,501.00 L620.98,501.00 L620.80,499.73 L620.64,498.46 L620.48,497.19 L620.33,495.91 L620.18,494.64 L620.03,493.37 L619.87,492.10 L619.72,490.83 L619.59,489.56 L619.51,488.29 L619.50,487.02 L619.51,485.74 L619.52,484.47 L619.54,483.20 L619.56,481.93 L619.59,480.66 L619.62,479.39 L619.68,478.12 L619.76,476.84 L619.87,475.57 L619.98,474.30 L620.11,473.03 L620.24,471.76 L620.37,470.49 L620.50,469.22 L620.65,467.95 L620.82,466.67 L620.99,465.40 L621.18,464.13 L621.36,462.86 L621.55,461.59 L621.75,460.32 L621.95,459.05 L622.17,457.77 L622.38,456.50 L622.60,455.23 L622.82,453.96 L623.04,452.69 L623.26,451.42 L623.48,450.15 L623.71,448.88 L623.91,447.60 L624.05,446.33 L624.20,445.06 L624.34,443.79 L624.48,442.52 L624.63,441.25 L624.77,439.98 L624.92,438.71 L625.06,437.43 L625.21,436.16 L625.36,434.89 L625.53,433.62 L625.69,432.35 L625.85,431.08 L625.97,429.81 L626.06,428.53 L626.16,427.26 L626.24,425.99 L626.30,424.72 L626.33,423.45 L626.32,422.18 L626.26,420.91 L626.16,419.64 L626.05,418.36 L625.96,417.09 L625.90,415.82 L625.84,414.55 Z" fill="#a4ae72"/>
<line x1="620.14" y1="474.80" x2="635.86" y2="474.80" stroke="#000" stroke-width="1.6" stroke-dasharray="2.4 2.4"/>
<line x1="620.03" y1="491.80" x2="635.97" y2="491.80" stroke="rgba(0,0,0,0.45)" stroke-width="1" stroke-dasharray="1.2 2"/>
<text transform="translate(551.80,593.50) rotate(-45)" font-family="Liberation Serif" font-size="17.00" fill="#050505" stroke="#050505" stroke-width="0.25" text-anchor="end">mild</text>
<text transform="translate(594.40,589.50) rotate(-45)" font-family="Liberation Serif" font-size="17.00" fill="#050505" stroke="#050505" stroke-width="0.25" text-anchor="end">moderate</text>
<text transform="translate(634.10,589.50) rotate(-45)" font-family="Liberation Serif" font-size="17.00" fill="#050505" stroke="#050505" stroke-width="0.25" text-anchor="end">severe</text>
<line x1="91.50" y1="646.80" x2="91.50" y2="865.80" stroke="#000" stroke-width="2.40"/>
<line x1="84.00" y1="864.60" x2="236.00" y2="864.60" stroke="#000" stroke-width="2.40"/>
<line x1="82.20" y1="648.00" x2="91.50" y2="648.00" stroke="#000" stroke-width="2.40"/>
<line x1="82.20" y1="702.80" x2="91.50" y2="702.80" stroke="#000" stroke-width="2.40"/>
<line x1="82.20" y1="756.50" x2="91.50" y2="756.50" stroke="#000" stroke-width="2.40"/>
<line x1="82.20" y1="810.50" x2="91.50" y2="810.50" stroke="#000" stroke-width="2.40"/>
<line x1="82.20" y1="864.60" x2="91.50" y2="864.60" stroke="#000" stroke-width="2.40"/>
<line x1="119.50" y1="864.60" x2="119.50" y2="874.60" stroke="#000" stroke-width="2.40"/>
<line x1="162.50" y1="864.60" x2="162.50" y2="874.60" stroke="#000" stroke-width="2.40"/>
<line x1="206.00" y1="864.60" x2="206.00" y2="874.60" stroke="#000" stroke-width="2.40"/>
<text x="80.20" y="654.01" font-family="Liberation Serif" font-size="14.20" font-weight="bold" fill="#000" stroke="#000" stroke-width="0.40" text-anchor="end">8</text>
<text x="80.20" y="708.81" font-family="Liberation Serif" font-size="14.20" font-weight="bold" fill="#000" stroke="#000" stroke-width="0.40" text-anchor="end">6</text>
<text x="80.20" y="762.51" font-family="Liberation Serif" font-size="14.20" font-weight="bold" fill="#000" stroke="#000" stroke-width="0.40" text-anchor="end">4</text>
<text x="80.20" y="816.51" font-family="Liberation Serif" font-size="14.20" font-weight="bold" fill="#000" stroke="#000" stroke-width="0.40" text-anchor="end">2</text>
<text x="80.20" y="870.61" font-family="Liberation Serif" font-size="14.20" font-weight="bold" fill="#000" stroke="#000" stroke-width="0.40" text-anchor="end">0</text>
<text transform="translate(55.50,640.80) scale(1.000,1.000)" font-family="Liberation Serif" font-size="19.50" font-weight="normal" fill="#555" stroke="#555" stroke-width="0.00">G</text>
<text transform="translate(50.20,754.50) rotate(-90) scale(1,1.100)" font-family="Liberation Serif" font-size="17.50" font-weight="normal" fill="#0a0a0a" stroke="#0a0a0a" stroke-width="0.25" text-anchor="middle" textLength="31.20" lengthAdjust="spacingAndGlyphs">NLR</text>
<path d="M116.40,684.00 L116.40,673.30 L206.00,673.30 L206.00,684.00" fill="none" stroke="#000" stroke-width="3.60" stroke-linejoin="miter"/>
<text x="135.70" y="664.20" font-family="Liberation Serif" font-size="15.15" font-weight="normal" fill="#1f2d3d" stroke="#1f2d3d" stroke-width="0.60" textLength="6.79" lengthAdjust="spacingAndGlyphs">p</text>
<path d="M155.87,653.80 L146.66,658.65 L155.87,663.50" fill="none" stroke="#1f2d3d" stroke-width="1.20" stroke-linejoin="miter" stroke-miterlimit="10"/>
<text x="157.43" y="664.20" font-family="Liberation Serif" font-size="15.15" font-weight="normal" fill="#1f2d3d" stroke="#1f2d3d" stroke-width="0.50" textLength="6.95" lengthAdjust="spacingAndGlyphs">0</text>
<text x="164.69" y="664.20" font-family="Liberation Serif" font-size="15.15" font-weight="normal" fill="#1f2d3d" stroke="#1f2d3d" stroke-width="0.50" textLength="5.03" lengthAdjust="spacingAndGlyphs">.</text>
<text x="170.03" y="664.20" font-family="Liberation Serif" font-size="15.15" font-weight="normal" fill="#1f2d3d" stroke="#1f2d3d" stroke-width="0.50" textLength="6.95" lengthAdjust="spacingAndGlyphs">0</text>
<text x="179.61" y="664.20" font-family="Liberation Serif" font-size="15.15" font-weight="normal" fill="#1f2d3d" stroke="#1f2d3d" stroke-width="0.50" textLength="6.95" lengthAdjust="spacingAndGlyphs">5</text>
<path d="M121.60,698.20 L121.59,699.46 L121.57,700.72 L121.56,701.98 L121.55,703.24 L121.54,704.50 L121.54,705.76 L121.53,707.02 L121.52,708.29 L121.52,709.55 L121.51,710.81 L121.51,712.07 L121.51,713.33 L121.50,714.59 L121.50,715.85 L121.50,717.11 L121.50,718.37 L121.50,719.63 L121.50,720.89 L121.50,722.15 L121.50,723.41 L121.50,724.67 L121.50,725.94 L121.51,727.20 L121.52,728.46 L121.53,729.72 L121.54,730.98 L121.55,732.24 L121.57,733.50 L121.59,734.76 L121.61,736.02 L121.63,737.28 L121.65,738.54 L121.68,739.80 L121.70,741.06 L121.73,742.32 L121.75,743.58 L121.78,744.85 L121.81,746.11 L121.84,747.37 L121.87,748.63 L121.90,749.89 L121.93,751.15 L121.96,752.41 L121.99,753.67 L122.03,754.93 L122.07,756.19 L122.11,757.45 L122.16,758.71 L122.21,759.97 L122.26,761.23 L122.32,762.49 L122.39,763.76 L122.47,765.02 L122.55,766.28 L122.65,767.54 L122.81,768.80 L123.03,770.06 L123.28,771.32 L123.54,772.58 L123.77,773.84 L123.96,775.10 L124.15,776.36 L124.34,777.62 L124.50,778.88 L124.59,780.14 L124.59,781.41 L124.51,782.67 L124.40,783.93 L124.32,785.19 L124.31,786.45 L124.37,787.71 L124.49,788.97 L124.66,790.23 L124.95,791.49 L125.49,792.75 L126.13,794.01 L126.72,795.27 L127.30,796.53 L127.90,797.79 L128.47,799.05 L128.97,800.32 L129.39,801.58 L129.77,802.84 L130.12,804.10 L130.44,805.36 L130.75,806.62 L131.06,807.88 L131.35,809.14 L131.61,810.40 L131.83,811.66 L131.99,812.92 L132.12,814.18 L132.24,815.44 L132.34,816.70 L132.43,817.96 L132.52,819.23 L132.61,820.49 L132.70,821.75 L132.81,823.01 L132.93,824.27 L133.09,825.53 L133.27,826.79 L133.46,828.05 L133.63,829.31 L133.75,830.57 L133.80,831.83 L133.76,833.09 L133.63,834.35 L133.45,835.61 L133.22,836.88 L132.88,838.14 L132.32,839.40 L131.61,840.66 L130.71,841.92 L129.47,843.18 L128.12,844.44 L126.60,845.70 L112.60,845.70 L111.08,844.44 L109.73,843.18 L108.49,841.92 L107.59,840.66 L106.88,839.40 L106.32,838.14 L105.98,836.88 L105.75,835.61 L105.57,834.35 L105.44,833.09 L105.40,831.83 L105.45,830.57 L105.57,829.31 L105.74,828.05 L105.93,826.79 L106.11,825.53 L106.27,824.27 L106.39,823.01 L106.50,821.75 L106.59,820.49 L106.68,819.23 L106.77,817.96 L106.86,816.70 L106.96,815.44 L107.08,814.18 L107.21,812.92 L107.37,811.66 L107.59,810.40 L107.85,809.14 L108.14,807.88 L108.45,806.62 L108.76,805.36 L109.08,804.10 L109.43,802.84 L109.81,801.58 L110.23,800.32 L110.73,799.05 L111.30,797.79 L111.90,796.53 L112.48,795.27 L113.07,794.01 L113.71,792.75 L114.25,791.49 L114.54,790.23 L114.71,788.97 L114.83,787.71 L114.89,786.45 L114.88,785.19 L114.80,783.93 L114.69,782.67 L114.61,781.41 L114.61,780.14 L114.70,778.88 L114.86,777.62 L115.05,776.36 L115.24,775.10 L115.43,773.84 L115.66,772.58 L115.92,771.32 L116.17,770.06 L116.39,768.80 L116.55,767.54 L116.65,766.28 L116.73,765.02 L116.81,763.76 L116.88,762.49 L116.94,761.23 L116.99,759.97 L117.04,758.71 L117.09,757.45 L117.13,756.19 L117.17,754.93 L117.21,753.67 L117.24,752.41 L117.27,751.15 L117.30,749.89 L117.33,748.63 L117.36,747.37 L117.39,746.11 L117.42,744.85 L117.45,743.58 L117.47,742.32 L117.50,741.06 L117.52,739.80 L117.55,738.54 L117.57,737.28 L117.59,736.02 L117.61,734.76 L117.63,733.50 L117.65,732.24 L117.66,730.98 L117.67,729.72 L117.68,728.46 L117.69,727.20 L117.70,725.94 L117.70,724.67 L117.70,723.41 L117.70,722.15 L117.70,720.89 L117.70,719.63 L117.70,718.37 L117.70,717.11 L117.70,715.85 L117.70,714.59 L117.69,713.33 L117.69,712.07 L117.69,710.81 L117.68,709.55 L117.68,708.29 L117.67,707.02 L117.66,705.76 L117.66,704.50 L117.65,703.24 L117.64,701.98 L117.63,700.72 L117.61,699.46 L117.60,698.20 Z" fill="#000"/>
<path d="M119.60,700.25 L119.60,701.52 L119.60,702.79 L119.60,704.05 L119.60,705.32 L119.60,706.59 L119.60,707.86 L119.60,709.12 L119.60,710.39 L119.60,711.66 L119.60,712.93 L119.60,714.20 L119.60,715.46 L119.60,716.73 L119.60,718.00 L119.60,719.27 L119.60,720.54 L119.60,721.80 L119.60,723.07 L119.60,724.34 L119.60,725.61 L119.60,726.88 L119.60,728.14 L119.60,729.41 L119.60,730.68 L119.60,731.95 L119.60,733.21 L119.60,734.48 L119.60,735.75 L119.60,737.02 L119.60,738.29 L119.60,739.55 L119.60,740.82 L119.60,742.09 L119.60,743.36 L119.60,744.62 L119.60,745.89 L119.60,747.16 L119.60,748.43 L119.60,749.70 L119.60,750.96 L119.60,752.23 L119.60,753.50 L119.60,754.77 L119.60,756.04 L119.60,757.30 L119.60,758.57 L119.60,759.84 L119.60,761.11 L119.60,762.38 L119.60,763.64 L119.60,764.91 L119.60,766.18 L119.60,767.45 L119.60,768.71 L119.60,769.98 L120.92,771.25 L121.11,772.52 L121.27,773.79 L121.40,775.05 L121.52,776.32 L121.65,777.59 L121.77,778.86 L121.84,780.12 L121.84,781.39 L121.78,782.66 L121.71,783.93 L121.67,785.20 L121.66,786.46 L121.69,787.73 L121.77,789.00 L121.87,790.27 L121.97,791.54 L122.16,792.80 L122.47,794.07 L122.88,795.34 L123.26,796.61 L123.73,797.88 L124.34,799.14 L124.92,800.41 L125.42,801.68 L125.84,802.95 L126.21,804.21 L126.55,805.48 L126.87,806.75 L127.18,808.02 L127.49,809.29 L127.77,810.55 L128.00,811.82 L128.18,813.09 L128.32,814.36 L128.44,815.62 L128.54,816.89 L128.64,818.16 L128.73,819.43 L128.82,820.70 L128.91,821.96 L129.01,823.23 L129.13,824.50 L129.29,825.77 L129.47,827.04 L129.66,828.30 L129.84,829.57 L129.96,830.84 L130.00,832.11 L129.92,833.38 L129.76,834.64 L129.54,835.91 L129.17,837.18 L128.50,838.45 L127.57,839.71 L126.26,840.98 L124.83,842.25 L114.37,842.25 L112.94,840.98 L111.63,839.71 L110.70,838.45 L110.03,837.18 L109.66,835.91 L109.44,834.64 L109.28,833.38 L109.20,832.11 L109.24,830.84 L109.36,829.57 L109.54,828.30 L109.73,827.04 L109.91,825.77 L110.07,824.50 L110.19,823.23 L110.29,821.96 L110.38,820.70 L110.47,819.43 L110.56,818.16 L110.66,816.89 L110.76,815.62 L110.88,814.36 L111.02,813.09 L111.20,811.82 L111.43,810.55 L111.71,809.29 L112.02,808.02 L112.33,806.75 L112.65,805.48 L112.99,804.21 L113.36,802.95 L113.78,801.68 L114.28,800.41 L114.86,799.14 L115.47,797.88 L115.94,796.61 L116.32,795.34 L116.73,794.07 L117.04,792.80 L117.23,791.54 L117.33,790.27 L117.43,789.00 L117.51,787.73 L117.54,786.46 L117.53,785.20 L117.49,783.93 L117.42,782.66 L117.36,781.39 L117.36,780.12 L117.43,778.86 L117.55,777.59 L117.68,776.32 L117.80,775.05 L117.93,773.79 L118.09,772.52 L118.28,771.25 L119.60,769.98 L119.60,768.71 L119.60,767.45 L119.60,766.18 L119.60,764.91 L119.60,763.64 L119.60,762.38 L119.60,761.11 L119.60,759.84 L119.60,758.57 L119.60,757.30 L119.60,756.04 L119.60,754.77 L119.60,753.50 L119.60,752.23 L119.60,750.96 L119.60,749.70 L119.60,748.43 L119.60,747.16 L119.60,745.89 L119.60,744.62 L119.60,743.36 L119.60,742.09 L119.60,740.82 L119.60,739.55 L119.60,738.29 L119.60,737.02 L119.60,735.75 L119.60,734.48 L119.60,733.21 L119.60,731.95 L119.60,730.68 L119.60,729.41 L119.60,728.14 L119.60,726.88 L119.60,725.61 L119.60,724.34 L119.60,723.07 L119.60,721.80 L119.60,720.54 L119.60,719.27 L119.60,718.00 L119.60,716.73 L119.60,715.46 L119.60,714.20 L119.60,712.93 L119.60,711.66 L119.60,710.39 L119.60,709.12 L119.60,707.86 L119.60,706.59 L119.60,705.32 L119.60,704.05 L119.60,702.79 L119.60,701.52 L119.60,700.25 Z" fill="#eb87a9"/>
<line x1="110.85" y1="817.00" x2="128.35" y2="817.00" stroke="#000" stroke-width="1.6" stroke-dasharray="2.4 2.4"/>
<line x1="114.05" y1="801.50" x2="125.15" y2="801.50" stroke="rgba(0,0,0,0.45)" stroke-width="1" stroke-dasharray="1.2 2"/>
<line x1="109.42" y1="831.60" x2="129.78" y2="831.60" stroke="rgba(0,0,0,0.45)" stroke-width="1" stroke-dasharray="1.2 2"/>
<path d="M167.20,721.80 L167.21,723.07 L167.22,724.33 L167.25,725.60 L167.27,726.86 L167.30,728.13 L167.34,729.39 L167.40,730.66 L167.46,731.93 L167.53,733.19 L167.61,734.46 L167.69,735.72 L167.77,736.99 L167.84,738.25 L167.91,739.52 L167.98,740.78 L168.04,742.05 L168.11,743.32 L168.17,744.58 L168.24,745.85 L168.30,747.11 L168.36,748.38 L168.43,749.64 L168.49,750.91 L168.56,752.18 L168.62,753.44 L168.68,754.71 L168.75,755.97 L168.81,757.24 L168.87,758.50 L168.94,759.77 L169.00,761.04 L169.05,762.30 L169.11,763.57 L169.16,764.83 L169.21,766.10 L169.26,767.36 L169.31,768.63 L169.37,769.89 L169.43,771.16 L169.49,772.43 L169.56,773.69 L169.63,774.96 L169.71,776.22 L169.81,777.49 L169.90,778.75 L170.03,780.02 L170.20,781.29 L170.40,782.55 L170.61,783.82 L170.84,785.08 L171.06,786.35 L171.33,787.61 L171.63,788.88 L171.93,790.15 L172.20,791.41 L172.43,792.68 L172.62,793.94 L172.80,795.21 L172.97,796.47 L173.14,797.74 L173.29,799.01 L173.43,800.27 L173.56,801.54 L173.67,802.80 L173.78,804.07 L173.88,805.33 L173.96,806.60 L174.03,807.86 L174.10,809.13 L174.16,810.40 L174.22,811.66 L174.28,812.93 L174.35,814.19 L174.42,815.46 L174.50,816.72 L174.59,817.99 L174.72,819.26 L174.89,820.52 L175.09,821.79 L175.30,823.05 L175.49,824.32 L175.66,825.58 L175.76,826.85 L175.80,828.12 L175.76,829.38 L175.68,830.65 L175.54,831.91 L175.36,833.18 L175.15,834.44 L174.92,835.71 L174.67,836.97 L174.40,838.24 L174.00,839.51 L173.49,840.77 L172.93,842.04 L172.37,843.30 L171.78,844.57 L171.16,845.83 L170.50,847.10 L155.50,847.10 L154.84,845.83 L154.22,844.57 L153.63,843.30 L153.07,842.04 L152.51,840.77 L152.00,839.51 L151.60,838.24 L151.33,836.97 L151.08,835.71 L150.85,834.44 L150.64,833.18 L150.46,831.91 L150.32,830.65 L150.24,829.38 L150.20,828.12 L150.24,826.85 L150.34,825.58 L150.51,824.32 L150.70,823.05 L150.91,821.79 L151.11,820.52 L151.28,819.26 L151.41,817.99 L151.50,816.72 L151.58,815.46 L151.65,814.19 L151.72,812.93 L151.78,811.66 L151.84,810.40 L151.90,809.13 L151.97,807.86 L152.04,806.60 L152.12,805.33 L152.22,804.07 L152.33,802.80 L152.44,801.54 L152.57,800.27 L152.71,799.01 L152.86,797.74 L153.03,796.47 L153.20,795.21 L153.38,793.94 L153.57,792.68 L153.80,791.41 L154.07,790.15 L154.37,788.88 L154.67,787.61 L154.94,786.35 L155.16,785.08 L155.39,783.82 L155.60,782.55 L155.80,781.29 L155.97,780.02 L156.10,778.75 L156.19,777.49 L156.29,776.22 L156.37,774.96 L156.44,773.69 L156.51,772.43 L156.57,771.16 L156.63,769.89 L156.69,768.63 L156.74,767.36 L156.79,766.10 L156.84,764.83 L156.89,763.57 L156.95,762.30 L157.00,761.04 L157.06,759.77 L157.13,758.50 L157.19,757.24 L157.25,755.97 L157.32,754.71 L157.38,753.44 L157.44,752.18 L157.51,750.91 L157.57,749.64 L157.64,748.38 L157.70,747.11 L157.76,745.85 L157.83,744.58 L157.89,743.32 L157.96,742.05 L158.02,740.78 L158.09,739.52 L158.16,738.25 L158.23,736.99 L158.31,735.72 L158.39,734.46 L158.47,733.19 L158.54,731.93 L158.60,730.66 L158.66,729.39 L158.70,728.13 L158.73,726.86 L158.75,725.60 L158.78,724.33 L158.79,723.07 L158.80,721.80 Z" fill="#000"/>
<path d="M164.75,724.27 L164.76,725.54 L164.78,726.81 L164.80,728.07 L164.82,729.34 L164.85,730.61 L164.89,731.88 L164.94,733.15 L164.99,734.42 L165.04,735.68 L165.09,736.95 L165.14,738.22 L165.19,739.49 L165.23,740.76 L165.27,742.02 L165.32,743.29 L165.36,744.56 L165.40,745.83 L165.44,747.10 L165.48,748.36 L165.53,749.63 L165.57,750.90 L165.61,752.17 L165.65,753.44 L165.69,754.71 L165.73,755.97 L165.77,757.24 L165.82,758.51 L165.86,759.78 L165.90,761.05 L165.93,762.31 L165.97,763.58 L166.00,764.85 L166.04,766.12 L166.07,767.39 L166.10,768.65 L166.14,769.92 L166.18,771.19 L166.22,772.46 L166.26,773.73 L166.31,775.00 L166.36,776.26 L166.42,777.53 L166.48,778.80 L166.55,780.07 L166.65,781.34 L166.77,782.60 L166.90,783.87 L167.04,785.14 L167.21,786.41 L167.46,787.68 L167.74,788.95 L168.04,790.21 L168.34,791.48 L168.59,792.75 L168.79,794.02 L168.98,795.29 L169.15,796.55 L169.32,797.82 L169.47,799.09 L169.62,800.36 L169.75,801.63 L169.87,802.89 L169.98,804.16 L170.07,805.43 L170.16,806.70 L170.23,807.97 L170.30,809.24 L170.36,810.50 L170.42,811.77 L170.48,813.04 L170.55,814.31 L170.62,815.58 L170.70,816.84 L170.79,818.11 L170.91,819.38 L171.07,820.65 L171.26,821.92 L171.47,823.18 L171.67,824.45 L171.85,825.72 L171.97,826.99 L172.00,828.26 L171.95,829.53 L171.84,830.79 L171.69,832.06 L171.49,833.33 L171.26,834.60 L171.02,835.87 L170.76,837.13 L170.35,838.40 L169.82,839.67 L169.26,840.94 L168.69,842.21 L168.09,843.48 L157.91,843.48 L157.31,842.21 L156.74,840.94 L156.18,839.67 L155.65,838.40 L155.24,837.13 L154.98,835.87 L154.74,834.60 L154.51,833.33 L154.31,832.06 L154.16,830.79 L154.05,829.53 L154.00,828.26 L154.03,826.99 L154.15,825.72 L154.33,824.45 L154.53,823.18 L154.74,821.92 L154.93,820.65 L155.09,819.38 L155.21,818.11 L155.30,816.84 L155.38,815.58 L155.45,814.31 L155.52,813.04 L155.58,811.77 L155.64,810.50 L155.70,809.24 L155.77,807.97 L155.84,806.70 L155.93,805.43 L156.02,804.16 L156.13,802.89 L156.25,801.63 L156.38,800.36 L156.53,799.09 L156.68,797.82 L156.85,796.55 L157.02,795.29 L157.21,794.02 L157.41,792.75 L157.66,791.48 L157.96,790.21 L158.26,788.95 L158.54,787.68 L158.79,786.41 L158.96,785.14 L159.10,783.87 L159.23,782.60 L159.35,781.34 L159.45,780.07 L159.52,778.80 L159.58,777.53 L159.64,776.26 L159.69,775.00 L159.74,773.73 L159.78,772.46 L159.82,771.19 L159.86,769.92 L159.90,768.65 L159.93,767.39 L159.96,766.12 L160.00,764.85 L160.03,763.58 L160.07,762.31 L160.10,761.05 L160.14,759.78 L160.18,758.51 L160.23,757.24 L160.27,755.97 L160.31,754.71 L160.35,753.44 L160.39,752.17 L160.43,750.90 L160.47,749.63 L160.52,748.36 L160.56,747.10 L160.60,745.83 L160.64,744.56 L160.68,743.29 L160.73,742.02 L160.77,740.76 L160.81,739.49 L160.86,738.22 L160.91,736.95 L160.96,735.68 L161.01,734.42 L161.06,733.15 L161.11,731.88 L161.15,730.61 L161.18,729.34 L161.20,728.07 L161.22,726.81 L161.24,725.54 L161.25,724.27 Z" fill="#91c3f5"/>
<line x1="156.25" y1="803.90" x2="169.75" y2="803.90" stroke="#5a7fae" stroke-width="1.6" stroke-dasharray="2.4 2.4"/>
<line x1="154.23" y1="829.00" x2="171.77" y2="829.00" stroke="rgba(0,0,0,0.45)" stroke-width="1" stroke-dasharray="1.2 2"/>
<path d="M211.50,728.30 L211.46,729.57 L211.41,730.84 L211.37,732.11 L211.32,733.38 L211.27,734.65 L211.22,735.91 L211.16,737.18 L211.11,738.45 L211.10,739.72 L211.18,740.99 L211.34,742.26 L211.56,743.53 L211.81,744.80 L212.06,746.07 L212.28,747.34 L212.43,748.61 L212.50,749.87 L212.44,751.14 L212.25,752.41 L211.98,753.68 L211.65,754.95 L211.31,756.22 L210.99,757.49 L210.74,758.76 L210.54,760.03 L210.33,761.30 L210.12,762.56 L209.92,763.83 L209.75,765.10 L209.62,766.37 L209.53,767.64 L209.50,768.91 L209.70,770.18 L210.20,771.45 L210.91,772.72 L211.76,773.99 L212.67,775.26 L213.58,776.52 L214.40,777.79 L215.08,779.06 L215.75,780.33 L216.45,781.60 L217.14,782.87 L217.80,784.14 L218.38,785.41 L218.86,786.68 L219.20,787.95 L219.40,789.22 L219.57,790.48 L219.72,791.75 L219.85,793.02 L219.94,794.29 L219.99,795.56 L220.00,796.83 L219.94,798.10 L219.82,799.37 L219.66,800.64 L219.45,801.91 L219.23,803.18 L218.99,804.44 L218.74,805.71 L218.51,806.98 L218.29,808.25 L218.09,809.52 L217.88,810.79 L217.67,812.06 L217.46,813.33 L217.24,814.60 L217.02,815.87 L216.79,817.14 L216.55,818.40 L216.31,819.67 L216.05,820.94 L215.79,822.21 L215.52,823.48 L215.22,824.75 L214.88,826.02 L214.50,827.29 L214.09,828.56 L213.67,829.83 L213.25,831.09 L212.84,832.36 L212.45,833.63 L212.10,834.90 L211.80,836.17 L211.56,837.44 L211.37,838.71 L211.18,839.98 L211.01,841.25 L210.85,842.52 L210.71,843.79 L210.60,845.05 L210.53,846.32 L210.50,847.59 L210.50,848.86 L210.50,850.13 L210.50,851.40 L202.50,851.40 L202.50,850.13 L202.50,848.86 L202.50,847.59 L202.47,846.32 L202.40,845.05 L202.29,843.79 L202.15,842.52 L201.99,841.25 L201.82,839.98 L201.63,838.71 L201.44,837.44 L201.20,836.17 L200.90,834.90 L200.55,833.63 L200.16,832.36 L199.75,831.09 L199.33,829.83 L198.91,828.56 L198.50,827.29 L198.12,826.02 L197.78,824.75 L197.48,823.48 L197.21,822.21 L196.95,820.94 L196.69,819.67 L196.45,818.40 L196.21,817.14 L195.98,815.87 L195.76,814.60 L195.54,813.33 L195.33,812.06 L195.12,810.79 L194.91,809.52 L194.71,808.25 L194.49,806.98 L194.26,805.71 L194.01,804.44 L193.77,803.18 L193.55,801.91 L193.34,800.64 L193.18,799.37 L193.06,798.10 L193.00,796.83 L193.01,795.56 L193.06,794.29 L193.15,793.02 L193.28,791.75 L193.43,790.48 L193.60,789.22 L193.80,787.95 L194.14,786.68 L194.62,785.41 L195.20,784.14 L195.86,782.87 L196.55,781.60 L197.25,780.33 L197.92,779.06 L198.60,777.79 L199.42,776.52 L200.33,775.26 L201.24,773.99 L202.09,772.72 L202.80,771.45 L203.30,770.18 L203.50,768.91 L203.47,767.64 L203.38,766.37 L203.25,765.10 L203.08,763.83 L202.88,762.56 L202.67,761.30 L202.46,760.03 L202.26,758.76 L202.01,757.49 L201.69,756.22 L201.35,754.95 L201.02,753.68 L200.75,752.41 L200.56,751.14 L200.50,749.87 L200.57,748.61 L200.72,747.34 L200.94,746.07 L201.19,744.80 L201.44,743.53 L201.66,742.26 L201.82,740.99 L201.90,739.72 L201.89,738.45 L201.84,737.18 L201.78,735.91 L201.73,734.65 L201.68,733.38 L201.63,732.11 L201.59,730.84 L201.54,729.57 L201.50,728.30 Z" fill="#000"/>
<path d="M208.69,731.05 L208.66,732.32 L208.63,733.59 L208.60,734.85 L208.56,736.12 L208.52,737.39 L208.50,738.66 L208.49,739.93 L208.54,741.20 L208.64,742.46 L208.77,743.73 L208.92,745.00 L209.09,746.27 L209.24,747.54 L209.36,748.81 L209.40,750.07 L209.32,751.34 L209.15,752.61 L208.94,753.88 L208.72,755.15 L208.51,756.42 L208.34,757.68 L208.21,758.95 L208.07,760.22 L207.94,761.49 L206.50,762.76 L206.50,764.03 L206.50,765.29 L206.50,766.56 L206.50,767.83 L206.50,769.10 L206.50,770.37 L207.74,771.63 L208.04,772.90 L208.41,774.17 L208.86,775.44 L209.37,776.71 L209.95,777.98 L210.83,779.24 L211.56,780.51 L212.22,781.78 L212.91,783.05 L213.61,784.32 L214.28,785.59 L214.87,786.85 L215.33,788.12 L215.59,789.39 L215.76,790.66 L215.92,791.93 L216.05,793.20 L216.14,794.46 L216.19,795.73 L216.19,797.00 L216.11,798.27 L215.97,799.54 L215.79,800.81 L215.57,802.07 L215.33,803.34 L215.09,804.61 L214.85,805.88 L214.62,807.15 L214.42,808.42 L214.21,809.68 L214.00,810.95 L213.79,812.22 L213.58,813.49 L213.35,814.76 L213.13,816.02 L212.89,817.29 L212.65,818.56 L212.40,819.83 L212.14,821.10 L211.87,822.37 L211.58,823.63 L211.25,824.90 L210.87,826.17 L210.48,827.44 L210.21,828.71 L209.94,829.98 L209.69,831.24 L209.44,832.51 L209.22,833.78 L209.03,835.05 L208.87,836.32 L208.74,837.59 L208.62,838.85 L208.51,840.12 L208.40,841.39 L208.30,842.66 L208.22,843.93 L208.15,845.20 L208.12,846.46 L208.10,847.73 L208.10,849.00 L204.90,849.00 L204.90,847.73 L204.88,846.46 L204.85,845.20 L204.78,843.93 L204.70,842.66 L204.60,841.39 L204.49,840.12 L204.38,838.85 L204.26,837.59 L204.13,836.32 L203.97,835.05 L203.78,833.78 L203.56,832.51 L203.31,831.24 L203.06,829.98 L202.79,828.71 L202.52,827.44 L202.13,826.17 L201.75,824.90 L201.42,823.63 L201.13,822.37 L200.86,821.10 L200.60,819.83 L200.35,818.56 L200.11,817.29 L199.87,816.02 L199.65,814.76 L199.42,813.49 L199.21,812.22 L199.00,810.95 L198.79,809.68 L198.58,808.42 L198.38,807.15 L198.15,805.88 L197.91,804.61 L197.67,803.34 L197.43,802.07 L197.21,800.81 L197.03,799.54 L196.89,798.27 L196.81,797.00 L196.81,795.73 L196.86,794.46 L196.95,793.20 L197.08,791.93 L197.24,790.66 L197.41,789.39 L197.67,788.12 L198.13,786.85 L198.72,785.59 L199.39,784.32 L200.09,783.05 L200.78,781.78 L201.44,780.51 L202.17,779.24 L203.05,777.98 L203.63,776.71 L204.14,775.44 L204.59,774.17 L204.96,772.90 L205.26,771.63 L206.50,770.37 L206.50,769.10 L206.50,767.83 L206.50,766.56 L206.50,765.29 L206.50,764.03 L206.50,762.76 L205.06,761.49 L204.93,760.22 L204.79,758.95 L204.66,757.68 L204.49,756.42 L204.28,755.15 L204.06,753.88 L203.85,752.61 L203.68,751.34 L203.60,750.07 L203.64,748.81 L203.76,747.54 L203.91,746.27 L204.08,745.00 L204.23,743.73 L204.36,742.46 L204.46,741.20 L204.51,739.93 L204.50,738.66 L204.48,737.39 L204.44,736.12 L204.40,734.85 L204.37,733.59 L204.34,732.32 L204.31,731.05 Z" fill="#a4ae72"/>
<line x1="197.03" y1="797.30" x2="215.97" y2="797.30" stroke="#000" stroke-width="1.6" stroke-dasharray="2.4 2.4"/>
<line x1="200.37" y1="817.60" x2="212.63" y2="817.60" stroke="rgba(0,0,0,0.45)" stroke-width="1" stroke-dasharray="1.2 2"/>
<text transform="translate(128.50,887.60) rotate(-45)" font-family="Liberation Serif" font-size="17.00" fill="#050505" stroke="#050505" stroke-width="0.25" text-anchor="end">mild</text>
<text transform="translate(168.50,884.60) rotate(-45)" font-family="Liberation Serif" font-size="17.00" fill="#050505" stroke="#050505" stroke-width="0.25" text-anchor="end">moderate</text>
<text transform="translate(211.00,884.10) rotate(-45)" font-family="Liberation Serif" font-size="17.00" fill="#050505" stroke="#050505" stroke-width="0.25" text-anchor="end">severe</text>
<line x1="313.90" y1="690.00" x2="313.90" y2="860.70" stroke="#000" stroke-width="2.00"/>
<line x1="306.00" y1="859.70" x2="440.20" y2="859.70" stroke="#000" stroke-width="2.00"/>
<line x1="306.40" y1="691.00" x2="313.90" y2="691.00" stroke="#000" stroke-width="2.00"/>
<line x1="306.40" y1="747.20" x2="313.90" y2="747.20" stroke="#000" stroke-width="2.00"/>
<line x1="306.40" y1="803.50" x2="313.90" y2="803.50" stroke="#000" stroke-width="2.00"/>
<line x1="306.40" y1="859.70" x2="313.90" y2="859.70" stroke="#000" stroke-width="2.00"/>
<line x1="338.50" y1="859.70" x2="338.50" y2="867.70" stroke="#000" stroke-width="2.00"/>
<line x1="375.90" y1="859.70" x2="375.90" y2="867.70" stroke="#000" stroke-width="2.00"/>
<line x1="413.90" y1="859.70" x2="413.90" y2="867.70" stroke="#000" stroke-width="2.00"/>
<text x="284.50" y="696.40" font-family="Liberation Serif" font-size="12.50" font-weight="bold" fill="#000" stroke="#000" stroke-width="0.40" textLength="18.80" lengthAdjust="spacingAndGlyphs">300</text>
<text x="284.50" y="752.60" font-family="Liberation Serif" font-size="12.50" font-weight="bold" fill="#000" stroke="#000" stroke-width="0.40" textLength="18.80" lengthAdjust="spacingAndGlyphs">200</text>
<text x="284.50" y="808.90" font-family="Liberation Serif" font-size="12.50" font-weight="bold" fill="#000" stroke="#000" stroke-width="0.40" textLength="18.80" lengthAdjust="spacingAndGlyphs">100</text>
<text x="297.00" y="865.10" font-family="Liberation Serif" font-size="12.50" font-weight="bold" fill="#000" stroke="#000" stroke-width="0.40" textLength="6.30" lengthAdjust="spacingAndGlyphs">0</text>
<text transform="translate(311.60,656.60) scale(1.000,1.000)" font-family="Liberation Serif" font-size="19.00" font-weight="normal" fill="#555" stroke="#555" stroke-width="0.00">H</text>
<text transform="translate(271.00,756.90) rotate(-90) scale(1,1.000)" font-family="Liberation Serif" font-size="16.50" font-weight="normal" fill="#0a0a0a" stroke="#0a0a0a" stroke-width="0.25" text-anchor="middle" textLength="29.50" lengthAdjust="spacingAndGlyphs">PLR</text>
<path d="M338.00,666.80 L338.00,659.50 L412.20,659.50 L412.20,666.80" fill="none" stroke="#000" stroke-width="3.00" stroke-linejoin="miter"/>
<text x="353.10" y="651.60" font-family="Liberation Serif" font-size="11.97" font-weight="normal" fill="#303030" stroke="#303030" stroke-width="0.35" textLength="5.97" lengthAdjust="spacingAndGlyphs">p</text>
<path d="M371.09,643.30 L363.19,647.10 L371.09,650.90" fill="none" stroke="#303030" stroke-width="1.20" stroke-linejoin="miter" stroke-miterlimit="10"/>
<text x="371.88" y="651.60" font-family="Liberation Serif" font-size="11.97" font-weight="normal" fill="#303030" stroke="#303030" stroke-width="0.30" textLength="6.10" lengthAdjust="spacingAndGlyphs">0</text>
<text x="378.33" y="651.60" font-family="Liberation Serif" font-size="11.97" font-weight="normal" fill="#303030" stroke="#303030" stroke-width="0.30" textLength="4.42" lengthAdjust="spacingAndGlyphs">.</text>
<text x="383.10" y="651.60" font-family="Liberation Serif" font-size="11.97" font-weight="normal" fill="#303030" stroke="#303030" stroke-width="0.30" textLength="6.10" lengthAdjust="spacingAndGlyphs">0</text>
<text x="391.68" y="651.60" font-family="Liberation Serif" font-size="11.97" font-weight="normal" fill="#303030" stroke="#303030" stroke-width="0.30" textLength="6.10" lengthAdjust="spacingAndGlyphs">5</text>
<path d="M338.50,698.40 L338.50,691.30 L375.60,691.30 L375.60,698.40" fill="none" stroke="#000" stroke-width="3.00" stroke-linejoin="miter"/>
<text x="334.60" y="683.10" font-family="Liberation Serif" font-size="11.82" font-weight="normal" fill="#303030" stroke="#303030" stroke-width="0.35" textLength="5.97" lengthAdjust="spacingAndGlyphs">p</text>
<path d="M353.03,674.90 L345.14,678.65 L353.03,682.40" fill="none" stroke="#303030" stroke-width="1.20" stroke-linejoin="miter" stroke-miterlimit="10"/>
<text x="353.82" y="683.10" font-family="Liberation Serif" font-size="11.82" font-weight="normal" fill="#303030" stroke="#303030" stroke-width="0.30" textLength="6.10" lengthAdjust="spacingAndGlyphs">0</text>
<text x="360.18" y="683.10" font-family="Liberation Serif" font-size="11.82" font-weight="normal" fill="#303030" stroke="#303030" stroke-width="0.30" textLength="4.42" lengthAdjust="spacingAndGlyphs">.</text>
<text x="364.84" y="683.10" font-family="Liberation Serif" font-size="11.82" font-weight="normal" fill="#303030" stroke="#303030" stroke-width="0.30" textLength="6.10" lengthAdjust="spacingAndGlyphs">0</text>
<text x="373.18" y="683.10" font-family="Liberation Serif" font-size="11.82" font-weight="normal" fill="#303030" stroke="#303030" stroke-width="0.30" textLength="6.10" lengthAdjust="spacingAndGlyphs">5</text>
<path d="M342.10,703.00 L342.07,704.27 L342.05,705.54 L342.02,706.81 L342.00,708.08 L341.98,709.34 L341.96,710.61 L341.95,711.88 L341.93,713.15 L341.92,714.42 L341.91,715.69 L341.90,716.96 L341.90,718.23 L341.90,719.49 L341.90,720.76 L341.90,722.03 L341.91,723.30 L341.92,724.57 L341.92,725.84 L341.93,727.11 L341.94,728.38 L341.95,729.64 L341.97,730.91 L341.98,732.18 L342.00,733.45 L342.02,734.72 L342.04,735.99 L342.06,737.26 L342.08,738.53 L342.11,739.80 L342.13,741.06 L342.16,742.33 L342.19,743.60 L342.22,744.87 L342.25,746.14 L342.28,747.41 L342.32,748.68 L342.39,749.95 L342.49,751.21 L342.62,752.48 L342.76,753.75 L342.93,755.02 L343.11,756.29 L343.30,757.56 L343.50,758.83 L343.71,760.10 L343.92,761.37 L344.12,762.63 L344.34,763.90 L344.58,765.17 L344.84,766.44 L345.12,767.71 L345.41,768.98 L345.71,770.25 L346.01,771.52 L346.32,772.78 L346.61,774.05 L346.90,775.32 L347.21,776.59 L347.53,777.86 L347.86,779.13 L348.20,780.40 L348.54,781.67 L348.86,782.93 L349.17,784.20 L349.44,785.47 L349.68,786.74 L349.88,788.01 L350.04,789.28 L350.20,790.55 L350.35,791.82 L350.50,793.09 L350.63,794.35 L350.74,795.62 L350.82,796.89 L350.88,798.16 L350.90,799.43 L350.89,800.70 L350.85,801.97 L350.79,803.24 L350.70,804.50 L350.60,805.77 L350.49,807.04 L350.36,808.31 L350.22,809.58 L350.08,810.85 L349.89,812.12 L349.61,813.39 L349.28,814.66 L348.90,815.92 L348.49,817.19 L348.07,818.46 L347.64,819.73 L347.22,821.00 L346.84,822.27 L346.49,823.54 L346.16,824.81 L345.83,826.07 L345.49,827.34 L345.16,828.61 L344.84,829.88 L344.55,831.15 L344.29,832.42 L344.06,833.69 L343.88,834.96 L343.73,836.22 L343.59,837.49 L343.47,838.76 L343.37,840.03 L343.30,841.30 L336.10,841.30 L336.03,840.03 L335.93,838.76 L335.81,837.49 L335.67,836.22 L335.52,834.96 L335.34,833.69 L335.11,832.42 L334.85,831.15 L334.56,829.88 L334.24,828.61 L333.91,827.34 L333.57,826.07 L333.24,824.81 L332.91,823.54 L332.56,822.27 L332.18,821.00 L331.76,819.73 L331.33,818.46 L330.91,817.19 L330.50,815.92 L330.12,814.66 L329.79,813.39 L329.51,812.12 L329.32,810.85 L329.18,809.58 L329.04,808.31 L328.91,807.04 L328.80,805.77 L328.70,804.50 L328.61,803.24 L328.55,801.97 L328.51,800.70 L328.50,799.43 L328.52,798.16 L328.58,796.89 L328.66,795.62 L328.77,794.35 L328.90,793.09 L329.05,791.82 L329.20,790.55 L329.36,789.28 L329.52,788.01 L329.72,786.74 L329.96,785.47 L330.23,784.20 L330.54,782.93 L330.86,781.67 L331.20,780.40 L331.54,779.13 L331.87,777.86 L332.19,776.59 L332.50,775.32 L332.79,774.05 L333.08,772.78 L333.39,771.52 L333.69,770.25 L333.99,768.98 L334.28,767.71 L334.56,766.44 L334.82,765.17 L335.06,763.90 L335.28,762.63 L335.48,761.37 L335.69,760.10 L335.90,758.83 L336.10,757.56 L336.29,756.29 L336.47,755.02 L336.64,753.75 L336.78,752.48 L336.91,751.21 L337.01,749.95 L337.08,748.68 L337.12,747.41 L337.15,746.14 L337.18,744.87 L337.21,743.60 L337.24,742.33 L337.27,741.06 L337.29,739.80 L337.32,738.53 L337.34,737.26 L337.36,735.99 L337.38,734.72 L337.40,733.45 L337.42,732.18 L337.43,730.91 L337.45,729.64 L337.46,728.38 L337.47,727.11 L337.48,725.84 L337.48,724.57 L337.49,723.30 L337.50,722.03 L337.50,720.76 L337.50,719.49 L337.50,718.23 L337.50,716.96 L337.49,715.69 L337.48,714.42 L337.47,713.15 L337.45,711.88 L337.44,710.61 L337.42,709.34 L337.40,708.08 L337.38,706.81 L337.35,705.54 L337.33,704.27 L337.30,703.00 Z" fill="#000"/>
<path d="M339.70,705.45 L339.70,706.72 L339.70,707.99 L339.70,709.27 L339.70,710.54 L339.70,711.81 L339.70,713.08 L339.70,714.35 L339.70,715.63 L339.70,716.90 L339.70,718.17 L339.70,719.44 L339.70,720.71 L339.70,721.98 L339.70,723.26 L339.70,724.53 L339.70,725.80 L339.70,727.07 L339.70,728.34 L339.70,729.62 L339.70,730.89 L339.70,732.16 L339.70,733.43 L339.70,734.70 L339.70,735.98 L339.70,737.25 L339.70,738.52 L339.70,739.79 L339.70,741.06 L339.70,742.34 L339.70,743.61 L339.70,744.88 L339.70,746.15 L339.70,747.42 L339.70,748.69 L339.70,749.97 L339.70,751.24 L339.70,752.51 L339.70,753.78 L339.70,755.05 L339.70,756.33 L340.98,757.60 L341.15,758.87 L341.28,760.14 L341.41,761.41 L341.55,762.69 L341.68,763.96 L341.83,765.23 L341.99,766.50 L342.16,767.77 L342.35,769.05 L342.53,770.32 L342.72,771.59 L342.92,772.86 L343.11,774.13 L343.31,775.40 L343.49,776.68 L343.68,777.95 L343.95,779.22 L344.29,780.49 L344.63,781.76 L344.97,783.04 L345.29,784.31 L345.58,785.58 L345.84,786.85 L346.05,788.12 L346.22,789.40 L346.39,790.67 L346.54,791.94 L346.69,793.21 L346.82,794.48 L346.94,795.76 L347.03,797.03 L347.08,798.30 L347.10,799.57 L347.08,800.84 L347.04,802.11 L346.97,803.39 L346.88,804.66 L346.77,805.93 L346.65,807.20 L346.52,808.47 L346.38,809.75 L346.22,811.02 L345.97,812.29 L345.64,813.56 L345.27,814.83 L344.85,816.11 L344.42,817.38 L343.99,818.65 L343.63,819.92 L343.39,821.19 L343.18,822.47 L342.97,823.74 L342.75,825.01 L342.54,826.28 L342.33,827.55 L342.12,828.82 L341.94,830.10 L341.76,831.37 L341.61,832.64 L341.48,833.91 L341.38,835.18 L341.29,836.46 L341.20,837.73 L341.13,839.00 L338.27,839.00 L338.20,837.73 L338.11,836.46 L338.02,835.18 L337.92,833.91 L337.79,832.64 L337.64,831.37 L337.46,830.10 L337.28,828.82 L337.07,827.55 L336.86,826.28 L336.65,825.01 L336.43,823.74 L336.22,822.47 L336.01,821.19 L335.77,819.92 L335.41,818.65 L334.98,817.38 L334.55,816.11 L334.13,814.83 L333.76,813.56 L333.43,812.29 L333.18,811.02 L333.02,809.75 L332.88,808.47 L332.75,807.20 L332.63,805.93 L332.52,804.66 L332.43,803.39 L332.36,802.11 L332.32,800.84 L332.30,799.57 L332.32,798.30 L332.37,797.03 L332.46,795.76 L332.58,794.48 L332.71,793.21 L332.86,791.94 L333.01,790.67 L333.18,789.40 L333.35,788.12 L333.56,786.85 L333.82,785.58 L334.11,784.31 L334.43,783.04 L334.77,781.76 L335.11,780.49 L335.45,779.22 L335.72,777.95 L335.91,776.68 L336.09,775.40 L336.29,774.13 L336.48,772.86 L336.68,771.59 L336.87,770.32 L337.05,769.05 L337.24,767.77 L337.41,766.50 L337.57,765.23 L337.72,763.96 L337.85,762.69 L337.99,761.41 L338.12,760.14 L338.25,758.87 L338.42,757.60 L339.70,756.33 L339.70,755.05 L339.70,753.78 L339.70,752.51 L339.70,751.24 L339.70,749.97 L339.70,748.69 L339.70,747.42 L339.70,746.15 L339.70,744.88 L339.70,743.61 L339.70,742.34 L339.70,741.06 L339.70,739.79 L339.70,738.52 L339.70,737.25 L339.70,735.98 L339.70,734.70 L339.70,733.43 L339.70,732.16 L339.70,730.89 L339.70,729.62 L339.70,728.34 L339.70,727.07 L339.70,725.80 L339.70,724.53 L339.70,723.26 L339.70,721.98 L339.70,720.71 L339.70,719.44 L339.70,718.17 L339.70,716.90 L339.70,715.63 L339.70,714.35 L339.70,713.08 L339.70,711.81 L339.70,710.54 L339.70,709.27 L339.70,707.99 L339.70,706.72 L339.70,705.45 Z" fill="#eb87a9"/>
<line x1="332.57" y1="797.10" x2="346.83" y2="797.10" stroke="#000" stroke-width="1.6" stroke-dasharray="2.4 2.4"/>
<line x1="335.71" y1="778.90" x2="343.69" y2="778.90" stroke="rgba(0,0,0,0.45)" stroke-width="1" stroke-dasharray="1.2 2"/>
<line x1="333.19" y1="809.50" x2="346.21" y2="809.50" stroke="rgba(0,0,0,0.45)" stroke-width="1" stroke-dasharray="1.2 2"/>
<path d="M379.60,704.60 L379.60,705.87 L379.60,707.13 L379.60,708.40 L379.60,709.67 L379.50,710.93 L379.13,712.20 L378.66,713.46 L378.25,714.73 L378.10,716.00 L378.13,717.26 L378.20,718.53 L378.30,719.80 L378.43,721.06 L378.57,722.33 L378.72,723.60 L378.86,724.86 L379.00,726.13 L379.12,727.39 L379.24,728.66 L379.38,729.93 L379.52,731.19 L379.65,732.46 L379.76,733.73 L379.85,734.99 L379.90,736.26 L379.88,737.52 L379.78,738.79 L379.61,740.06 L379.40,741.32 L379.16,742.59 L378.93,743.86 L378.73,745.12 L378.58,746.39 L378.50,747.66 L378.56,748.92 L378.82,750.19 L379.20,751.45 L379.64,752.72 L380.06,753.99 L380.38,755.25 L380.56,756.52 L380.67,757.79 L380.76,759.05 L380.84,760.32 L380.90,761.59 L380.97,762.85 L381.04,764.12 L381.12,765.38 L381.23,766.65 L381.38,767.92 L381.60,769.18 L381.88,770.45 L382.22,771.72 L382.60,772.98 L383.00,774.25 L383.41,775.51 L383.82,776.78 L384.21,778.05 L384.57,779.31 L384.89,780.58 L385.24,781.85 L385.60,783.11 L385.98,784.38 L386.34,785.65 L386.67,786.91 L386.95,788.18 L387.16,789.44 L387.28,790.71 L387.30,791.98 L387.28,793.24 L387.25,794.51 L387.20,795.78 L387.13,797.04 L387.05,798.31 L386.95,799.58 L386.85,800.84 L386.73,802.11 L386.60,803.37 L386.45,804.64 L386.17,805.91 L385.72,807.17 L385.15,808.44 L384.51,809.71 L383.83,810.97 L383.16,812.24 L382.53,813.50 L381.99,814.77 L381.56,816.04 L381.15,817.30 L380.74,818.57 L380.36,819.84 L380.05,821.10 L379.81,822.37 L379.70,823.64 L379.65,824.90 L379.61,826.17 L379.57,827.43 L379.54,828.70 L379.52,829.97 L379.50,831.23 L379.50,832.50 L372.70,832.50 L372.70,831.23 L372.68,829.97 L372.66,828.70 L372.63,827.43 L372.59,826.17 L372.55,824.90 L372.50,823.64 L372.39,822.37 L372.15,821.10 L371.84,819.84 L371.46,818.57 L371.05,817.30 L370.64,816.04 L370.21,814.77 L369.67,813.50 L369.04,812.24 L368.37,810.97 L367.69,809.71 L367.05,808.44 L366.48,807.17 L366.03,805.91 L365.75,804.64 L365.60,803.37 L365.47,802.11 L365.35,800.84 L365.25,799.58 L365.15,798.31 L365.07,797.04 L365.00,795.78 L364.95,794.51 L364.92,793.24 L364.90,791.98 L364.92,790.71 L365.04,789.44 L365.25,788.18 L365.53,786.91 L365.86,785.65 L366.22,784.38 L366.60,783.11 L366.96,781.85 L367.31,780.58 L367.63,779.31 L367.99,778.05 L368.38,776.78 L368.79,775.51 L369.20,774.25 L369.60,772.98 L369.98,771.72 L370.32,770.45 L370.60,769.18 L370.82,767.92 L370.97,766.65 L371.08,765.38 L371.16,764.12 L371.23,762.85 L371.30,761.59 L371.36,760.32 L371.44,759.05 L371.53,757.79 L371.64,756.52 L371.82,755.25 L372.14,753.99 L372.56,752.72 L373.00,751.45 L373.38,750.19 L373.64,748.92 L373.70,747.66 L373.62,746.39 L373.47,745.12 L373.27,743.86 L373.04,742.59 L372.80,741.32 L372.59,740.06 L372.42,738.79 L372.32,737.52 L372.30,736.26 L372.35,734.99 L372.44,733.73 L372.55,732.46 L372.68,731.19 L372.82,729.93 L372.96,728.66 L373.08,727.39 L373.20,726.13 L373.34,724.86 L373.48,723.60 L373.63,722.33 L373.77,721.06 L373.90,719.80 L374.00,718.53 L374.07,717.26 L374.10,716.00 L373.95,714.73 L373.54,713.46 L373.07,712.20 L372.70,710.93 L372.60,709.67 L372.60,708.40 L372.60,707.13 L372.60,705.87 L372.60,704.60 Z" fill="#000"/>
<path d="M376.10,708.15 L376.10,709.42 L376.10,710.70 L376.10,711.97 L376.10,713.24 L376.10,714.51 L376.10,715.79 L376.10,717.06 L376.10,718.33 L376.10,719.60 L376.10,720.88 L376.10,722.15 L376.10,723.42 L376.10,724.69 L376.10,725.97 L376.10,727.24 L376.10,728.51 L376.10,729.78 L376.10,731.06 L376.10,732.33 L377.45,733.60 L377.53,734.88 L377.57,736.15 L377.56,737.42 L377.48,738.69 L376.10,739.97 L376.10,741.24 L376.10,742.51 L376.10,743.78 L376.10,745.06 L376.10,746.33 L376.10,747.60 L376.10,748.87 L376.10,750.15 L376.10,751.42 L376.10,752.69 L377.55,753.96 L377.81,755.24 L377.98,756.51 L378.06,757.78 L378.13,759.06 L378.18,760.33 L378.22,761.60 L378.26,762.87 L378.31,764.15 L378.36,765.42 L378.43,766.69 L378.51,767.96 L378.63,769.24 L378.78,770.51 L378.97,771.78 L379.19,773.05 L379.43,774.33 L379.69,775.60 L379.95,776.87 L380.27,778.14 L380.65,779.42 L381.01,780.69 L381.33,781.96 L381.68,783.24 L382.06,784.51 L382.43,785.78 L382.78,787.05 L383.10,788.33 L383.34,789.60 L383.48,790.87 L383.50,792.14 L383.48,793.42 L383.44,794.69 L383.39,795.96 L383.31,797.23 L383.23,798.51 L383.13,799.78 L383.01,801.05 L382.89,802.32 L382.76,803.60 L382.51,804.87 L382.03,806.14 L381.42,807.42 L380.75,808.69 L380.07,809.96 L379.57,811.23 L379.22,812.51 L378.94,813.78 L378.70,815.05 L378.44,816.32 L378.18,817.60 L377.95,818.87 L377.74,820.14 L377.58,821.41 L377.46,822.69 L376.10,823.96 L376.10,825.23 L376.10,826.50 L376.10,827.78 L376.10,829.05 L376.10,829.05 L376.10,827.78 L376.10,826.50 L376.10,825.23 L376.10,823.96 L374.74,822.69 L374.62,821.41 L374.46,820.14 L374.25,818.87 L374.02,817.60 L373.76,816.32 L373.50,815.05 L373.26,813.78 L372.98,812.51 L372.63,811.23 L372.13,809.96 L371.45,808.69 L370.78,807.42 L370.17,806.14 L369.69,804.87 L369.44,803.60 L369.31,802.32 L369.19,801.05 L369.07,799.78 L368.97,798.51 L368.89,797.23 L368.81,795.96 L368.76,794.69 L368.72,793.42 L368.70,792.14 L368.72,790.87 L368.86,789.60 L369.10,788.33 L369.42,787.05 L369.77,785.78 L370.14,784.51 L370.52,783.24 L370.87,781.96 L371.19,780.69 L371.55,779.42 L371.93,778.14 L372.25,776.87 L372.51,775.60 L372.77,774.33 L373.01,773.05 L373.23,771.78 L373.42,770.51 L373.57,769.24 L373.69,767.96 L373.77,766.69 L373.84,765.42 L373.89,764.15 L373.94,762.87 L373.98,761.60 L374.02,760.33 L374.07,759.06 L374.14,757.78 L374.22,756.51 L374.39,755.24 L374.65,753.96 L376.10,752.69 L376.10,751.42 L376.10,750.15 L376.10,748.87 L376.10,747.60 L376.10,746.33 L376.10,745.06 L376.10,743.78 L376.10,742.51 L376.10,741.24 L376.10,739.97 L374.72,738.69 L374.64,737.42 L374.63,736.15 L374.67,734.88 L374.75,733.60 L376.10,732.33 L376.10,731.06 L376.10,729.78 L376.10,728.51 L376.10,727.24 L376.10,725.97 L376.10,724.69 L376.10,723.42 L376.10,722.15 L376.10,720.88 L376.10,719.60 L376.10,718.33 L376.10,717.06 L376.10,715.79 L376.10,714.51 L376.10,713.24 L376.10,711.97 L376.10,710.70 L376.10,709.42 L376.10,708.15 Z" fill="#91c3f5"/>
<line x1="369.33" y1="788.20" x2="382.87" y2="788.20" stroke="#5a7fae" stroke-width="1.6" stroke-dasharray="2.4 2.4"/>
<line x1="369.38" y1="801.00" x2="382.82" y2="801.00" stroke="rgba(0,0,0,0.45)" stroke-width="1" stroke-dasharray="1.2 2"/>
<path d="M419.40,724.50 L418.84,725.78 L418.32,727.05 L417.85,728.33 L417.46,729.60 L417.15,730.88 L416.93,732.16 L416.74,733.43 L416.57,734.71 L416.44,735.98 L416.34,737.26 L416.30,738.53 L416.34,739.81 L416.49,741.09 L416.71,742.36 L417.01,743.64 L417.34,744.91 L417.70,746.19 L418.07,747.47 L418.43,748.74 L418.75,750.02 L419.09,751.29 L419.47,752.57 L419.87,753.84 L420.28,755.12 L420.70,756.40 L421.11,757.67 L421.50,758.95 L421.86,760.22 L422.18,761.50 L422.45,762.78 L422.65,764.05 L422.81,765.33 L422.95,766.60 L423.07,767.88 L423.17,769.16 L423.27,770.43 L423.36,771.71 L423.46,772.98 L423.58,774.26 L423.71,775.53 L423.87,776.81 L424.07,778.09 L424.43,779.36 L424.89,780.64 L425.36,781.91 L425.73,783.19 L425.90,784.47 L425.85,785.74 L425.68,787.02 L425.41,788.29 L425.07,789.57 L424.69,790.84 L424.28,792.12 L423.86,793.40 L423.25,794.67 L422.46,795.95 L421.60,797.22 L420.78,798.50 L420.10,799.78 L419.66,801.05 L419.48,802.33 L419.33,803.60 L419.22,804.88 L419.13,806.16 L419.04,807.43 L418.97,808.71 L418.89,809.98 L418.80,811.26 L418.70,812.53 L418.57,813.81 L418.43,815.09 L418.28,816.36 L418.13,817.64 L417.99,818.91 L417.86,820.19 L417.75,821.47 L417.68,822.74 L417.60,824.02 L417.53,825.29 L417.47,826.57 L417.41,827.84 L417.35,829.12 L417.30,830.40 L417.26,831.67 L417.23,832.95 L417.21,834.22 L417.20,835.50 L411.20,835.50 L411.19,834.22 L411.17,832.95 L411.14,831.67 L411.10,830.40 L411.05,829.12 L410.99,827.84 L410.93,826.57 L410.87,825.29 L410.80,824.02 L410.72,822.74 L410.65,821.47 L410.54,820.19 L410.41,818.91 L410.27,817.64 L410.12,816.36 L409.97,815.09 L409.83,813.81 L409.70,812.53 L409.60,811.26 L409.51,809.98 L409.43,808.71 L409.36,807.43 L409.27,806.16 L409.18,804.88 L409.07,803.60 L408.92,802.33 L408.74,801.05 L408.30,799.78 L407.62,798.50 L406.80,797.22 L405.94,795.95 L405.15,794.67 L404.54,793.40 L404.12,792.12 L403.71,790.84 L403.33,789.57 L402.99,788.29 L402.72,787.02 L402.55,785.74 L402.50,784.47 L402.67,783.19 L403.04,781.91 L403.51,780.64 L403.97,779.36 L404.33,778.09 L404.53,776.81 L404.69,775.53 L404.82,774.26 L404.94,772.98 L405.04,771.71 L405.13,770.43 L405.23,769.16 L405.33,767.88 L405.45,766.60 L405.59,765.33 L405.75,764.05 L405.95,762.78 L406.22,761.50 L406.54,760.22 L406.90,758.95 L407.29,757.67 L407.70,756.40 L408.12,755.12 L408.53,753.84 L408.93,752.57 L409.31,751.29 L409.65,750.02 L409.97,748.74 L410.33,747.47 L410.70,746.19 L411.06,744.91 L411.39,743.64 L411.69,742.36 L411.91,741.09 L412.06,739.81 L412.10,738.53 L412.06,737.26 L411.96,735.98 L411.83,734.71 L411.66,733.43 L411.47,732.16 L411.25,730.88 L410.94,729.60 L410.55,728.33 L410.08,727.05 L409.56,725.78 L409.00,724.50 Z" fill="#000"/>
<path d="M415.66,727.32 L414.20,728.59 L414.20,729.85 L414.20,731.12 L414.20,732.39 L414.20,733.65 L414.20,734.92 L414.20,736.19 L414.20,737.45 L414.20,738.72 L414.20,739.99 L414.20,741.25 L414.20,742.52 L414.20,743.79 L414.20,745.05 L414.20,746.32 L415.64,747.59 L415.88,748.85 L416.10,750.12 L416.30,751.39 L416.52,752.65 L416.76,753.92 L417.01,755.19 L417.27,756.45 L417.53,757.72 L417.79,758.99 L418.05,760.25 L418.28,761.52 L418.58,762.79 L418.81,764.05 L418.99,765.32 L419.13,766.59 L419.25,767.85 L419.36,769.12 L419.45,770.39 L419.55,771.65 L419.65,772.92 L419.76,774.19 L419.88,775.45 L420.03,776.72 L420.20,777.99 L420.44,779.25 L420.81,780.52 L421.26,781.78 L421.73,783.05 L422.08,784.32 L422.04,785.58 L421.84,786.85 L421.53,788.12 L421.16,789.38 L420.76,790.65 L420.36,791.92 L419.71,793.18 L418.89,794.45 L418.05,795.72 L417.44,796.98 L417.11,798.25 L416.87,799.52 L416.73,800.78 L416.63,802.05 L416.54,803.32 L416.47,804.58 L416.41,805.85 L416.36,807.12 L416.31,808.38 L416.26,809.65 L416.20,810.92 L416.13,812.18 L416.05,813.45 L415.96,814.72 L415.87,815.98 L415.77,817.25 L415.68,818.52 L415.59,819.78 L414.20,821.05 L414.20,822.32 L414.20,823.58 L414.20,824.85 L414.20,826.12 L414.20,827.38 L414.20,828.65 L414.20,829.92 L414.20,831.18 L414.20,832.45 L414.20,832.45 L414.20,831.18 L414.20,829.92 L414.20,828.65 L414.20,827.38 L414.20,826.12 L414.20,824.85 L414.20,823.58 L414.20,822.32 L414.20,821.05 L412.81,819.78 L412.72,818.52 L412.63,817.25 L412.53,815.98 L412.44,814.72 L412.35,813.45 L412.27,812.18 L412.20,810.92 L412.14,809.65 L412.09,808.38 L412.04,807.12 L411.99,805.85 L411.93,804.58 L411.86,803.32 L411.77,802.05 L411.67,800.78 L411.53,799.52 L411.29,798.25 L410.96,796.98 L410.35,795.72 L409.51,794.45 L408.69,793.18 L408.04,791.92 L407.64,790.65 L407.24,789.38 L406.87,788.12 L406.56,786.85 L406.36,785.58 L406.32,784.32 L406.67,783.05 L407.14,781.78 L407.59,780.52 L407.96,779.25 L408.20,777.99 L408.37,776.72 L408.52,775.45 L408.64,774.19 L408.75,772.92 L408.85,771.65 L408.95,770.39 L409.04,769.12 L409.15,767.85 L409.27,766.59 L409.41,765.32 L409.59,764.05 L409.82,762.79 L410.12,761.52 L410.35,760.25 L410.61,758.99 L410.87,757.72 L411.13,756.45 L411.39,755.19 L411.64,753.92 L411.88,752.65 L412.10,751.39 L412.30,750.12 L412.52,748.85 L412.76,747.59 L414.20,746.32 L414.20,745.05 L414.20,743.79 L414.20,742.52 L414.20,741.25 L414.20,739.99 L414.20,738.72 L414.20,737.45 L414.20,736.19 L414.20,734.92 L414.20,733.65 L414.20,732.39 L414.20,731.12 L414.20,729.85 L414.20,728.59 L412.74,727.32 Z" fill="#a4ae72"/>
<line x1="406.83" y1="783.20" x2="421.57" y2="783.20" stroke="#000" stroke-width="1.6" stroke-dasharray="2.4 2.4"/>
<text transform="translate(344.50,881.70) rotate(-45)" font-family="Liberation Serif" font-size="17.00" fill="#050505" stroke="#050505" stroke-width="0.25" text-anchor="end">mild</text>
<text transform="translate(383.90,879.70) rotate(-45)" font-family="Liberation Serif" font-size="17.00" fill="#050505" stroke="#050505" stroke-width="0.25" text-anchor="end">moderate</text>
<text transform="translate(419.90,879.70) rotate(-45)" font-family="Liberation Serif" font-size="17.00" fill="#050505" stroke="#050505" stroke-width="0.25" text-anchor="end">severe</text>
</svg>
</body></html>
